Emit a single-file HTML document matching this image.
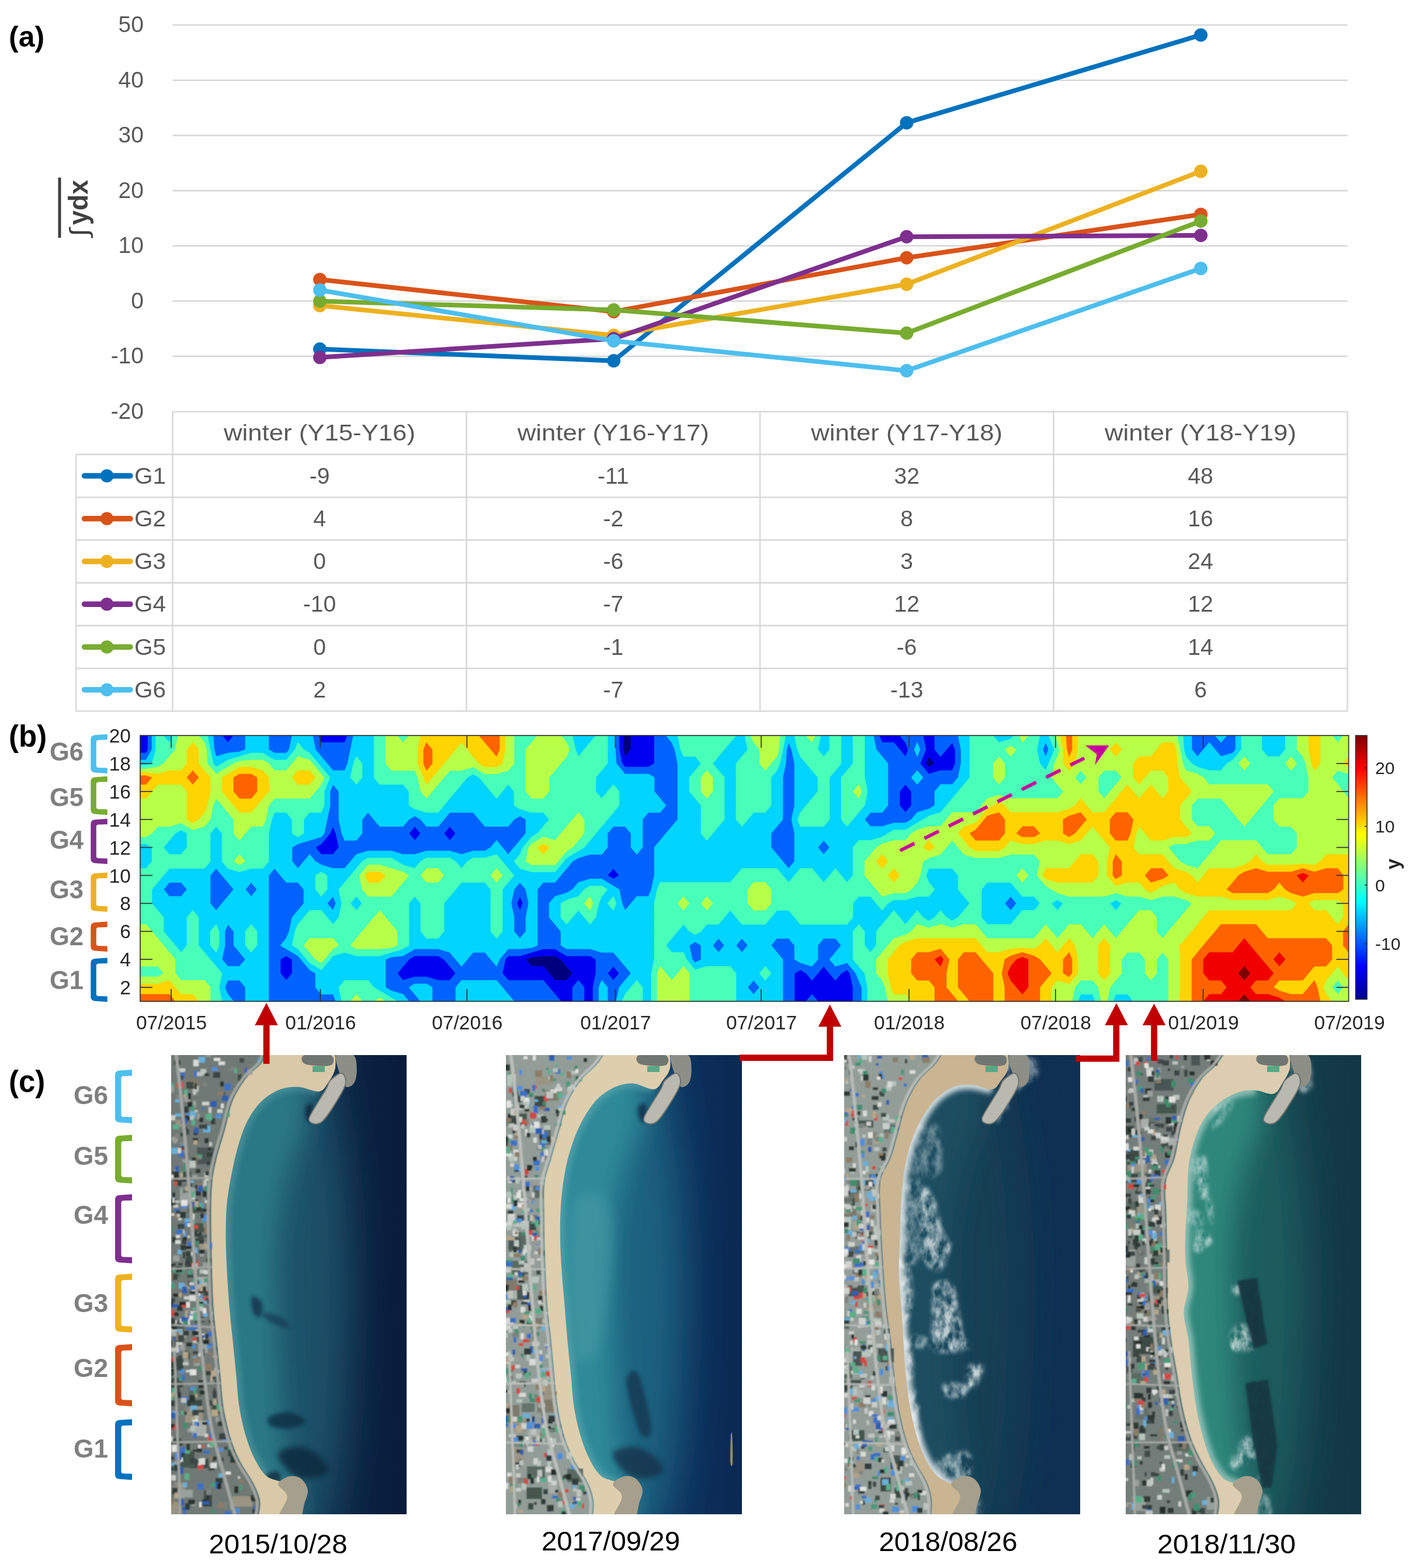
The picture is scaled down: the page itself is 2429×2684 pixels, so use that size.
<!DOCTYPE html>
<html lang="en"><head><meta charset="utf-8"><title>Figure</title>
<style>
html,body{margin:0;padding:0;background:#fff;}
body{width:2429px;height:2684px;overflow:hidden;font-family:"Liberation Sans",sans-serif;}
svg{display:block;}
</style></head><body>
<svg width="2429" height="2684" viewBox="0 0 2429 2684">
<rect width="2429" height="2684" fill="#fff"/>
<line x1="295.5" x2="2306.5" y1="42.9" y2="42.9" stroke="#d9d9d9" stroke-width="2.6"/>
<line x1="295.5" x2="2306.5" y1="137.4" y2="137.4" stroke="#d9d9d9" stroke-width="2.6"/>
<line x1="295.5" x2="2306.5" y1="231.9" y2="231.9" stroke="#d9d9d9" stroke-width="2.6"/>
<line x1="295.5" x2="2306.5" y1="326.4" y2="326.4" stroke="#d9d9d9" stroke-width="2.6"/>
<line x1="295.5" x2="2306.5" y1="420.9" y2="420.9" stroke="#d9d9d9" stroke-width="2.6"/>
<line x1="295.5" x2="2306.5" y1="515.4" y2="515.4" stroke="#d9d9d9" stroke-width="2.6"/>
<line x1="295.5" x2="2306.5" y1="609.9" y2="609.9" stroke="#d9d9d9" stroke-width="2.6"/>
<g font-family="'Liberation Sans', sans-serif" font-size="39" fill="#595959" text-anchor="end">
<text x="246" y="55.4">50</text>
<text x="246" y="149.9">40</text>
<text x="246" y="244.4">30</text>
<text x="246" y="338.9">20</text>
<text x="246" y="433.4">10</text>
<text x="246" y="527.9">0</text>
<text x="246" y="622.4">-10</text>
<text x="246" y="716.9">-20</text>
</g>
<g stroke="#d9d9d9" stroke-width="2.6" fill="none">
<line x1="295.5" x2="2306.5" y1="704.7" y2="704.7"/>
<line x1="130" x2="2306.5" y1="777.9" y2="777.9"/>
<line x1="130" x2="2306.5" y1="851.2" y2="851.2"/>
<line x1="130" x2="2306.5" y1="924.4" y2="924.4"/>
<line x1="130" x2="2306.5" y1="997.6" y2="997.6"/>
<line x1="130" x2="2306.5" y1="1070.9" y2="1070.9"/>
<line x1="130" x2="2306.5" y1="1144.1" y2="1144.1"/>
<line x1="130" x2="2306.5" y1="1217.3" y2="1217.3"/>
<line x1="130" x2="130" y1="777.9" y2="1217.3"/>
<line x1="295.5" x2="295.5" y1="704.7" y2="1217.3"/>
<line x1="798.5" x2="798.5" y1="704.7" y2="1217.3"/>
<line x1="1301" x2="1301" y1="704.7" y2="1217.3"/>
<line x1="1803.5" x2="1803.5" y1="704.7" y2="1217.3"/>
<line x1="2306.5" x2="2306.5" y1="704.7" y2="1217.3"/>
</g>
<g font-family="'Liberation Sans', sans-serif" font-size="39" fill="#595959" text-anchor="middle">
<text x="547.0" y="754.3" textLength="328" lengthAdjust="spacingAndGlyphs">winter (Y15-Y16)</text>
<text x="1049.8" y="754.3" textLength="328" lengthAdjust="spacingAndGlyphs">winter (Y16-Y17)</text>
<text x="1552.2" y="754.3" textLength="328" lengthAdjust="spacingAndGlyphs">winter (Y17-Y18)</text>
<text x="2055.0" y="754.3" textLength="328" lengthAdjust="spacingAndGlyphs">winter (Y18-Y19)</text>
<text x="547.0" y="827.5">-9</text>
<text x="1049.8" y="827.5">-11</text>
<text x="1552.2" y="827.5">32</text>
<text x="2055.0" y="827.5">48</text>
<text x="547.0" y="900.8">4</text>
<text x="1049.8" y="900.8">-2</text>
<text x="1552.2" y="900.8">8</text>
<text x="2055.0" y="900.8">16</text>
<text x="547.0" y="974.0">0</text>
<text x="1049.8" y="974.0">-6</text>
<text x="1552.2" y="974.0">3</text>
<text x="2055.0" y="974.0">24</text>
<text x="547.0" y="1047.2">-10</text>
<text x="1049.8" y="1047.2">-7</text>
<text x="1552.2" y="1047.2">12</text>
<text x="2055.0" y="1047.2">12</text>
<text x="547.0" y="1120.5">0</text>
<text x="1049.8" y="1120.5">-1</text>
<text x="1552.2" y="1120.5">-6</text>
<text x="2055.0" y="1120.5">14</text>
<text x="547.0" y="1193.7">2</text>
<text x="1049.8" y="1193.7">-7</text>
<text x="1552.2" y="1193.7">-13</text>
<text x="2055.0" y="1193.7">6</text>
</g>
<g font-family="'Liberation Sans', sans-serif" font-size="39" fill="#595959">
<line x1="144.5" x2="223" y1="814.5" y2="814.5" stroke="#0072bd" stroke-width="9.5" stroke-linecap="round"/>
<circle cx="183" cy="814.5" r="11.3" fill="#0072bd"/>
<text x="230" y="827.5" textLength="54" lengthAdjust="spacingAndGlyphs">G1</text>
<line x1="144.5" x2="223" y1="887.8" y2="887.8" stroke="#d95319" stroke-width="9.5" stroke-linecap="round"/>
<circle cx="183" cy="887.8" r="11.3" fill="#d95319"/>
<text x="230" y="900.8" textLength="54" lengthAdjust="spacingAndGlyphs">G2</text>
<line x1="144.5" x2="223" y1="961.0" y2="961.0" stroke="#edb120" stroke-width="9.5" stroke-linecap="round"/>
<circle cx="183" cy="961.0" r="11.3" fill="#edb120"/>
<text x="230" y="974.0" textLength="54" lengthAdjust="spacingAndGlyphs">G3</text>
<line x1="144.5" x2="223" y1="1034.2" y2="1034.2" stroke="#7e2f8e" stroke-width="9.5" stroke-linecap="round"/>
<circle cx="183" cy="1034.2" r="11.3" fill="#7e2f8e"/>
<text x="230" y="1047.2" textLength="54" lengthAdjust="spacingAndGlyphs">G4</text>
<line x1="144.5" x2="223" y1="1107.5" y2="1107.5" stroke="#77ac30" stroke-width="9.5" stroke-linecap="round"/>
<circle cx="183" cy="1107.5" r="11.3" fill="#77ac30"/>
<text x="230" y="1120.5" textLength="54" lengthAdjust="spacingAndGlyphs">G5</text>
<line x1="144.5" x2="223" y1="1180.7" y2="1180.7" stroke="#4dbeee" stroke-width="9.5" stroke-linecap="round"/>
<circle cx="183" cy="1180.7" r="11.3" fill="#4dbeee"/>
<text x="230" y="1193.7" textLength="54" lengthAdjust="spacingAndGlyphs">G6</text>
</g>
<polyline points="547.5,597.6 1050.5,617.5 1552,210.2 2055.5,59.9" fill="none" stroke="#0072bd" stroke-width="8" stroke-linejoin="round" stroke-linecap="round"/>
<circle cx="547.5" cy="597.6" r="11.5" fill="#0072bd"/>
<circle cx="1050.5" cy="617.5" r="11.5" fill="#0072bd"/>
<circle cx="1552" cy="210.2" r="11.5" fill="#0072bd"/>
<circle cx="2055.5" cy="59.9" r="11.5" fill="#0072bd"/>
<polyline points="547.5,478.5 1050.5,533.4 1552,441.2 2055.5,367.0" fill="none" stroke="#d95319" stroke-width="8" stroke-linejoin="round" stroke-linecap="round"/>
<circle cx="547.5" cy="478.5" r="11.5" fill="#d95319"/>
<circle cx="1050.5" cy="533.4" r="11.5" fill="#d95319"/>
<circle cx="1552" cy="441.2" r="11.5" fill="#d95319"/>
<circle cx="2055.5" cy="367.0" r="11.5" fill="#d95319"/>
<polyline points="547.5,523.0 1050.5,574.0 1552,486.5 2055.5,293.3" fill="none" stroke="#edb120" stroke-width="8" stroke-linejoin="round" stroke-linecap="round"/>
<circle cx="547.5" cy="523.0" r="11.5" fill="#edb120"/>
<circle cx="1050.5" cy="574.0" r="11.5" fill="#edb120"/>
<circle cx="1552" cy="486.5" r="11.5" fill="#edb120"/>
<circle cx="2055.5" cy="293.3" r="11.5" fill="#edb120"/>
<polyline points="547.5,611.8 1050.5,579.7 1552,405.2 2055.5,402.9" fill="none" stroke="#7e2f8e" stroke-width="8" stroke-linejoin="round" stroke-linecap="round"/>
<circle cx="547.5" cy="611.8" r="11.5" fill="#7e2f8e"/>
<circle cx="1050.5" cy="579.7" r="11.5" fill="#7e2f8e"/>
<circle cx="1552" cy="405.2" r="11.5" fill="#7e2f8e"/>
<circle cx="2055.5" cy="402.9" r="11.5" fill="#7e2f8e"/>
<polyline points="547.5,515.4 1050.5,530.5 1552,570.2 2055.5,378.4" fill="none" stroke="#77ac30" stroke-width="8" stroke-linejoin="round" stroke-linecap="round"/>
<circle cx="547.5" cy="515.4" r="11.5" fill="#77ac30"/>
<circle cx="1050.5" cy="530.5" r="11.5" fill="#77ac30"/>
<circle cx="1552" cy="570.2" r="11.5" fill="#77ac30"/>
<circle cx="2055.5" cy="378.4" r="11.5" fill="#77ac30"/>
<polyline points="547.5,496.5 1050.5,583.4 1552,634.5 2055.5,459.6" fill="none" stroke="#4dbeee" stroke-width="8" stroke-linejoin="round" stroke-linecap="round"/>
<circle cx="547.5" cy="496.5" r="11.5" fill="#4dbeee"/>
<circle cx="1050.5" cy="583.4" r="11.5" fill="#4dbeee"/>
<circle cx="1552" cy="634.5" r="11.5" fill="#4dbeee"/>
<circle cx="2055.5" cy="459.6" r="11.5" fill="#4dbeee"/>
<text x="15" y="80" font-family="'Liberation Sans', sans-serif" font-weight="bold" font-size="50" fill="#000">(a)</text>
<g transform="translate(150,405) rotate(-90)" font-family="'Liberation Sans', 'DejaVu Sans', sans-serif" fill="#404040"><text x="0" y="0" font-size="44" textLength="14" lengthAdjust="spacingAndGlyphs">∫</text><text x="20" y="0" font-weight="bold" font-size="46.5" textLength="77" lengthAdjust="spacingAndGlyphs">ydx</text><rect x="-2" y="-50.5" width="103" height="5" stroke="none"/></g>
<g shape-rendering="geometricPrecision">
<rect x="240.0" y="1259.0" width="2068.6" height="455.0" fill="#47ffb8"/>
<path d="M1070,1259 1080,1259 1080,1282.9 1070,1294.9 1066.7,1282.9 1066.7,1259ZM1590,1294.9 1600,1306.9 1590,1312.9 1585,1306.9ZM910,1638.2 930,1636.2 950,1636.2 960,1642.2 970,1654.1 980,1666.1 970,1678.1 950,1678.1 940,1666.1 930,1654.1 910,1654.1 900,1642.2Z" fill="#00007f" stroke="#00007f" stroke-width="0.6" fill-rule="evenodd"/>
<path d="M250,1259 253.3,1259 253.3,1282.9 250,1288.9 240,1288.9 240,1282.9 240,1259ZM390,1259 400,1259 390,1271 380,1259ZM550,1259 570,1259 590,1259 595,1259 590,1271 570,1271 550,1271 545,1259ZM1066.7,1282.9 1070,1294.9 1080,1282.9 1080,1259 1090,1259 1110,1259 1120,1259 1120,1282.9 1120,1306.9 1110,1312.9 1090,1312.9 1070,1312.9 1065,1306.9 1060,1282.9 1060,1259 1066.7,1259ZM1510,1259 1530,1259 1540,1259 1550,1271 1555,1282.9 1550,1294.9 1540,1282.9 1530,1271 1510,1271 1505,1259ZM1590,1259 1600,1259 1600,1282.9 1610,1294.9 1620,1282.9 1630,1271 1635,1282.9 1635,1306.9 1630,1318.9 1610,1318.9 1590,1324.9 1575,1306.9 1585,1282.9 1580,1259ZM1585,1306.9 1590,1312.9 1600,1306.9 1590,1294.9ZM1550,1342.8 1560,1354.8 1560,1378.7 1550,1390.7 1540,1378.7 1540,1354.8ZM570,1414.7 575,1426.6 580,1450.6 570,1462.6 550,1462.6 540,1450.6 550,1444.6 565,1426.6ZM710,1414.7 720,1426.6 710,1438.6 700,1426.6ZM770,1414.7 780,1426.6 770,1438.6 760,1426.6ZM1050,1486.5 1060,1498.5 1050,1504.5 1040,1498.5ZM890,1534.4 895,1546.4 890,1558.3 885,1546.4ZM490,1636.2 500,1642.2 500,1666.1 490,1678.1 480,1666.1 480,1642.2ZM710,1636.2 730,1636.2 750,1636.2 760,1642.2 770,1654.1 780,1666.1 770,1678.1 750,1678.1 730,1672.1 710,1672.1 690,1678.1 680,1666.1 690,1654.1 700,1642.2ZM870,1636.2 890,1636.2 910,1630.2 930,1624.2 950,1624.2 970,1636.2 990,1636.2 1010,1636.2 1020,1642.2 1020,1666.1 1015,1690.1 1015,1714 1010,1714 1000,1714 1000,1690.1 990,1678.1 980,1690.1 980,1714 970,1714 960,1714 950,1702 940,1690.1 930,1678.1 910,1678.1 890,1678.1 870,1678.1 860,1666.1 865,1642.2ZM900,1642.2 910,1654.1 930,1654.1 940,1666.1 950,1678.1 970,1678.1 980,1666.1 970,1654.1 960,1642.2 950,1636.2 930,1636.2 910,1638.2ZM1050,1654.1 1060,1666.1 1050,1678.1 1040,1666.1ZM1370,1660.1 1380,1666.1 1390,1678.1 1400,1666.1 1410,1654.1 1420,1666.1 1430,1678.1 1440,1666.1 1450,1660.1 1455,1666.1 1460,1690.1 1460,1714 1450,1714 1430,1714 1410,1714 1400,1714 1390,1702 1380,1714 1370,1714 1360,1714 1360,1690.1 1360,1666.1Z" fill="#0000f1" stroke="#0000f1" stroke-width="0.6" fill-rule="evenodd"/>
<path d="M260,1282.9 250,1300.9 240,1300.9 240,1288.9 250,1288.9 253.3,1282.9 253.3,1259 260,1259ZM370,1259 380,1259 390,1271 400,1259 410,1259 420,1259 420,1282.9 410,1286.9 390,1288.9 370,1294.9 366.7,1282.9 365,1259ZM470,1259 490,1259 500,1259 495,1282.9 490,1288.9 470,1288.9 460,1282.9 460,1259ZM550,1271 570,1271 590,1271 595,1259 605,1259 600,1282.9 595,1306.9 590,1318.9 570,1318.9 560,1306.9 550,1294.9 540,1282.9 535,1259 545,1259ZM1060,1282.9 1065,1306.9 1070,1312.9 1090,1312.9 1110,1312.9 1120,1306.9 1120,1282.9 1120,1259 1130,1259 1140,1259 1150,1271 1155,1282.9 1160,1306.9 1160,1330.8 1160,1354.8 1160,1378.7 1160,1402.7 1150,1414.7 1140,1426.6 1130,1438.6 1120,1450.6 1120,1474.5 1120,1498.5 1115,1522.4 1110,1534.4 1090,1534.4 1080,1546.4 1070,1558.3 1065,1546.4 1060,1522.4 1050,1516.4 1030,1504.5 1010,1504.5 990,1510.4 980,1522.4 970,1528.4 950,1534.4 940,1546.4 940,1570.3 950,1582.3 960,1594.3 960,1618.2 970,1624.2 990,1624.2 1010,1624.2 1030,1630.2 1050,1630.2 1060,1642.2 1070,1654.1 1080,1666.1 1070,1678.1 1060,1690.1 1055,1714 1050,1714 1040,1714 1040,1690.1 1030,1678.1 1025,1690.1 1025,1714 1015,1714 1015,1690.1 1020,1666.1 1020,1642.2 1010,1636.2 990,1636.2 970,1636.2 950,1624.2 930,1624.2 910,1630.2 890,1636.2 870,1636.2 865,1642.2 860,1666.1 870,1678.1 890,1678.1 910,1678.1 930,1678.1 940,1690.1 950,1702 960,1714 950,1714 930,1714 910,1714 890,1714 880,1714 870,1702 860,1690.1 850,1678.1 830,1678.1 810,1678.1 790,1678.1 780,1690.1 780,1714 770,1714 750,1714 740,1714 740,1690.1 730,1684.1 710,1684.1 700,1690.1 710,1702 720,1714 710,1714 700,1714 690,1702 670,1696 660,1690.1 660,1666.1 660,1642.2 670,1638.2 690,1636.2 710,1624.2 730,1624.2 750,1624.2 770,1630.2 780,1642.2 790,1654.1 800,1642.2 810,1630.2 830,1630.2 840,1642.2 850,1654.1 855,1642.2 870,1624.2 890,1624.2 910,1622.2 920,1618.2 920,1594.3 920,1570.3 920,1546.4 920,1522.4 930,1510.4 950,1510.4 960,1498.5 970,1486.5 980,1474.5 990,1468.5 1010,1462.6 1030,1462.6 1040,1450.6 1040,1426.6 1050,1414.7 1070,1414.7 1080,1426.6 1080,1450.6 1090,1462.6 1100,1450.6 1100,1426.6 1100,1402.7 1110,1390.7 1130,1390.7 1140,1378.7 1130,1366.8 1120,1354.8 1120,1330.8 1110,1324.9 1090,1324.9 1070,1324.9 1055,1306.9 1053.3,1282.9 1053.3,1259 1060,1259ZM1040,1498.5 1050,1504.5 1060,1498.5 1050,1486.5ZM700,1642.2 690,1654.1 680,1666.1 690,1678.1 710,1672.1 730,1672.1 750,1678.1 770,1678.1 780,1666.1 770,1654.1 760,1642.2 750,1636.2 730,1636.2 710,1636.2ZM1040,1666.1 1050,1678.1 1060,1666.1 1050,1654.1ZM1350,1271 1355,1282.9 1360,1306.9 1360,1330.8 1360,1354.8 1360,1378.7 1355,1402.7 1360,1426.6 1360,1450.6 1360,1474.5 1350,1486.5 1340,1474.5 1330,1462.6 1320,1450.6 1320,1426.6 1330,1414.7 1340,1402.7 1340,1378.7 1340,1354.8 1340,1330.8 1345,1306.9 1346.7,1282.9ZM1510,1271 1530,1271 1540,1282.9 1550,1294.9 1555,1282.9 1550,1271 1540,1259 1550,1259 1570,1259 1580,1259 1585,1282.9 1575,1306.9 1590,1324.9 1610,1318.9 1630,1318.9 1635,1306.9 1635,1282.9 1630,1271 1620,1282.9 1610,1294.9 1600,1282.9 1600,1259 1610,1259 1630,1259 1640,1259 1645,1282.9 1645,1306.9 1640,1330.8 1630,1342.8 1610,1342.8 1600,1354.8 1600,1378.7 1590,1384.7 1570,1390.7 1560,1402.7 1550,1408.7 1530,1408.7 1510,1414.7 1490,1414.7 1480,1402.7 1490,1390.7 1510,1390.7 1520,1378.7 1520,1354.8 1520,1330.8 1520,1306.9 1510,1294.9 1500,1282.9 1495,1259 1505,1259ZM1565,1282.9 1570,1294.9 1575,1282.9 1570,1271ZM1560,1330.8 1570,1342.8 1580,1330.8 1570,1318.9ZM1540,1354.8 1540,1378.7 1550,1390.7 1560,1378.7 1560,1354.8 1550,1342.8ZM1790,1271 1795,1282.9 1790,1294.9 1785,1282.9ZM2050,1259 2070,1259 2080,1259 2090,1271 2100,1259 2110,1259 2115,1259 2115,1282.9 2110,1288.9 2090,1294.9 2080,1282.9 2070,1271 2060,1282.9 2050,1294.9 2040,1282.9 2040,1259ZM570,1342.8 580,1354.8 580,1378.7 580,1402.7 585,1426.6 590,1438.6 610,1438.6 620,1426.6 620,1402.7 630,1390.7 640,1402.7 650,1414.7 670,1414.7 690,1414.7 700,1402.7 710,1396.7 720,1402.7 730,1414.7 750,1414.7 760,1402.7 770,1390.7 790,1390.7 810,1390.7 820,1402.7 830,1414.7 850,1414.7 870,1414.7 880,1402.7 890,1396.7 900,1402.7 900,1426.6 890,1438.6 880,1450.6 870,1462.6 860,1450.6 850,1438.6 840,1450.6 830,1456.6 810,1456.6 790,1462.6 770,1456.6 750,1456.6 730,1456.6 710,1462.6 690,1462.6 670,1456.6 650,1456.6 630,1456.6 610,1462.6 600,1474.5 590,1486.5 570,1486.5 550,1480.5 540,1474.5 530,1462.6 520,1474.5 510,1486.5 500,1474.5 500,1450.6 510,1444.6 530,1438.6 550,1432.6 555,1426.6 560,1402.7 565,1378.7 565,1354.8ZM565,1426.6 550,1444.6 540,1450.6 550,1462.6 570,1462.6 580,1450.6 575,1426.6 570,1414.7ZM700,1426.6 710,1438.6 720,1426.6 710,1414.7ZM760,1426.6 770,1438.6 780,1426.6 770,1414.7ZM1410,1438.6 1420,1450.6 1410,1462.6 1400,1450.6ZM370,1486.5 380,1498.5 390,1510.4 400,1522.4 390,1534.4 380,1546.4 370,1558.3 360,1546.4 360,1522.4 360,1498.5ZM470,1486.5 480,1498.5 490,1510.4 510,1510.4 520,1522.4 520,1546.4 510,1558.3 500,1570.3 495,1594.3 490,1606.2 480,1618.2 490,1624.2 510,1636.2 515,1642.2 530,1660.1 540,1666.1 540,1690.1 550,1702 570,1702 575,1714 570,1714 550,1714 530,1714 510,1714 490,1714 470,1714 460,1714 460,1690.1 460,1666.1 460,1642.2 460,1618.2 460,1594.3 460,1570.3 460,1546.4 460,1522.4 460,1498.5ZM480,1642.2 480,1666.1 490,1678.1 500,1666.1 500,1642.2 490,1636.2ZM290,1510.4 310,1510.4 320,1522.4 310,1534.4 290,1534.4 280,1522.4ZM430,1510.4 440,1522.4 430,1534.4 420,1522.4ZM890,1510.4 900,1522.4 905,1546.4 900,1570.3 900,1594.3 890,1606.2 880,1594.3 880,1570.3 875,1546.4 880,1522.4ZM885,1546.4 890,1558.3 895,1546.4 890,1534.4ZM570,1534.4 575,1546.4 570,1558.3 560,1546.4ZM1730,1534.4 1740,1546.4 1730,1558.3 1720,1546.4ZM390,1582.3 400,1594.3 400,1618.2 410,1630.2 420,1642.2 410,1654.1 390,1654.1 380,1642.2 385,1618.2 385,1594.3ZM1190,1612.2 1200,1618.2 1200,1642.2 1190,1648.1 1185,1642.2 1180,1618.2ZM1230,1606.2 1240,1618.2 1230,1630.2 1220,1618.2ZM1270,1606.2 1280,1618.2 1270,1630.2 1260,1618.2ZM1330,1606.2 1350,1606.2 1360,1618.2 1360,1642.2 1370,1648.1 1390,1654.1 1400,1642.2 1400,1618.2 1410,1606.2 1430,1606.2 1440,1618.2 1430,1630.2 1420,1642.2 1430,1654.1 1450,1648.1 1465,1666.1 1470,1678.1 1475,1690.1 1475,1714 1470,1714 1460,1714 1460,1690.1 1455,1666.1 1450,1660.1 1440,1666.1 1430,1678.1 1420,1666.1 1410,1654.1 1400,1666.1 1390,1678.1 1380,1666.1 1370,1660.1 1360,1666.1 1360,1690.1 1360,1714 1350,1714 1340,1714 1340,1690.1 1340,1666.1 1340,1642.2 1330,1630.2 1320,1618.2ZM390,1678.1 410,1678.1 420,1690.1 420,1714 410,1714 400,1714 390,1702 385,1690.1ZM990,1678.1 1000,1690.1 1000,1714 990,1714 980,1714 980,1690.1ZM1290,1678.1 1300,1690.1 1290,1702 1280,1690.1ZM1390,1702 1400,1714 1390,1714 1380,1714Z" fill="#0063ff" stroke="#0063ff" stroke-width="0.6" fill-rule="evenodd"/>
<path d="M266.7,1282.9 260,1306.9 250,1309.9 240,1309.9 240,1306.9 240,1300.9 250,1300.9 260,1282.9 260,1259 266.7,1259ZM290,1259 295,1259 290,1271 280,1259ZM366.7,1282.9 370,1294.9 390,1288.9 410,1286.9 420,1282.9 420,1259 430,1259 450,1259 460,1259 460,1282.9 470,1288.9 490,1288.9 495,1282.9 500,1259 510,1259 530,1259 535,1259 540,1282.9 550,1294.9 560,1306.9 570,1318.9 590,1318.9 595,1306.9 600,1282.9 605,1259 610,1259 630,1259 640,1259 640,1282.9 640,1306.9 640,1330.8 650,1342.8 670,1342.8 690,1342.8 700,1354.8 700,1378.7 710,1384.7 730,1390.7 750,1390.7 760,1378.7 770,1366.8 780,1354.8 790,1342.8 800,1330.8 810,1324.9 820,1330.8 830,1342.8 840,1354.8 850,1366.8 860,1354.8 870,1342.8 880,1354.8 880,1378.7 890,1384.7 910,1390.7 930,1390.7 940,1402.7 930,1414.7 920,1426.6 910,1432.6 895,1450.6 890,1462.6 880,1474.5 890,1486.5 910,1492.5 930,1492.5 950,1492.5 965,1474.5 970,1468.5 990,1456.6 1000,1450.6 1010,1438.6 1020,1426.6 1030,1414.7 1040,1402.7 1050,1390.7 1060,1378.7 1060,1354.8 1050,1342.8 1040,1354.8 1030,1366.8 1020,1354.8 1020,1330.8 1030,1318.9 1040,1306.9 1040,1282.9 1040,1259 1050,1259 1053.3,1259 1053.3,1282.9 1055,1306.9 1070,1324.9 1090,1324.9 1110,1324.9 1120,1330.8 1120,1354.8 1130,1366.8 1140,1378.7 1130,1390.7 1110,1390.7 1100,1402.7 1100,1426.6 1100,1450.6 1090,1462.6 1080,1450.6 1080,1426.6 1070,1414.7 1050,1414.7 1040,1426.6 1040,1450.6 1030,1462.6 1010,1462.6 990,1468.5 980,1474.5 970,1486.5 960,1498.5 950,1510.4 930,1510.4 920,1522.4 920,1546.4 920,1570.3 920,1594.3 920,1618.2 910,1622.2 890,1624.2 870,1624.2 855,1642.2 850,1654.1 840,1642.2 830,1630.2 810,1630.2 800,1642.2 790,1654.1 780,1642.2 770,1630.2 750,1624.2 730,1624.2 710,1624.2 690,1636.2 670,1638.2 660,1642.2 660,1666.1 660,1690.1 670,1696 690,1702 700,1714 690,1714 680,1714 670,1708 650,1696 640,1690.1 630,1678.1 610,1678.1 590,1678.1 580,1690.1 585,1714 575,1714 570,1702 550,1702 540,1690.1 540,1666.1 530,1660.1 515,1642.2 510,1636.2 490,1624.2 480,1618.2 490,1606.2 495,1594.3 500,1570.3 510,1558.3 520,1546.4 520,1522.4 510,1510.4 490,1510.4 480,1498.5 470,1486.5 460,1498.5 460,1522.4 460,1546.4 460,1570.3 460,1594.3 460,1618.2 460,1642.2 460,1666.1 460,1690.1 460,1714 450,1714 430,1714 420,1714 420,1690.1 410,1678.1 390,1678.1 385,1690.1 390,1702 400,1714 390,1714 380,1714 375,1690.1 380,1666.1 370,1654.1 360,1642.2 350,1630.2 340,1618.2 340,1594.3 340,1570.3 330,1558.3 320,1570.3 320,1594.3 320,1618.2 310,1630.2 300,1618.2 290,1606.2 280,1594.3 280,1570.3 270,1558.3 260,1546.4 260,1522.4 270,1510.4 280,1498.5 290,1486.5 310,1486.5 330,1486.5 350,1486.5 360,1474.5 360,1450.6 360,1426.6 370,1414.7 380,1426.6 380,1450.6 380,1474.5 390,1486.5 410,1492.5 430,1486.5 450,1486.5 460,1474.5 460,1450.6 460,1426.6 465,1402.7 470,1390.7 490,1390.7 500,1402.7 500,1426.6 510,1432.6 520,1426.6 520,1402.7 530,1390.7 550,1390.7 555,1378.7 555,1354.8 565,1330.8 550,1312.9 545,1306.9 530,1288.9 520,1282.9 510,1271 505,1282.9 490,1300.9 470,1300.9 450,1288.9 430,1288.9 410,1294.9 390,1300.9 380,1306.9 370,1312.9 365,1306.9 360,1282.9 355,1259 365,1259ZM605,1306.9 600,1330.8 610,1342.8 620,1330.8 620,1306.9 610,1294.9ZM565,1354.8 565,1378.7 560,1402.7 555,1426.6 550,1432.6 530,1438.6 510,1444.6 500,1450.6 500,1474.5 510,1486.5 520,1474.5 530,1462.6 540,1474.5 550,1480.5 570,1486.5 590,1486.5 600,1474.5 610,1462.6 630,1456.6 650,1456.6 670,1456.6 690,1462.6 710,1462.6 730,1456.6 750,1456.6 770,1456.6 790,1462.6 810,1456.6 830,1456.6 840,1450.6 850,1438.6 860,1450.6 870,1462.6 880,1450.6 890,1438.6 900,1426.6 900,1402.7 890,1396.7 880,1402.7 870,1414.7 850,1414.7 830,1414.7 820,1402.7 810,1390.7 790,1390.7 770,1390.7 760,1402.7 750,1414.7 730,1414.7 720,1402.7 710,1396.7 700,1402.7 690,1414.7 670,1414.7 650,1414.7 640,1402.7 630,1390.7 620,1402.7 620,1426.6 610,1438.6 590,1438.6 585,1426.6 580,1402.7 580,1378.7 580,1354.8 570,1342.8ZM620,1474.5 610,1486.5 600,1498.5 590,1510.4 580,1522.4 585,1546.4 580,1570.3 570,1582.3 560,1570.3 550,1558.3 530,1558.3 520,1570.3 510,1582.3 505,1594.3 500,1618.2 510,1624.2 525,1642.2 530,1648.1 550,1660.1 565,1642.2 570,1636.2 590,1630.2 610,1636.2 630,1636.2 650,1636.2 670,1630.2 690,1624.2 700,1618.2 700,1594.3 700,1570.3 700,1546.4 710,1534.4 720,1546.4 720,1570.3 720,1594.3 730,1606.2 750,1606.2 760,1594.3 760,1570.3 760,1546.4 770,1534.4 780,1522.4 790,1510.4 810,1510.4 830,1510.4 840,1522.4 840,1546.4 840,1570.3 840,1594.3 850,1606.2 860,1594.3 860,1570.3 860,1546.4 860,1522.4 870,1510.4 880,1498.5 870,1486.5 860,1474.5 850,1462.6 830,1468.5 810,1468.5 800,1474.5 790,1486.5 780,1474.5 770,1468.5 750,1468.5 730,1468.5 720,1474.5 710,1486.5 690,1480.5 680,1474.5 670,1468.5 650,1468.5 630,1468.5ZM360,1498.5 360,1522.4 360,1546.4 370,1558.3 380,1546.4 390,1534.4 400,1522.4 390,1510.4 380,1498.5 370,1486.5ZM540,1498.5 540,1522.4 550,1534.4 560,1522.4 560,1498.5 550,1492.5ZM280,1522.4 290,1534.4 310,1534.4 320,1522.4 310,1510.4 290,1510.4ZM420,1522.4 430,1534.4 440,1522.4 430,1510.4ZM880,1522.4 875,1546.4 880,1570.3 880,1594.3 890,1606.2 900,1594.3 900,1570.3 905,1546.4 900,1522.4 890,1510.4ZM560,1546.4 570,1558.3 575,1546.4 570,1534.4ZM360,1594.3 360,1618.2 370,1630.2 375,1618.2 375,1594.3 370,1582.3ZM385,1594.3 385,1618.2 380,1642.2 390,1654.1 410,1654.1 420,1642.2 410,1630.2 400,1618.2 400,1594.3 390,1582.3ZM420,1594.3 420,1618.2 430,1630.2 440,1618.2 440,1594.3 430,1582.3ZM990,1259 1010,1259 1020,1259 1010,1271 1000,1282.9 990,1294.9 985,1282.9 980,1259ZM1150,1259 1160,1259 1165,1282.9 1170,1294.9 1190,1294.9 1200,1306.9 1190,1318.9 1180,1330.8 1180,1354.8 1190,1366.8 1200,1378.7 1200,1402.7 1200,1426.6 1210,1438.6 1220,1426.6 1230,1414.7 1240,1402.7 1240,1378.7 1240,1354.8 1240,1330.8 1230,1318.9 1220,1306.9 1230,1294.9 1240,1282.9 1250,1271 1260,1259 1270,1259 1275,1259 1280,1282.9 1270,1294.9 1260,1306.9 1260,1330.8 1260,1354.8 1260,1378.7 1260,1402.7 1270,1414.7 1280,1402.7 1290,1390.7 1310,1390.7 1320,1378.7 1320,1354.8 1320,1330.8 1330,1318.9 1335,1306.9 1340,1282.9 1345,1259 1350,1259 1360,1259 1365,1282.9 1370,1294.9 1380,1306.9 1390,1318.9 1400,1330.8 1400,1354.8 1390,1366.8 1380,1378.7 1370,1390.7 1365,1402.7 1370,1414.7 1390,1414.7 1410,1414.7 1420,1402.7 1420,1378.7 1420,1354.8 1420,1330.8 1430,1318.9 1440,1306.9 1440,1282.9 1440,1259 1450,1259 1460,1259 1460,1282.9 1460,1306.9 1450,1318.9 1440,1330.8 1440,1354.8 1440,1378.7 1440,1402.7 1450,1414.7 1460,1402.7 1470,1390.7 1480,1378.7 1485,1354.8 1480,1330.8 1480,1306.9 1480,1282.9 1480,1259 1490,1259 1495,1259 1500,1282.9 1510,1294.9 1520,1306.9 1520,1330.8 1520,1354.8 1520,1378.7 1510,1390.7 1490,1390.7 1480,1402.7 1490,1414.7 1510,1414.7 1530,1408.7 1550,1408.7 1560,1402.7 1570,1390.7 1590,1384.7 1600,1378.7 1600,1354.8 1610,1342.8 1630,1342.8 1640,1330.8 1645,1306.9 1645,1282.9 1640,1259 1650,1259 1660,1259 1660,1282.9 1660,1306.9 1660,1330.8 1650,1342.8 1640,1354.8 1630,1366.8 1620,1378.7 1610,1390.7 1590,1396.7 1580,1402.7 1570,1408.7 1550,1420.6 1530,1420.6 1520,1426.6 1510,1432.6 1490,1438.6 1470,1438.6 1460,1450.6 1460,1474.5 1460,1498.5 1450,1510.4 1440,1498.5 1430,1486.5 1420,1498.5 1410,1510.4 1400,1498.5 1390,1486.5 1370,1486.5 1360,1498.5 1350,1510.4 1340,1498.5 1330,1486.5 1310,1486.5 1290,1486.5 1270,1486.5 1260,1498.5 1250,1510.4 1230,1510.4 1210,1510.4 1190,1510.4 1170,1510.4 1150,1510.4 1130,1510.4 1125,1522.4 1120,1546.4 1120,1570.3 1120,1594.3 1120,1618.2 1120,1642.2 1115,1666.1 1115,1690.1 1115,1714 1110,1714 1100,1714 1100,1690.1 1090,1678.1 1080,1690.1 1070,1702 1065,1714 1055,1714 1060,1690.1 1070,1678.1 1080,1666.1 1070,1654.1 1060,1642.2 1050,1630.2 1030,1630.2 1010,1624.2 990,1624.2 970,1624.2 960,1618.2 960,1594.3 950,1582.3 940,1570.3 940,1546.4 950,1534.4 970,1528.4 980,1522.4 990,1510.4 1010,1504.5 1030,1504.5 1050,1516.4 1060,1522.4 1065,1546.4 1070,1558.3 1080,1546.4 1090,1534.4 1110,1534.4 1115,1522.4 1120,1498.5 1120,1474.5 1120,1450.6 1130,1438.6 1140,1426.6 1150,1414.7 1160,1402.7 1160,1378.7 1160,1354.8 1160,1330.8 1160,1306.9 1155,1282.9 1150,1271 1140,1259ZM1346.7,1282.9 1345,1306.9 1340,1330.8 1340,1354.8 1340,1378.7 1340,1402.7 1330,1414.7 1320,1426.6 1320,1450.6 1330,1462.6 1340,1474.5 1350,1486.5 1360,1474.5 1360,1450.6 1360,1426.6 1355,1402.7 1360,1378.7 1360,1354.8 1360,1330.8 1360,1306.9 1355,1282.9 1350,1271ZM1400,1450.6 1410,1462.6 1420,1450.6 1410,1438.6ZM1000,1522.4 990,1534.4 970,1540.4 960,1546.4 960,1570.3 970,1582.3 980,1570.3 990,1558.3 1000,1570.3 1010,1582.3 1020,1570.3 1025,1546.4 1030,1534.4 1040,1522.4 1030,1516.4 1010,1516.4ZM1040,1546.4 1050,1558.3 1055,1546.4 1050,1534.4ZM1410,1259 1420,1259 1420,1282.9 1410,1294.9 1400,1282.9 1405,1259ZM1570,1271 1575,1282.9 1570,1294.9 1565,1282.9ZM1710,1259 1730,1259 1735,1259 1730,1265 1710,1271 1700,1259ZM1790,1259 1795,1259 1805,1282.9 1795,1306.9 1790,1318.9 1780,1306.9 1775,1282.9 1780,1259ZM1785,1282.9 1790,1294.9 1795,1282.9 1790,1271ZM2030,1259 2040,1259 2040,1282.9 2050,1294.9 2060,1282.9 2070,1271 2080,1282.9 2090,1294.9 2110,1288.9 2115,1282.9 2115,1259 2125,1259 2125,1282.9 2110,1300.9 2100,1306.9 2090,1318.9 2070,1318.9 2050,1312.9 2040,1306.9 2030,1294.9 2026.7,1282.9 2025,1259ZM2090,1259 2100,1259 2090,1271 2080,1259ZM2170,1259 2190,1259 2200,1259 2200,1282.9 2190,1294.9 2170,1294.9 2160,1282.9 2160,1259ZM1570,1318.9 1580,1330.8 1570,1342.8 1560,1330.8ZM310,1420.6 320,1426.6 320,1450.6 310,1462.6 290,1462.6 280,1450.6 290,1438.6 300,1426.6ZM250,1444.6 260,1450.6 260,1474.5 250,1486.5 240,1486.5 240,1474.5 240,1450.6 240,1444.6ZM1590,1486.5 1610,1486.5 1630,1486.5 1640,1498.5 1640,1522.4 1650,1534.4 1660,1546.4 1650,1558.3 1640,1570.3 1630,1576.3 1620,1570.3 1610,1558.3 1600,1570.3 1590,1576.3 1580,1570.3 1570,1558.3 1560,1570.3 1550,1582.3 1540,1570.3 1530,1558.3 1520,1570.3 1510,1582.3 1500,1594.3 1500,1618.2 1490,1630.2 1480,1618.2 1480,1594.3 1470,1582.3 1460,1594.3 1460,1618.2 1460,1642.2 1470,1654.1 1480,1666.1 1485,1690.1 1485,1714 1475,1714 1475,1690.1 1470,1678.1 1465,1666.1 1450,1648.1 1430,1654.1 1420,1642.2 1430,1630.2 1440,1618.2 1430,1606.2 1410,1606.2 1400,1618.2 1400,1642.2 1390,1654.1 1370,1648.1 1360,1642.2 1360,1618.2 1350,1606.2 1330,1606.2 1320,1618.2 1330,1630.2 1340,1642.2 1340,1666.1 1340,1690.1 1340,1714 1330,1714 1310,1714 1290,1714 1270,1714 1260,1714 1260,1690.1 1260,1666.1 1250,1654.1 1230,1654.1 1210,1654.1 1190,1660.1 1175,1642.2 1170,1630.2 1150,1630.2 1140,1618.2 1150,1606.2 1160,1594.3 1170,1582.3 1180,1594.3 1190,1600.2 1200,1594.3 1210,1582.3 1230,1582.3 1240,1570.3 1250,1558.3 1260,1570.3 1270,1582.3 1290,1582.3 1310,1582.3 1320,1570.3 1330,1558.3 1350,1558.3 1360,1570.3 1370,1582.3 1390,1582.3 1410,1582.3 1430,1582.3 1450,1582.3 1460,1570.3 1460,1546.4 1470,1534.4 1490,1534.4 1500,1546.4 1510,1558.3 1520,1546.4 1530,1540.4 1550,1540.4 1570,1534.4 1590,1534.4 1600,1522.4 1590,1510.4 1585,1498.5ZM1180,1618.2 1185,1642.2 1190,1648.1 1200,1642.2 1200,1618.2 1190,1612.2ZM1220,1618.2 1230,1630.2 1240,1618.2 1230,1606.2ZM1260,1618.2 1270,1630.2 1280,1618.2 1270,1606.2ZM1300,1666.1 1310,1678.1 1320,1666.1 1310,1654.1ZM1280,1690.1 1290,1702 1300,1690.1 1290,1678.1ZM1690,1510.4 1710,1510.4 1730,1510.4 1740,1522.4 1750,1534.4 1770,1534.4 1780,1546.4 1770,1558.3 1750,1558.3 1740,1570.3 1730,1582.3 1710,1582.3 1690,1582.3 1680,1570.3 1680,1546.4 1680,1522.4ZM1720,1546.4 1730,1558.3 1740,1546.4 1730,1534.4ZM610,1534.4 620,1546.4 610,1558.3 600,1546.4ZM1810,1540.4 1820,1546.4 1810,1558.3 1800,1546.4ZM1910,1540.4 1920,1546.4 1910,1558.3 1900,1546.4ZM710,1684.1 730,1684.1 740,1690.1 740,1714 730,1714 720,1714 710,1702 700,1690.1ZM790,1678.1 810,1678.1 830,1678.1 850,1678.1 860,1690.1 870,1702 880,1714 870,1714 850,1714 830,1714 810,1714 790,1714 780,1714 780,1690.1ZM1030,1678.1 1040,1690.1 1040,1714 1030,1714 1025,1714 1025,1690.1ZM1850,1702 1870,1702 1875,1714 1870,1714 1850,1714 1845,1714ZM1910,1702 1930,1702 1940,1714 1930,1714 1910,1714 1905,1714Z" fill="#00d4ff" stroke="#00d4ff" stroke-width="0.6" fill-rule="evenodd"/>
<path d="M270,1259 280,1259 290,1271 295,1259 305,1259 300,1282.9 290,1294.9 280,1306.9 270,1312.9 250,1315.9 240,1315.9 240,1309.9 250,1309.9 260,1306.9 266.7,1282.9 266.7,1259ZM350,1259 355,1259 360,1282.9 365,1306.9 370,1312.9 380,1306.9 390,1300.9 410,1294.9 430,1288.9 450,1288.9 470,1300.9 490,1300.9 505,1282.9 510,1271 520,1282.9 530,1288.9 545,1306.9 550,1312.9 565,1330.8 555,1354.8 555,1378.7 550,1390.7 530,1390.7 520,1402.7 520,1426.6 510,1432.6 500,1426.6 500,1402.7 490,1390.7 470,1390.7 465,1402.7 460,1426.6 460,1450.6 460,1474.5 450,1486.5 430,1486.5 410,1492.5 390,1486.5 380,1474.5 380,1450.6 380,1426.6 370,1414.7 360,1426.6 360,1450.6 360,1474.5 350,1486.5 330,1486.5 310,1486.5 290,1486.5 280,1498.5 270,1510.4 260,1522.4 260,1546.4 270,1558.3 280,1570.3 280,1594.3 290,1606.2 300,1618.2 310,1630.2 320,1618.2 320,1594.3 320,1570.3 330,1558.3 340,1570.3 340,1594.3 340,1618.2 350,1630.2 360,1642.2 370,1654.1 380,1666.1 375,1690.1 380,1714 370,1714 360,1714 360,1690.1 350,1678.1 330,1678.1 310,1678.1 300,1666.1 300,1642.2 290,1630.2 280,1618.2 270,1606.2 260,1594.3 250,1582.3 240,1582.3 240,1570.3 240,1546.4 240,1522.4 240,1498.5 240,1486.5 250,1486.5 260,1474.5 260,1450.6 250,1444.6 240,1444.6 240,1432.6 250,1432.6 260,1426.6 270,1414.7 290,1414.7 310,1408.7 330,1420.6 350,1414.7 360,1402.7 365,1378.7 370,1366.8 380,1378.7 390,1390.7 400,1402.7 400,1426.6 410,1438.6 420,1426.6 430,1414.7 450,1414.7 455,1402.7 460,1378.7 470,1366.8 490,1366.8 510,1366.8 530,1366.8 540,1354.8 550,1342.8 555,1330.8 550,1324.9 535,1306.9 530,1300.9 510,1294.9 500,1306.9 490,1318.9 470,1318.9 460,1306.9 450,1300.9 430,1300.9 410,1302.9 400,1306.9 390,1312.9 370,1324.9 355,1306.9 353.3,1282.9 350,1271 340,1259ZM300,1426.6 290,1438.6 280,1450.6 290,1462.6 310,1462.6 320,1450.6 320,1426.6 310,1420.6ZM400,1474.5 410,1480.5 420,1474.5 410,1462.6ZM650,1259 660,1259 660,1282.9 660,1306.9 670,1318.9 690,1318.9 710,1318.9 715,1330.8 720,1354.8 730,1366.8 740,1354.8 750,1342.8 760,1330.8 770,1318.9 790,1318.9 810,1312.9 830,1324.9 850,1324.9 870,1318.9 880,1306.9 880,1282.9 880,1259 890,1259 910,1259 920,1259 910,1271 900,1282.9 900,1306.9 900,1330.8 900,1354.8 910,1366.8 930,1366.8 940,1354.8 940,1330.8 950,1318.9 960,1306.9 970,1294.9 975,1282.9 970,1271 960,1259 970,1259 980,1259 985,1282.9 990,1294.9 1000,1282.9 1010,1271 1020,1259 1030,1259 1040,1259 1040,1282.9 1040,1306.9 1030,1318.9 1020,1330.8 1020,1354.8 1030,1366.8 1040,1354.8 1050,1342.8 1060,1354.8 1060,1378.7 1050,1390.7 1040,1402.7 1030,1414.7 1020,1426.6 1010,1438.6 1000,1450.6 990,1456.6 970,1468.5 965,1474.5 950,1492.5 930,1492.5 910,1492.5 890,1486.5 880,1474.5 890,1462.6 895,1450.6 910,1432.6 920,1426.6 930,1414.7 940,1402.7 930,1390.7 910,1390.7 890,1384.7 880,1378.7 880,1354.8 870,1342.8 860,1354.8 850,1366.8 840,1354.8 830,1342.8 820,1330.8 810,1324.9 800,1330.8 790,1342.8 780,1354.8 770,1366.8 760,1378.7 750,1390.7 730,1390.7 710,1384.7 700,1378.7 700,1354.8 690,1342.8 670,1342.8 650,1342.8 640,1330.8 640,1306.9 640,1282.9 640,1259ZM980,1402.7 970,1414.7 960,1426.6 950,1438.6 930,1432.6 910,1444.6 905,1450.6 900,1474.5 910,1480.5 930,1480.5 950,1480.5 955,1474.5 970,1456.6 980,1450.6 990,1438.6 1000,1426.6 1000,1402.7 990,1390.7ZM690,1259 700,1259 690,1271 680,1259ZM1170,1259 1190,1259 1210,1259 1230,1259 1250,1259 1260,1259 1250,1271 1240,1282.9 1230,1294.9 1220,1306.9 1230,1318.9 1240,1330.8 1240,1354.8 1240,1378.7 1240,1402.7 1230,1414.7 1220,1426.6 1210,1438.6 1200,1426.6 1200,1402.7 1200,1378.7 1190,1366.8 1180,1354.8 1180,1330.8 1190,1318.9 1200,1306.9 1190,1294.9 1170,1294.9 1165,1282.9 1160,1259ZM1200,1330.8 1200,1354.8 1210,1366.8 1220,1354.8 1220,1330.8 1210,1318.9ZM1290,1271 1300,1282.9 1300,1306.9 1310,1318.9 1320,1306.9 1330,1294.9 1333.3,1282.9 1335,1259 1345,1259 1340,1282.9 1335,1306.9 1330,1318.9 1320,1330.8 1320,1354.8 1320,1378.7 1310,1390.7 1290,1390.7 1280,1402.7 1270,1414.7 1260,1402.7 1260,1378.7 1260,1354.8 1260,1330.8 1260,1306.9 1270,1294.9 1280,1282.9 1275,1259 1285,1259ZM1370,1259 1380,1259 1390,1271 1395,1259 1405,1259 1400,1282.9 1410,1294.9 1420,1282.9 1420,1259 1430,1259 1440,1259 1440,1282.9 1440,1306.9 1430,1318.9 1420,1330.8 1420,1354.8 1420,1378.7 1420,1402.7 1410,1414.7 1390,1414.7 1370,1414.7 1365,1402.7 1370,1390.7 1380,1378.7 1390,1366.8 1400,1354.8 1400,1330.8 1390,1318.9 1380,1306.9 1370,1294.9 1365,1282.9 1360,1259ZM1470,1259 1480,1259 1480,1282.9 1480,1306.9 1480,1330.8 1485,1354.8 1480,1378.7 1470,1390.7 1460,1402.7 1450,1414.7 1440,1402.7 1440,1378.7 1440,1354.8 1440,1330.8 1450,1318.9 1460,1306.9 1460,1282.9 1460,1259ZM1460,1354.8 1470,1366.8 1475,1354.8 1470,1342.8ZM1670,1259 1690,1259 1700,1259 1710,1271 1730,1265 1735,1259 1745,1259 1750,1271 1760,1259 1770,1259 1780,1259 1775,1282.9 1780,1306.9 1790,1318.9 1795,1306.9 1805,1282.9 1795,1259 1805,1259 1810,1271 1813.3,1282.9 1810,1294.9 1805,1306.9 1800,1330.8 1810,1342.8 1820,1354.8 1810,1366.8 1790,1366.8 1770,1366.8 1750,1366.8 1730,1366.8 1710,1360.8 1690,1366.8 1680,1378.7 1670,1390.7 1650,1390.7 1630,1390.7 1620,1402.7 1610,1414.7 1590,1414.7 1570,1420.6 1560,1426.6 1550,1438.6 1530,1438.6 1510,1444.6 1500,1450.6 1490,1462.6 1480,1474.5 1480,1498.5 1490,1510.4 1500,1522.4 1510,1534.4 1530,1528.4 1550,1528.4 1560,1522.4 1570,1510.4 1575,1498.5 1580,1474.5 1590,1468.5 1610,1462.6 1620,1450.6 1630,1438.6 1640,1450.6 1650,1462.6 1670,1468.5 1690,1468.5 1710,1468.5 1730,1462.6 1750,1462.6 1770,1462.6 1780,1474.5 1775,1498.5 1790,1516.4 1800,1522.4 1810,1528.4 1830,1534.4 1850,1534.4 1870,1534.4 1890,1534.4 1910,1528.4 1930,1534.4 1950,1534.4 1970,1540.4 1990,1534.4 2010,1534.4 2030,1540.4 2040,1546.4 2030,1558.3 2020,1570.3 2010,1582.3 2000,1594.3 1990,1606.2 1980,1594.3 1980,1570.3 1970,1558.3 1950,1558.3 1940,1570.3 1930,1582.3 1920,1594.3 1910,1606.2 1900,1594.3 1890,1582.3 1880,1594.3 1870,1606.2 1860,1594.3 1850,1582.3 1830,1582.3 1820,1594.3 1810,1606.2 1800,1594.3 1790,1582.3 1780,1594.3 1770,1606.2 1750,1606.2 1730,1606.2 1710,1606.2 1690,1606.2 1680,1594.3 1670,1582.3 1650,1582.3 1630,1588.3 1610,1582.3 1590,1588.3 1570,1582.3 1560,1594.3 1550,1600.2 1530,1606.2 1520,1618.2 1510,1630.2 1500,1642.2 1500,1666.1 1510,1678.1 1515,1690.1 1520,1714 1510,1714 1490,1714 1485,1714 1485,1690.1 1480,1666.1 1470,1654.1 1460,1642.2 1460,1618.2 1460,1594.3 1470,1582.3 1480,1594.3 1480,1618.2 1490,1630.2 1500,1618.2 1500,1594.3 1510,1582.3 1520,1570.3 1530,1558.3 1540,1570.3 1550,1582.3 1560,1570.3 1570,1558.3 1580,1570.3 1590,1576.3 1600,1570.3 1610,1558.3 1620,1570.3 1630,1576.3 1640,1570.3 1650,1558.3 1660,1546.4 1650,1534.4 1640,1522.4 1640,1498.5 1630,1486.5 1610,1486.5 1590,1486.5 1585,1498.5 1590,1510.4 1600,1522.4 1590,1534.4 1570,1534.4 1550,1540.4 1530,1540.4 1520,1546.4 1510,1558.3 1500,1546.4 1490,1534.4 1470,1534.4 1460,1546.4 1460,1570.3 1450,1582.3 1430,1582.3 1410,1582.3 1390,1582.3 1370,1582.3 1360,1570.3 1350,1558.3 1330,1558.3 1320,1570.3 1310,1582.3 1290,1582.3 1270,1582.3 1260,1570.3 1250,1558.3 1240,1570.3 1230,1582.3 1210,1582.3 1200,1594.3 1190,1600.2 1180,1594.3 1170,1582.3 1160,1594.3 1150,1606.2 1140,1618.2 1150,1630.2 1170,1630.2 1175,1642.2 1190,1660.1 1210,1654.1 1230,1654.1 1250,1654.1 1260,1666.1 1260,1690.1 1260,1714 1250,1714 1230,1714 1210,1714 1190,1714 1180,1714 1180,1690.1 1180,1666.1 1170,1654.1 1160,1666.1 1150,1678.1 1140,1666.1 1130,1654.1 1125,1666.1 1125,1690.1 1125,1714 1115,1714 1115,1690.1 1115,1666.1 1120,1642.2 1120,1618.2 1120,1594.3 1120,1570.3 1120,1546.4 1125,1522.4 1130,1510.4 1150,1510.4 1170,1510.4 1190,1510.4 1210,1510.4 1230,1510.4 1250,1510.4 1260,1498.5 1270,1486.5 1290,1486.5 1310,1486.5 1330,1486.5 1340,1498.5 1350,1510.4 1360,1498.5 1370,1486.5 1390,1486.5 1400,1498.5 1410,1510.4 1420,1498.5 1430,1486.5 1440,1498.5 1450,1510.4 1460,1498.5 1460,1474.5 1460,1450.6 1470,1438.6 1490,1438.6 1510,1432.6 1520,1426.6 1530,1420.6 1550,1420.6 1570,1408.7 1580,1402.7 1590,1396.7 1610,1390.7 1620,1378.7 1630,1366.8 1640,1354.8 1650,1342.8 1660,1330.8 1660,1306.9 1660,1282.9 1660,1259ZM1720,1282.9 1730,1294.9 1740,1282.9 1730,1277ZM1700,1306.9 1700,1330.8 1710,1342.8 1720,1330.8 1720,1306.9 1710,1294.9ZM1740,1498.5 1750,1510.4 1760,1498.5 1750,1486.5ZM1280,1522.4 1280,1546.4 1290,1558.3 1310,1558.3 1320,1546.4 1320,1522.4 1310,1510.4 1290,1510.4ZM1680,1522.4 1680,1546.4 1680,1570.3 1690,1582.3 1710,1582.3 1730,1582.3 1740,1570.3 1750,1558.3 1770,1558.3 1780,1546.4 1770,1534.4 1750,1534.4 1740,1522.4 1730,1510.4 1710,1510.4 1690,1510.4ZM1160,1546.4 1170,1558.3 1180,1546.4 1170,1534.4ZM1200,1546.4 1210,1558.3 1220,1546.4 1210,1534.4ZM1800,1546.4 1810,1558.3 1820,1546.4 1810,1540.4ZM1900,1546.4 1910,1558.3 1920,1546.4 1910,1540.4ZM2026.7,1282.9 2030,1294.9 2040,1306.9 2050,1312.9 2070,1318.9 2090,1318.9 2100,1306.9 2110,1300.9 2125,1282.9 2125,1259 2130,1259 2150,1259 2160,1259 2160,1282.9 2170,1294.9 2190,1294.9 2200,1282.9 2200,1259 2210,1259 2220,1259 2220,1282.9 2230,1294.9 2235,1306.9 2240,1330.8 2240,1354.8 2230,1366.8 2210,1366.8 2190,1366.8 2180,1378.7 2180,1402.7 2190,1414.7 2210,1414.7 2220,1426.6 2220,1450.6 2210,1462.6 2190,1462.6 2170,1462.6 2160,1450.6 2150,1438.6 2130,1438.6 2110,1438.6 2090,1438.6 2080,1450.6 2070,1462.6 2060,1474.5 2050,1486.5 2030,1480.5 2020,1474.5 2010,1462.6 2000,1450.6 2010,1444.6 2030,1444.6 2050,1438.6 2070,1438.6 2080,1426.6 2070,1414.7 2050,1414.7 2040,1402.7 2040,1378.7 2050,1366.8 2070,1366.8 2090,1366.8 2100,1378.7 2110,1390.7 2120,1402.7 2130,1414.7 2140,1402.7 2150,1390.7 2160,1378.7 2170,1366.8 2180,1354.8 2170,1342.8 2150,1342.8 2130,1342.8 2110,1342.8 2090,1342.8 2070,1342.8 2060,1330.8 2050,1324.9 2030,1318.9 2025,1306.9 2020,1282.9 2015,1259 2025,1259ZM2120,1306.9 2130,1318.9 2140,1306.9 2130,1294.9ZM2200,1306.9 2210,1318.9 2220,1306.9 2210,1294.9ZM2290,1259 2299.3,1259 2290,1271 2280,1259ZM610,1294.9 620,1306.9 620,1330.8 610,1342.8 600,1330.8 605,1306.9ZM1850,1318.9 1860,1330.8 1850,1342.8 1840,1330.8ZM1890,1318.9 1910,1318.9 1920,1330.8 1910,1342.8 1900,1354.8 1890,1366.8 1880,1354.8 1880,1330.8ZM2290,1318.9 2308.6,1324.9 2308.6,1330.8 2308.6,1354.8 2308.6,1366.8 2299.3,1354.8 2290,1342.8 2280,1330.8ZM630,1468.5 650,1468.5 670,1468.5 680,1474.5 690,1480.5 710,1486.5 720,1474.5 730,1468.5 750,1468.5 770,1468.5 780,1474.5 790,1486.5 800,1474.5 810,1468.5 830,1468.5 850,1462.6 860,1474.5 870,1486.5 880,1498.5 870,1510.4 860,1522.4 860,1546.4 860,1570.3 860,1594.3 850,1606.2 840,1594.3 840,1570.3 840,1546.4 840,1522.4 830,1510.4 810,1510.4 790,1510.4 780,1522.4 770,1534.4 760,1546.4 760,1570.3 760,1594.3 750,1606.2 730,1606.2 720,1594.3 720,1570.3 720,1546.4 710,1534.4 700,1546.4 700,1570.3 700,1594.3 700,1618.2 690,1624.2 670,1630.2 650,1636.2 630,1636.2 610,1636.2 590,1630.2 570,1636.2 565,1642.2 550,1660.1 530,1648.1 525,1642.2 510,1624.2 500,1618.2 505,1594.3 510,1582.3 520,1570.3 530,1558.3 550,1558.3 560,1570.3 570,1582.3 580,1570.3 585,1546.4 580,1522.4 590,1510.4 600,1498.5 610,1486.5 620,1474.5ZM615,1498.5 620,1522.4 630,1534.4 650,1534.4 670,1534.4 680,1522.4 690,1510.4 700,1498.5 690,1492.5 670,1486.5 650,1480.5 630,1480.5ZM720,1498.5 730,1510.4 750,1510.4 760,1498.5 750,1486.5 730,1486.5ZM840,1498.5 850,1510.4 860,1498.5 850,1486.5ZM600,1546.4 610,1558.3 620,1546.4 610,1534.4ZM640,1570.3 630,1582.3 620,1594.3 610,1606.2 600,1618.2 610,1624.2 630,1624.2 650,1624.2 670,1622.2 680,1618.2 680,1594.3 670,1582.3 660,1570.3 650,1558.3ZM520,1618.2 530,1630.2 540,1642.2 550,1648.1 555,1642.2 570,1624.2 580,1618.2 570,1606.2 550,1606.2 530,1606.2ZM550,1492.5 560,1498.5 560,1522.4 550,1534.4 540,1522.4 540,1498.5ZM1010,1516.4 1030,1516.4 1040,1522.4 1030,1534.4 1025,1546.4 1020,1570.3 1010,1582.3 1000,1570.3 990,1558.3 980,1570.3 970,1582.3 960,1570.3 960,1546.4 970,1540.4 990,1534.4 1000,1522.4ZM1000,1546.4 1010,1558.3 1015,1546.4 1010,1534.4ZM1050,1534.4 1055,1546.4 1050,1558.3 1040,1546.4ZM370,1582.3 375,1594.3 375,1618.2 370,1630.2 360,1618.2 360,1594.3ZM430,1582.3 440,1594.3 440,1618.2 430,1630.2 420,1618.2 420,1594.3ZM1930,1630.2 1950,1630.2 1960,1642.2 1960,1666.1 1970,1678.1 1980,1666.1 1980,1642.2 1990,1630.2 2000,1642.2 2000,1666.1 2000,1690.1 2000,1714 1990,1714 1970,1714 1950,1714 1940,1714 1930,1702 1910,1702 1905,1714 1895,1714 1900,1690.1 1910,1678.1 1920,1666.1 1920,1642.2ZM250,1654.1 270,1654.1 280,1666.1 270,1672.1 250,1672.1 240,1672.1 240,1666.1 240,1654.1ZM1310,1654.1 1320,1666.1 1310,1678.1 1300,1666.1ZM590,1678.1 610,1678.1 630,1678.1 640,1690.1 650,1696 670,1708 680,1714 670,1714 660,1714 650,1708 640,1714 630,1714 620,1714 610,1702 600,1714 590,1714 585,1714 580,1690.1ZM1090,1678.1 1100,1690.1 1100,1714 1090,1714 1070,1714 1065,1714 1070,1702 1080,1690.1ZM1850,1678.1 1870,1678.1 1880,1690.1 1885,1714 1875,1714 1870,1702 1850,1702 1845,1714 1835,1714 1840,1690.1ZM2290,1678.1 2299.3,1690.1 2290,1702 2280,1690.1Z" fill="#47ffb8" stroke="#47ffb8" stroke-width="0.6" fill-rule="evenodd"/>
<path d="M310,1259 330,1259 340,1259 350,1271 353.3,1282.9 355,1306.9 370,1324.9 390,1312.9 400,1306.9 410,1302.9 430,1300.9 450,1300.9 460,1306.9 470,1318.9 490,1318.9 500,1306.9 510,1294.9 530,1300.9 535,1306.9 550,1324.9 555,1330.8 550,1342.8 540,1354.8 530,1366.8 510,1366.8 490,1366.8 470,1366.8 460,1378.7 455,1402.7 450,1414.7 430,1414.7 420,1426.6 410,1438.6 400,1426.6 400,1402.7 390,1390.7 380,1378.7 370,1366.8 365,1378.7 360,1402.7 350,1414.7 330,1420.6 310,1408.7 290,1414.7 270,1414.7 260,1426.6 250,1432.6 240,1432.6 240,1426.6 240,1402.7 240,1378.7 240,1366.8 250,1366.8 260,1354.8 270,1342.8 290,1342.8 310,1342.8 320,1354.8 320,1378.7 320,1402.7 330,1408.7 340,1402.7 350,1390.7 355,1378.7 360,1354.8 360,1330.8 350,1318.9 340,1306.9 340,1282.9 330,1271 320,1282.9 320,1306.9 310,1318.9 290,1318.9 270,1324.9 250,1321.9 240,1321.9 240,1315.9 250,1315.9 270,1312.9 280,1306.9 290,1294.9 300,1282.9 305,1259ZM380,1330.8 380,1354.8 390,1366.8 400,1378.7 410,1390.7 430,1390.7 440,1378.7 450,1366.8 460,1354.8 460,1330.8 450,1318.9 430,1312.9 410,1312.9 390,1324.9ZM500,1330.8 510,1342.8 530,1342.8 540,1330.8 530,1318.9 510,1318.9ZM670,1259 680,1259 690,1271 700,1259 710,1259 720,1259 715,1282.9 715,1306.9 725,1330.8 730,1342.8 740,1330.8 750,1318.9 760,1306.9 770,1294.9 780,1282.9 790,1271 800,1282.9 810,1294.9 820,1306.9 830,1312.9 850,1312.9 860,1306.9 865,1282.9 865,1259 870,1259 880,1259 880,1282.9 880,1306.9 870,1318.9 850,1324.9 830,1324.9 810,1312.9 790,1318.9 770,1318.9 760,1330.8 750,1342.8 740,1354.8 730,1366.8 720,1354.8 715,1330.8 710,1318.9 690,1318.9 670,1318.9 660,1306.9 660,1282.9 660,1259ZM910,1271 920,1259 930,1259 950,1259 960,1259 970,1271 975,1282.9 970,1294.9 960,1306.9 950,1318.9 940,1330.8 940,1354.8 930,1366.8 910,1366.8 900,1354.8 900,1330.8 900,1306.9 900,1282.9ZM1290,1259 1310,1259 1330,1259 1335,1259 1333.3,1282.9 1330,1294.9 1320,1306.9 1310,1318.9 1300,1306.9 1300,1282.9 1290,1271 1285,1259ZM1390,1259 1395,1259 1390,1271 1380,1259ZM1730,1277 1740,1282.9 1730,1294.9 1720,1282.9ZM1750,1259 1760,1259 1750,1271 1745,1259ZM1810,1259 1815,1259 1820,1282.9 1820,1306.9 1830,1318.9 1840,1306.9 1845,1282.9 1845,1259 1850,1259 1870,1259 1890,1259 1910,1259 1930,1259 1950,1259 1970,1259 1990,1259 2010,1259 2015,1259 2020,1282.9 2025,1306.9 2030,1318.9 2050,1324.9 2060,1330.8 2070,1342.8 2090,1342.8 2110,1342.8 2130,1342.8 2150,1342.8 2170,1342.8 2180,1354.8 2170,1366.8 2160,1378.7 2150,1390.7 2140,1402.7 2130,1414.7 2120,1402.7 2110,1390.7 2100,1378.7 2090,1366.8 2070,1366.8 2050,1366.8 2040,1378.7 2040,1402.7 2050,1414.7 2070,1414.7 2080,1426.6 2070,1438.6 2050,1438.6 2030,1444.6 2010,1444.6 2000,1450.6 2010,1462.6 2020,1474.5 2030,1480.5 2050,1486.5 2060,1474.5 2070,1462.6 2080,1450.6 2090,1438.6 2110,1438.6 2130,1438.6 2150,1438.6 2160,1450.6 2170,1462.6 2190,1462.6 2210,1462.6 2220,1450.6 2220,1426.6 2210,1414.7 2190,1414.7 2180,1402.7 2180,1378.7 2190,1366.8 2210,1366.8 2230,1366.8 2240,1354.8 2240,1330.8 2235,1306.9 2230,1294.9 2220,1282.9 2220,1259 2230,1259 2240,1259 2240,1282.9 2245,1306.9 2250,1318.9 2260,1306.9 2260,1282.9 2260,1259 2270,1259 2280,1259 2290,1271 2299.3,1259 2308.6,1259 2308.6,1282.9 2308.6,1294.9 2299.3,1306.9 2308.6,1312.9 2308.6,1324.9 2290,1318.9 2280,1330.8 2290,1342.8 2299.3,1354.8 2308.6,1366.8 2308.6,1378.7 2308.6,1402.7 2308.6,1426.6 2308.6,1450.6 2308.6,1462.6 2290,1462.6 2270,1462.6 2260,1474.5 2250,1480.5 2230,1478.5 2210,1480.5 2190,1480.5 2170,1480.5 2160,1474.5 2150,1462.6 2140,1474.5 2130,1480.5 2110,1486.5 2090,1486.5 2070,1486.5 2060,1498.5 2050,1510.4 2040,1498.5 2030,1492.5 2010,1486.5 2000,1474.5 1990,1462.6 1970,1462.6 1950,1462.6 1940,1450.6 1945,1426.6 1950,1414.7 1960,1426.6 1970,1438.6 1990,1438.6 2010,1432.6 2030,1432.6 2040,1426.6 2030,1414.7 2020,1402.7 2020,1378.7 2030,1366.8 2040,1354.8 2030,1342.8 2020,1330.8 2015,1306.9 2013.3,1282.9 2010,1271 1990,1271 1980,1282.9 1970,1294.9 1950,1294.9 1940,1306.9 1940,1330.8 1950,1342.8 1960,1330.8 1970,1318.9 1990,1318.9 2000,1330.8 2000,1354.8 1990,1366.8 1980,1354.8 1970,1342.8 1960,1354.8 1950,1366.8 1940,1354.8 1930,1342.8 1920,1354.8 1910,1366.8 1900,1378.7 1890,1390.7 1870,1390.7 1860,1378.7 1850,1366.8 1840,1378.7 1830,1384.7 1810,1390.7 1790,1390.7 1770,1390.7 1750,1390.7 1730,1390.7 1720,1378.7 1710,1372.8 1700,1378.7 1690,1384.7 1675,1402.7 1670,1408.7 1650,1414.7 1640,1426.6 1650,1438.6 1660,1450.6 1670,1456.6 1690,1456.6 1710,1456.6 1720,1450.6 1730,1438.6 1750,1444.6 1770,1444.6 1790,1438.6 1810,1438.6 1830,1444.6 1850,1438.6 1860,1426.6 1870,1414.7 1880,1426.6 1890,1438.6 1900,1450.6 1895,1474.5 1895,1498.5 1910,1516.4 1930,1510.4 1950,1510.4 1960,1522.4 1970,1528.4 1980,1522.4 1990,1516.4 2010,1510.4 2020,1522.4 2030,1528.4 2050,1534.4 2070,1534.4 2090,1534.4 2110,1540.4 2130,1540.4 2150,1540.4 2170,1540.4 2190,1534.4 2210,1540.4 2220,1546.4 2210,1558.3 2190,1558.3 2170,1558.3 2150,1558.3 2130,1558.3 2110,1558.3 2090,1558.3 2070,1558.3 2060,1570.3 2050,1582.3 2040,1594.3 2030,1606.2 2020,1618.2 2020,1642.2 2020,1666.1 2020,1690.1 2020,1714 2010,1714 2000,1714 2000,1690.1 2000,1666.1 2000,1642.2 1990,1630.2 1980,1642.2 1980,1666.1 1970,1678.1 1960,1666.1 1960,1642.2 1950,1630.2 1930,1630.2 1920,1642.2 1920,1666.1 1910,1678.1 1900,1690.1 1895,1714 1890,1714 1885,1714 1880,1690.1 1870,1678.1 1850,1678.1 1840,1690.1 1835,1714 1830,1714 1810,1714 1800,1714 1800,1690.1 1810,1678.1 1830,1684.1 1845,1666.1 1845,1642.2 1840,1618.2 1830,1606.2 1820,1618.2 1810,1630.2 1800,1618.2 1790,1606.2 1780,1618.2 1770,1624.2 1750,1622.2 1730,1624.2 1710,1630.2 1690,1630.2 1680,1618.2 1670,1606.2 1650,1606.2 1630,1606.2 1610,1606.2 1590,1606.2 1570,1606.2 1550,1612.2 1540,1618.2 1530,1630.2 1520,1642.2 1520,1666.1 1525,1690.1 1530,1702 1550,1702 1560,1714 1550,1714 1530,1714 1520,1714 1515,1690.1 1510,1678.1 1500,1666.1 1500,1642.2 1510,1630.2 1520,1618.2 1530,1606.2 1550,1600.2 1560,1594.3 1570,1582.3 1590,1588.3 1610,1582.3 1630,1588.3 1650,1582.3 1670,1582.3 1680,1594.3 1690,1606.2 1710,1606.2 1730,1606.2 1750,1606.2 1770,1606.2 1780,1594.3 1790,1582.3 1800,1594.3 1810,1606.2 1820,1594.3 1830,1582.3 1850,1582.3 1860,1594.3 1870,1606.2 1880,1594.3 1890,1582.3 1900,1594.3 1910,1606.2 1920,1594.3 1930,1582.3 1940,1570.3 1950,1558.3 1970,1558.3 1980,1570.3 1980,1594.3 1990,1606.2 2000,1594.3 2010,1582.3 2020,1570.3 2030,1558.3 2040,1546.4 2030,1540.4 2010,1534.4 1990,1534.4 1970,1540.4 1950,1534.4 1930,1534.4 1910,1528.4 1890,1534.4 1870,1534.4 1850,1534.4 1830,1534.4 1810,1528.4 1800,1522.4 1790,1516.4 1775,1498.5 1780,1474.5 1770,1462.6 1750,1462.6 1730,1462.6 1710,1468.5 1690,1468.5 1670,1468.5 1650,1462.6 1640,1450.6 1630,1438.6 1620,1450.6 1610,1462.6 1590,1468.5 1580,1474.5 1575,1498.5 1570,1510.4 1560,1522.4 1550,1528.4 1530,1528.4 1510,1534.4 1500,1522.4 1490,1510.4 1480,1498.5 1480,1474.5 1490,1462.6 1500,1450.6 1510,1444.6 1530,1438.6 1550,1438.6 1560,1426.6 1570,1420.6 1590,1414.7 1610,1414.7 1620,1402.7 1630,1390.7 1650,1390.7 1670,1390.7 1680,1378.7 1690,1366.8 1710,1360.8 1730,1366.8 1750,1366.8 1770,1366.8 1790,1366.8 1810,1366.8 1820,1354.8 1810,1342.8 1800,1330.8 1805,1306.9 1810,1294.9 1813.3,1282.9 1810,1271 1805,1259ZM1900,1282.9 1910,1294.9 1920,1282.9 1910,1271ZM1840,1330.8 1850,1342.8 1860,1330.8 1850,1318.9ZM1880,1330.8 1880,1354.8 1890,1366.8 1900,1354.8 1910,1342.8 1920,1330.8 1910,1318.9 1890,1318.9ZM1580,1450.6 1590,1456.6 1600,1450.6 1590,1438.6ZM1500,1474.5 1510,1486.5 1520,1474.5 1510,1462.6ZM1840,1474.5 1830,1486.5 1810,1486.5 1790,1486.5 1785,1498.5 1790,1504.5 1810,1510.4 1830,1510.4 1850,1510.4 1870,1510.4 1880,1498.5 1880,1474.5 1870,1462.6 1850,1462.6ZM1520,1498.5 1530,1510.4 1540,1498.5 1530,1486.5ZM1880,1618.2 1880,1642.2 1880,1666.1 1890,1678.1 1900,1666.1 1900,1642.2 1900,1618.2 1890,1606.2ZM1710,1294.9 1720,1306.9 1720,1330.8 1710,1342.8 1700,1330.8 1700,1306.9ZM2130,1294.9 2140,1306.9 2130,1318.9 2120,1306.9ZM2210,1294.9 2220,1306.9 2210,1318.9 2200,1306.9ZM1210,1318.9 1220,1330.8 1220,1354.8 1210,1366.8 1200,1354.8 1200,1330.8ZM1470,1342.8 1475,1354.8 1470,1366.8 1460,1354.8ZM990,1390.7 1000,1402.7 1000,1426.6 990,1438.6 980,1450.6 970,1456.6 955,1474.5 950,1480.5 930,1480.5 910,1480.5 900,1474.5 905,1450.6 910,1444.6 930,1432.6 950,1438.6 960,1426.6 970,1414.7 980,1402.7ZM920,1450.6 930,1462.6 940,1450.6 930,1444.6ZM410,1462.6 420,1474.5 410,1480.5 400,1474.5ZM630,1480.5 650,1480.5 670,1486.5 690,1492.5 700,1498.5 690,1510.4 680,1522.4 670,1534.4 650,1534.4 630,1534.4 620,1522.4 615,1498.5ZM625,1498.5 630,1510.4 650,1510.4 660,1498.5 650,1492.5 630,1492.5ZM730,1486.5 750,1486.5 760,1498.5 750,1510.4 730,1510.4 720,1498.5ZM850,1486.5 860,1498.5 850,1510.4 840,1498.5ZM1750,1486.5 1760,1498.5 1750,1510.4 1740,1498.5ZM1290,1510.4 1310,1510.4 1320,1522.4 1320,1546.4 1310,1558.3 1290,1558.3 1280,1546.4 1280,1522.4ZM1010,1534.4 1015,1546.4 1010,1558.3 1000,1546.4ZM1170,1534.4 1180,1546.4 1170,1558.3 1160,1546.4ZM1210,1534.4 1220,1546.4 1210,1558.3 1200,1546.4ZM2250,1540.4 2270,1540.4 2290,1540.4 2299.3,1546.4 2299.3,1570.3 2290,1582.3 2280,1570.3 2270,1558.3 2250,1558.3 2240,1546.4ZM650,1558.3 660,1570.3 670,1582.3 680,1594.3 680,1618.2 670,1622.2 650,1624.2 630,1624.2 610,1624.2 600,1618.2 610,1606.2 620,1594.3 630,1582.3 640,1570.3ZM250,1582.3 260,1594.3 270,1606.2 280,1618.2 290,1630.2 300,1642.2 300,1666.1 310,1678.1 330,1678.1 350,1678.1 360,1690.1 360,1714 350,1714 340,1714 330,1702 310,1702 300,1690.1 290,1678.1 270,1684.1 250,1684.1 240,1684.1 240,1672.1 250,1672.1 270,1672.1 280,1666.1 270,1654.1 250,1654.1 240,1654.1 240,1642.2 240,1618.2 240,1594.3 240,1582.3ZM530,1606.2 550,1606.2 570,1606.2 580,1618.2 570,1624.2 555,1642.2 550,1648.1 540,1642.2 530,1630.2 520,1618.2ZM1130,1654.1 1140,1666.1 1150,1678.1 1160,1666.1 1170,1654.1 1180,1666.1 1180,1690.1 1180,1714 1170,1714 1150,1714 1130,1714 1125,1714 1125,1690.1 1125,1666.1ZM2290,1654.1 2299.3,1666.1 2308.6,1678.1 2308.6,1690.1 2308.6,1714 2290,1714 2280,1714 2270,1702 2265,1690.1 2270,1678.1 2280,1666.1ZM2280,1690.1 2290,1702 2299.3,1690.1 2290,1678.1ZM610,1702 620,1714 610,1714 600,1714ZM650,1708 660,1714 650,1714 640,1714Z" fill="#b8ff47" stroke="#b8ff47" stroke-width="0.6" fill-rule="evenodd"/>
<path d="M330,1271 340,1282.9 340,1306.9 350,1318.9 360,1330.8 360,1354.8 355,1378.7 350,1390.7 340,1402.7 330,1408.7 320,1402.7 320,1378.7 320,1354.8 310,1342.8 290,1342.8 270,1342.8 260,1354.8 250,1366.8 240,1366.8 240,1354.8 240,1342.8 250,1342.8 260,1330.8 250,1327.8 240,1327.8 240,1321.9 250,1321.9 270,1324.9 290,1318.9 310,1318.9 320,1306.9 320,1282.9ZM320,1330.8 330,1342.8 340,1330.8 330,1318.9ZM730,1259 750,1259 770,1259 790,1259 810,1259 820,1259 830,1271 840,1282.9 850,1294.9 855,1282.9 855,1259 865,1259 865,1282.9 860,1306.9 850,1312.9 830,1312.9 820,1306.9 810,1294.9 800,1282.9 790,1271 780,1282.9 770,1294.9 760,1306.9 750,1318.9 740,1330.8 730,1342.8 725,1330.8 715,1306.9 715,1282.9 720,1259ZM725,1282.9 725,1306.9 730,1318.9 740,1306.9 740,1282.9 730,1271ZM1826.7,1282.9 1830,1294.9 1835,1282.9 1835,1259 1845,1259 1845,1282.9 1840,1306.9 1830,1318.9 1820,1306.9 1820,1282.9 1815,1259 1825,1259ZM1910,1271 1920,1282.9 1910,1294.9 1900,1282.9ZM1990,1271 2010,1271 2013.3,1282.9 2015,1306.9 2020,1330.8 2030,1342.8 2040,1354.8 2030,1366.8 2020,1378.7 2020,1402.7 2030,1414.7 2040,1426.6 2030,1432.6 2010,1432.6 1990,1438.6 1970,1438.6 1960,1426.6 1950,1414.7 1945,1426.6 1940,1450.6 1950,1462.6 1970,1462.6 1990,1462.6 2000,1474.5 2010,1486.5 2030,1492.5 2040,1498.5 2050,1510.4 2060,1498.5 2070,1486.5 2090,1486.5 2110,1486.5 2130,1480.5 2140,1474.5 2150,1462.6 2160,1474.5 2170,1480.5 2190,1480.5 2210,1480.5 2230,1478.5 2250,1480.5 2260,1474.5 2270,1462.6 2290,1462.6 2308.6,1462.6 2308.6,1474.5 2308.6,1498.5 2308.6,1522.4 2308.6,1546.4 2308.6,1570.3 2308.6,1582.3 2299.3,1594.3 2299.3,1618.2 2308.6,1630.2 2308.6,1642.2 2308.6,1666.1 2308.6,1678.1 2299.3,1666.1 2290,1654.1 2280,1666.1 2270,1678.1 2265,1690.1 2270,1702 2280,1714 2270,1714 2260,1714 2255,1690.1 2250,1678.1 2240,1690.1 2230,1702 2210,1702 2190,1696 2180,1690.1 2190,1678.1 2210,1678.1 2230,1678.1 2240,1666.1 2250,1654.1 2270,1654.1 2280,1642.2 2280,1618.2 2270,1606.2 2250,1606.2 2230,1606.2 2210,1606.2 2190,1606.2 2170,1606.2 2160,1594.3 2150,1582.3 2130,1582.3 2110,1582.3 2090,1582.3 2080,1594.3 2070,1606.2 2060,1618.2 2050,1630.2 2040,1642.2 2040,1666.1 2040,1690.1 2040,1714 2030,1714 2020,1714 2020,1690.1 2020,1666.1 2020,1642.2 2020,1618.2 2030,1606.2 2040,1594.3 2050,1582.3 2060,1570.3 2070,1558.3 2090,1558.3 2110,1558.3 2130,1558.3 2150,1558.3 2170,1558.3 2190,1558.3 2210,1558.3 2220,1546.4 2210,1540.4 2190,1534.4 2170,1540.4 2150,1540.4 2130,1540.4 2110,1540.4 2090,1534.4 2070,1534.4 2050,1534.4 2030,1528.4 2020,1522.4 2010,1510.4 1990,1516.4 1980,1522.4 1970,1528.4 1960,1522.4 1950,1510.4 1930,1510.4 1910,1516.4 1895,1498.5 1895,1474.5 1900,1450.6 1890,1438.6 1880,1426.6 1870,1414.7 1860,1426.6 1850,1438.6 1830,1444.6 1810,1438.6 1790,1438.6 1770,1444.6 1750,1444.6 1730,1438.6 1720,1450.6 1710,1456.6 1690,1456.6 1670,1456.6 1660,1450.6 1650,1438.6 1640,1426.6 1650,1414.7 1670,1408.7 1675,1402.7 1690,1384.7 1700,1378.7 1710,1372.8 1720,1378.7 1730,1390.7 1750,1390.7 1770,1390.7 1790,1390.7 1810,1390.7 1830,1384.7 1840,1378.7 1850,1366.8 1860,1378.7 1870,1390.7 1890,1390.7 1900,1378.7 1910,1366.8 1920,1354.8 1930,1342.8 1940,1354.8 1950,1366.8 1960,1354.8 1970,1342.8 1980,1354.8 1990,1366.8 2000,1354.8 2000,1330.8 1990,1318.9 1970,1318.9 1960,1330.8 1950,1342.8 1940,1330.8 1940,1306.9 1950,1294.9 1970,1294.9 1980,1282.9ZM1685,1402.7 1670,1420.6 1660,1426.6 1670,1438.6 1690,1438.6 1710,1438.6 1720,1426.6 1720,1402.7 1710,1390.7 1690,1396.7ZM1820,1402.7 1820,1426.6 1830,1432.6 1840,1426.6 1850,1414.7 1860,1402.7 1850,1390.7 1830,1396.7ZM1900,1402.7 1900,1426.6 1910,1438.6 1930,1438.6 1935,1426.6 1940,1402.7 1930,1390.7 1910,1390.7ZM1740,1426.6 1750,1432.6 1770,1432.6 1780,1426.6 1770,1414.7 1750,1414.7ZM1905,1474.5 1905,1498.5 1910,1504.5 1920,1498.5 1920,1474.5 1910,1462.6ZM1960,1498.5 1970,1510.4 1990,1504.5 2000,1498.5 1990,1486.5 1970,1486.5ZM2120,1498.5 2110,1510.4 2100,1522.4 2110,1528.4 2130,1528.4 2150,1528.4 2170,1528.4 2180,1522.4 2190,1510.4 2200,1522.4 2210,1528.4 2230,1534.4 2250,1528.4 2270,1528.4 2290,1528.4 2299.3,1522.4 2299.3,1498.5 2290,1486.5 2270,1486.5 2250,1492.5 2230,1486.5 2210,1492.5 2190,1492.5 2170,1492.5 2150,1486.5 2130,1492.5ZM2240,1546.4 2250,1558.3 2270,1558.3 2280,1570.3 2290,1582.3 2299.3,1570.3 2299.3,1546.4 2290,1540.4 2270,1540.4 2250,1540.4ZM2250,1259 2260,1259 2260,1282.9 2260,1306.9 2250,1318.9 2245,1306.9 2240,1282.9 2240,1259ZM2308.6,1294.9 2308.6,1306.9 2308.6,1312.9 2299.3,1306.9ZM390,1324.9 410,1312.9 430,1312.9 450,1318.9 460,1330.8 460,1354.8 450,1366.8 440,1378.7 430,1390.7 410,1390.7 400,1378.7 390,1366.8 380,1354.8 380,1330.8ZM400,1330.8 400,1354.8 410,1366.8 430,1366.8 440,1354.8 440,1330.8 430,1324.9 410,1324.9ZM510,1318.9 530,1318.9 540,1330.8 530,1342.8 510,1342.8 500,1330.8ZM930,1444.6 940,1450.6 930,1462.6 920,1450.6ZM1590,1438.6 1600,1450.6 1590,1456.6 1580,1450.6ZM1510,1462.6 1520,1474.5 1510,1486.5 1500,1474.5ZM1850,1462.6 1870,1462.6 1880,1474.5 1880,1498.5 1870,1510.4 1850,1510.4 1830,1510.4 1810,1510.4 1790,1504.5 1785,1498.5 1790,1486.5 1810,1486.5 1830,1486.5 1840,1474.5ZM630,1492.5 650,1492.5 660,1498.5 650,1510.4 630,1510.4 625,1498.5ZM1530,1486.5 1540,1498.5 1530,1510.4 1520,1498.5ZM1550,1612.2 1570,1606.2 1590,1606.2 1610,1606.2 1630,1606.2 1650,1606.2 1670,1606.2 1680,1618.2 1690,1630.2 1710,1630.2 1730,1624.2 1750,1622.2 1770,1624.2 1780,1618.2 1790,1606.2 1800,1618.2 1810,1630.2 1820,1618.2 1830,1606.2 1840,1618.2 1845,1642.2 1845,1666.1 1830,1684.1 1810,1678.1 1800,1690.1 1800,1714 1790,1714 1780,1714 1780,1690.1 1790,1678.1 1800,1666.1 1790,1654.1 1780,1642.2 1770,1636.2 1750,1630.2 1730,1636.2 1720,1642.2 1715,1666.1 1720,1690.1 1720,1714 1710,1714 1700,1714 1700,1690.1 1700,1666.1 1690,1654.1 1680,1642.2 1670,1630.2 1650,1630.2 1640,1642.2 1640,1666.1 1640,1690.1 1650,1702 1660,1714 1650,1714 1640,1714 1630,1702 1620,1690.1 1620,1666.1 1625,1642.2 1610,1624.2 1590,1630.2 1570,1630.2 1560,1642.2 1560,1666.1 1570,1678.1 1590,1678.1 1600,1690.1 1600,1714 1590,1714 1570,1714 1560,1714 1550,1702 1530,1702 1525,1690.1 1520,1666.1 1520,1642.2 1530,1630.2 1540,1618.2ZM1820,1642.2 1820,1666.1 1830,1672.1 1835,1666.1 1835,1642.2 1830,1630.2ZM1890,1606.2 1900,1618.2 1900,1642.2 1900,1666.1 1890,1678.1 1880,1666.1 1880,1642.2 1880,1618.2ZM250,1684.1 270,1684.1 290,1678.1 300,1690.1 310,1702 330,1702 340,1714 330,1714 310,1714 300,1714 290,1702 270,1702 250,1702 240,1702 240,1690.1 240,1684.1Z" fill="#ffd400" stroke="#ffd400" stroke-width="0.6" fill-rule="evenodd"/>
<path d="M730,1271 740,1282.9 740,1306.9 730,1318.9 725,1306.9 725,1282.9ZM830,1259 850,1259 855,1259 855,1282.9 850,1294.9 840,1282.9 830,1271 820,1259ZM1830,1259 1835,1259 1835,1282.9 1830,1294.9 1826.7,1282.9 1825,1259ZM250,1327.8 260,1330.8 250,1342.8 240,1342.8 240,1330.8 240,1327.8ZM330,1318.9 340,1330.8 330,1342.8 320,1330.8ZM410,1324.9 430,1324.9 440,1330.8 440,1354.8 430,1366.8 410,1366.8 400,1354.8 400,1330.8ZM1690,1396.7 1710,1390.7 1720,1402.7 1720,1426.6 1710,1438.6 1690,1438.6 1670,1438.6 1660,1426.6 1670,1420.6 1685,1402.7ZM1830,1396.7 1850,1390.7 1860,1402.7 1850,1414.7 1840,1426.6 1830,1432.6 1820,1426.6 1820,1402.7ZM1910,1390.7 1930,1390.7 1940,1402.7 1935,1426.6 1930,1438.6 1910,1438.6 1900,1426.6 1900,1402.7ZM1750,1414.7 1770,1414.7 1780,1426.6 1770,1432.6 1750,1432.6 1740,1426.6ZM1910,1462.6 1920,1474.5 1920,1498.5 1910,1504.5 1905,1498.5 1905,1474.5ZM1970,1486.5 1990,1486.5 2000,1498.5 1990,1504.5 1970,1510.4 1960,1498.5ZM2130,1492.5 2150,1486.5 2170,1492.5 2190,1492.5 2210,1492.5 2230,1486.5 2250,1492.5 2270,1486.5 2290,1486.5 2299.3,1498.5 2299.3,1522.4 2290,1528.4 2270,1528.4 2250,1528.4 2230,1534.4 2210,1528.4 2200,1522.4 2190,1510.4 2180,1522.4 2170,1528.4 2150,1528.4 2130,1528.4 2110,1528.4 2100,1522.4 2110,1510.4 2120,1498.5ZM2220,1498.5 2230,1510.4 2240,1498.5 2230,1494.5ZM2090,1582.3 2110,1582.3 2130,1582.3 2150,1582.3 2160,1594.3 2170,1606.2 2190,1606.2 2210,1606.2 2230,1606.2 2250,1606.2 2270,1606.2 2280,1618.2 2280,1642.2 2270,1654.1 2250,1654.1 2240,1666.1 2230,1678.1 2210,1678.1 2190,1678.1 2180,1690.1 2190,1696 2210,1702 2230,1702 2240,1690.1 2250,1678.1 2255,1690.1 2260,1714 2250,1714 2230,1714 2210,1714 2200,1714 2190,1708 2170,1702 2150,1702 2140,1690.1 2150,1678.1 2170,1678.1 2180,1666.1 2170,1654.1 2160,1642.2 2150,1630.2 2140,1618.2 2130,1606.2 2120,1618.2 2110,1630.2 2090,1630.2 2070,1630.2 2060,1642.2 2060,1666.1 2070,1678.1 2090,1678.1 2100,1690.1 2090,1702 2070,1702 2060,1714 2050,1714 2040,1714 2040,1690.1 2040,1666.1 2040,1642.2 2050,1630.2 2060,1618.2 2070,1606.2 2080,1594.3ZM2180,1642.2 2190,1654.1 2200,1642.2 2190,1630.2ZM2308.6,1582.3 2308.6,1594.3 2308.6,1618.2 2308.6,1630.2 2299.3,1618.2 2299.3,1594.3ZM1570,1630.2 1590,1630.2 1610,1624.2 1625,1642.2 1620,1666.1 1620,1690.1 1630,1702 1640,1714 1630,1714 1610,1714 1600,1714 1600,1690.1 1590,1678.1 1570,1678.1 1560,1666.1 1560,1642.2ZM1600,1642.2 1610,1654.1 1615,1642.2 1610,1636.2ZM1650,1630.2 1670,1630.2 1680,1642.2 1690,1654.1 1700,1666.1 1700,1690.1 1700,1714 1690,1714 1670,1714 1660,1714 1650,1702 1640,1690.1 1640,1666.1 1640,1642.2ZM1730,1636.2 1750,1630.2 1770,1636.2 1780,1642.2 1790,1654.1 1800,1666.1 1790,1678.1 1780,1690.1 1780,1714 1770,1714 1750,1714 1730,1714 1720,1714 1720,1690.1 1715,1666.1 1720,1642.2ZM1740,1642.2 1730,1654.1 1725,1666.1 1730,1678.1 1740,1690.1 1750,1702 1760,1690.1 1760,1666.1 1760,1642.2 1750,1638.2ZM1830,1630.2 1835,1642.2 1835,1666.1 1830,1672.1 1820,1666.1 1820,1642.2ZM250,1702 270,1702 290,1702 300,1714 290,1714 270,1714 250,1714 240,1714 240,1702Z" fill="#ff6300" stroke="#ff6300" stroke-width="0.6" fill-rule="evenodd"/>
<path d="M2230,1494.5 2240,1498.5 2230,1510.4 2220,1498.5ZM2130,1606.2 2140,1618.2 2150,1630.2 2160,1642.2 2170,1654.1 2180,1666.1 2170,1678.1 2150,1678.1 2140,1690.1 2150,1702 2170,1702 2190,1708 2200,1714 2190,1714 2170,1714 2150,1714 2140,1714 2130,1702 2120,1714 2110,1714 2090,1714 2070,1714 2060,1714 2070,1702 2090,1702 2100,1690.1 2090,1678.1 2070,1678.1 2060,1666.1 2060,1642.2 2070,1630.2 2090,1630.2 2110,1630.2 2120,1618.2ZM2120,1666.1 2130,1678.1 2140,1666.1 2130,1654.1ZM1610,1636.2 1615,1642.2 1610,1654.1 1600,1642.2ZM1750,1638.2 1760,1642.2 1760,1666.1 1760,1690.1 1750,1702 1740,1690.1 1730,1678.1 1725,1666.1 1730,1654.1 1740,1642.2ZM2190,1630.2 2200,1642.2 2190,1654.1 2180,1642.2Z" fill="#f10000" stroke="#f10000" stroke-width="0.6" fill-rule="evenodd"/>
<path d="M2130,1654.1 2140,1666.1 2130,1678.1 2120,1666.1ZM2130,1702 2140,1714 2130,1714 2120,1714Z" fill="#7f0000" stroke="#7f0000" stroke-width="0.6" fill-rule="evenodd"/>
</g>
<g stroke="#c800a0" fill="#c800a0"><line x1="1540.7" y1="1456" x2="1856" y2="1297.8" stroke-width="5.8" stroke-dasharray="27.6,19" /><path d="M1898.5,1276 L1857.8,1276 L1877.5,1291 L1874.3,1309.5 Z" stroke="none"/></g>
<g stroke="#333" stroke-width="1.7" fill="none">
<rect x="240.0" y="1259.0" width="2068.6" height="455.0"/>
<line x1="240.0" x2="261.0" y1="1690.1" y2="1690.1"/><line x1="2308.6" x2="2287.6" y1="1690.1" y2="1690.1"/>
<line x1="240.0" x2="261.0" y1="1642.2" y2="1642.2"/><line x1="2308.6" x2="2287.6" y1="1642.2" y2="1642.2"/>
<line x1="240.0" x2="261.0" y1="1594.3" y2="1594.3"/><line x1="2308.6" x2="2287.6" y1="1594.3" y2="1594.3"/>
<line x1="240.0" x2="261.0" y1="1546.4" y2="1546.4"/><line x1="2308.6" x2="2287.6" y1="1546.4" y2="1546.4"/>
<line x1="240.0" x2="261.0" y1="1498.5" y2="1498.5"/><line x1="2308.6" x2="2287.6" y1="1498.5" y2="1498.5"/>
<line x1="240.0" x2="261.0" y1="1450.6" y2="1450.6"/><line x1="2308.6" x2="2287.6" y1="1450.6" y2="1450.6"/>
<line x1="240.0" x2="261.0" y1="1402.7" y2="1402.7"/><line x1="2308.6" x2="2287.6" y1="1402.7" y2="1402.7"/>
<line x1="240.0" x2="261.0" y1="1354.8" y2="1354.8"/><line x1="2308.6" x2="2287.6" y1="1354.8" y2="1354.8"/>
<line x1="240.0" x2="261.0" y1="1306.9" y2="1306.9"/><line x1="2308.6" x2="2287.6" y1="1306.9" y2="1306.9"/>
<line x1="293" x2="293" y1="1714.0" y2="1693.0"/><line x1="293" x2="293" y1="1259.0" y2="1280.0"/>
<line x1="548.4" x2="548.4" y1="1714.0" y2="1693.0"/><line x1="548.4" x2="548.4" y1="1259.0" y2="1280.0"/>
<line x1="799.3" x2="799.3" y1="1714.0" y2="1693.0"/><line x1="799.3" x2="799.3" y1="1259.0" y2="1280.0"/>
<line x1="1053.3" x2="1053.3" y1="1714.0" y2="1693.0"/><line x1="1053.3" x2="1053.3" y1="1259.0" y2="1280.0"/>
<line x1="1303" x2="1303" y1="1714.0" y2="1693.0"/><line x1="1303" x2="1303" y1="1259.0" y2="1280.0"/>
<line x1="1556" x2="1556" y1="1714.0" y2="1693.0"/><line x1="1556" x2="1556" y1="1259.0" y2="1280.0"/>
<line x1="1806.8" x2="1806.8" y1="1714.0" y2="1693.0"/><line x1="1806.8" x2="1806.8" y1="1259.0" y2="1280.0"/>
<line x1="2059.5" x2="2059.5" y1="1714.0" y2="1693.0"/><line x1="2059.5" x2="2059.5" y1="1259.0" y2="1280.0"/>
</g>
<g font-family="'Liberation Sans', sans-serif" font-size="33.5" fill="#262626">
<g text-anchor="end">
<text x="224" y="1702.1">2</text>
<text x="224" y="1654.2">4</text>
<text x="224" y="1606.3">6</text>
<text x="224" y="1558.4">8</text>
<text x="224" y="1510.5">10</text>
<text x="224" y="1462.6">12</text>
<text x="224" y="1414.7">14</text>
<text x="224" y="1366.8">16</text>
<text x="224" y="1318.9">18</text>
<text x="224" y="1271.0">20</text>
</g><g text-anchor="middle">
<text x="293.5" y="1762">07/2015</text>
<text x="548.9" y="1762">01/2016</text>
<text x="799.8" y="1762">07/2016</text>
<text x="1053.8" y="1762">01/2017</text>
<text x="1303.5" y="1762">07/2017</text>
<text x="1556.5" y="1762">01/2018</text>
<text x="1807.3" y="1762">07/2018</text>
<text x="2060.0" y="1762">01/2019</text>
<text x="2310.0" y="1762">07/2019</text>
</g></g>
<defs><linearGradient id="jet" x1="0" y1="1" x2="0" y2="0"><stop offset="0" stop-color="#00008f"/><stop offset="0.125" stop-color="#0000ff"/><stop offset="0.375" stop-color="#00ffff"/><stop offset="0.625" stop-color="#ffff00"/><stop offset="0.875" stop-color="#ff0000"/><stop offset="1" stop-color="#800000"/></linearGradient></defs>
<rect x="2320.5" y="1259" width="19.5" height="451.5" fill="url(#jet)" stroke="#262626" stroke-width="1.5"/>
<g stroke="#262626" stroke-width="1.5">
<line x1="2336" x2="2340" y1="1314.5" y2="1314.5"/>
<line x1="2336" x2="2340" y1="1414.5" y2="1414.5"/>
<line x1="2336" x2="2340" y1="1515" y2="1515"/>
<line x1="2336" x2="2340" y1="1615.5" y2="1615.5"/>
</g>
<g font-family="'Liberation Sans', sans-serif" font-size="30" fill="#262626">
<text x="2354" y="1325.3">20</text>
<text x="2354" y="1425.3">10</text>
<text x="2354" y="1525.8">0</text>
<text x="2354" y="1626.3">-10</text>
<text transform="translate(2396,1479) rotate(-90)" text-anchor="middle" font-weight="bold" font-size="33">y</text>
</g>
<g font-family="'Liberation Sans', sans-serif" font-weight="bold" font-size="51" fill="#000"><text x="15" y="1278">(b)</text><text x="15" y="1869">(c)</text></g>
<g font-family="'Liberation Sans', sans-serif" font-weight="bold" font-size="44" fill="#7f7f7f">
<text x="85" y="1302.4" textLength="58" lengthAdjust="spacingAndGlyphs">G6</text>
<text x="85" y="1380.0" textLength="58" lengthAdjust="spacingAndGlyphs">G5</text>
<text x="85" y="1453.0" textLength="58" lengthAdjust="spacingAndGlyphs">G4</text>
<text x="85" y="1537.5" textLength="58" lengthAdjust="spacingAndGlyphs">G3</text>
<text x="85" y="1617.5" textLength="58" lengthAdjust="spacingAndGlyphs">G2</text>
<text x="85" y="1692.5" textLength="58" lengthAdjust="spacingAndGlyphs">G1</text>
<text x="126" y="1890.4" textLength="59" lengthAdjust="spacingAndGlyphs">G6</text>
<text x="126" y="1993.5" textLength="59" lengthAdjust="spacingAndGlyphs">G5</text>
<text x="126" y="2095.3" textLength="59" lengthAdjust="spacingAndGlyphs">G4</text>
<text x="126" y="2245.6" textLength="59" lengthAdjust="spacingAndGlyphs">G3</text>
<text x="126" y="2357.0" textLength="59" lengthAdjust="spacingAndGlyphs">G2</text>
<text x="126" y="2495.4" textLength="59" lengthAdjust="spacingAndGlyphs">G1</text>
</g>
<path d="M183.8,1256.8 L162.3,1258.3 Q155.3,1258.8 155.3,1265.8 L155.3,1314.9 Q155.3,1321.9 162.3,1322.4 L183.8,1323.9 L183.8,1314.4 L167.8,1313.9 Q164.8,1313.4 164.8,1310.4 L164.8,1270.3 Q164.8,1267.3 167.8,1266.8 L183.8,1266.3 Z" fill="#4dbeee"/>
<path d="M183.8,1328.7 L162.3,1330.2 Q155.3,1330.7 155.3,1337.7 L155.3,1385.9 Q155.3,1392.9 162.3,1393.4 L183.8,1394.9 L183.8,1385.4 L167.8,1384.9 Q164.8,1384.4 164.8,1381.4 L164.8,1342.2 Q164.8,1339.2 167.8,1338.7 L183.8,1338.2 Z" fill="#77ac30"/>
<path d="M183.8,1401.5 L162.3,1403.0 Q155.3,1403.5 155.3,1410.5 L155.3,1469.9 Q155.3,1476.9 162.3,1477.4 L183.8,1478.9 L183.8,1469.4 L167.8,1468.9 Q164.8,1468.4 164.8,1465.4 L164.8,1415.0 Q164.8,1412.0 167.8,1411.5 L183.8,1411.0 Z" fill="#7e2f8e"/>
<path d="M183.8,1493.6 L162.3,1495.1 Q155.3,1495.6 155.3,1502.6 L155.3,1551.7 Q155.3,1558.7 162.3,1559.2 L183.8,1560.7 L183.8,1551.2 L167.8,1550.7 Q164.8,1550.2 164.8,1547.2 L164.8,1507.1 Q164.8,1504.1 167.8,1503.6 L183.8,1503.1 Z" fill="#edb120"/>
<path d="M183.8,1577.6 L162.3,1579.1 Q155.3,1579.6 155.3,1586.6 L155.3,1620.1 Q155.3,1627.1 162.3,1627.6 L183.8,1629.1 L183.8,1619.6 L167.8,1619.1 Q164.8,1618.6 164.8,1615.6 L164.8,1591.1 Q164.8,1588.1 167.8,1587.6 L183.8,1587.1 Z" fill="#d95319"/>
<path d="M183.8,1639.6 L162.3,1641.1 Q155.3,1641.6 155.3,1648.6 L155.3,1706.1 Q155.3,1713.1 162.3,1713.6 L183.8,1715.1 L183.8,1705.6 L167.8,1705.1 Q164.8,1704.6 164.8,1701.6 L164.8,1653.1 Q164.8,1650.1 167.8,1649.6 L183.8,1649.1 Z" fill="#0072bd"/>
<path d="M226,1831 L204,1832.5 Q197,1833 197,1840 L197,1913.7 Q197,1920.7 204,1921.2 L226,1922.7 L226,1912.2 L210.5,1911.7 Q207.5,1911.2 207.5,1908.2 L207.5,1845.5 Q207.5,1842.5 210.5,1842.0 L226,1841.5 Z" fill="#4dbeee"/>
<path d="M226,1942.4 L204,1943.9 Q197,1944.4 197,1951.4 L197,2016.8 Q197,2023.8 204,2024.3 L226,2025.8 L226,2015.3 L210.5,2014.8 Q207.5,2014.3 207.5,2011.3 L207.5,1956.9 Q207.5,1953.9 210.5,1953.4 L226,1952.9 Z" fill="#77ac30"/>
<path d="M226,2044.2 L204,2045.7 Q197,2046.2 197,2053.2 L197,2153.4 Q197,2160.4 204,2160.9 L226,2162.4 L226,2151.9 L210.5,2151.4 Q207.5,2150.9 207.5,2147.9 L207.5,2058.7 Q207.5,2055.7 210.5,2055.2 L226,2054.7 Z" fill="#7e2f8e"/>
<path d="M226,2180.3 L204,2181.8 Q197,2182.3 197,2189.3 L197,2272.1 Q197,2279.1 204,2279.6 L226,2281.1 L226,2270.6 L210.5,2270.1 Q207.5,2269.6 207.5,2266.6 L207.5,2194.8 Q207.5,2191.8 210.5,2191.3 L226,2190.8 Z" fill="#edb120"/>
<path d="M226,2300.8 L204,2302.3 Q197,2302.8 197,2309.8 L197,2398.2 Q197,2405.2 204,2405.7 L226,2407.2 L226,2396.7 L210.5,2396.2 Q207.5,2395.7 207.5,2392.7 L207.5,2315.3 Q207.5,2312.3 210.5,2311.8 L226,2311.3 Z" fill="#d95319"/>
<path d="M226,2429.2 L204,2430.7 Q197,2431.2 197,2438.2 L197,2524.2 Q197,2531.2 204,2531.7 L226,2533.2 L226,2522.7 L210.5,2522.2 Q207.5,2521.7 207.5,2518.7 L207.5,2443.7 Q207.5,2440.7 210.5,2440.2 L226,2439.7 Z" fill="#0072bd"/>
<defs><linearGradient id="sea0" x1="0" x2="1" y1="0" y2="0"><stop offset="0.45" stop-color="#0f2f52"/><stop offset="1" stop-color="#091a38"/></linearGradient><clipPath id="pc0"><rect x="0" y="0" width="403" height="786"/></clipPath><linearGradient id="sea1" x1="0" x2="1" y1="0" y2="0"><stop offset="0.45" stop-color="#0f3a66"/><stop offset="1" stop-color="#0a2852"/></linearGradient><clipPath id="pc1"><rect x="0" y="0" width="404" height="786"/></clipPath><linearGradient id="sea2" x1="0" x2="1" y1="0" y2="0"><stop offset="0.45" stop-color="#10334f"/><stop offset="1" stop-color="#0f3052"/></linearGradient><clipPath id="pc2"><rect x="0" y="0" width="404" height="786"/></clipPath><linearGradient id="sea3" x1="0" x2="1" y1="0" y2="0"><stop offset="0.45" stop-color="#164450"/><stop offset="1" stop-color="#123644"/></linearGradient><clipPath id="pc3"><rect x="0" y="0" width="403" height="786"/></clipPath><filter id="b1" x="-50%" y="-50%" width="200%" height="200%"><feGaussianBlur stdDeviation="0.6"/></filter><filter id="b2" x="-50%" y="-50%" width="200%" height="200%"><feGaussianBlur stdDeviation="1.5"/></filter><filter id="b4" x="-50%" y="-50%" width="200%" height="200%"><feGaussianBlur stdDeviation="3"/></filter><filter id="b6" x="-50%" y="-50%" width="200%" height="200%"><feGaussianBlur stdDeviation="5"/></filter><filter id="b12" x="-50%" y="-50%" width="200%" height="200%"><feGaussianBlur stdDeviation="10"/></filter><filter id="b28" x="-50%" y="-50%" width="200%" height="200%"><feGaussianBlur stdDeviation="22"/></filter><filter id="b40" x="-50%" y="-50%" width="200%" height="200%"><feGaussianBlur stdDeviation="34"/></filter><filter id="b1u" x="-5%" y="-5%" width="110%" height="110%"><feGaussianBlur stdDeviation="1.1"/></filter><filter id="foam" x="0" y="0" width="100%" height="100%"><feTurbulence type="fractalNoise" baseFrequency="0.07 0.045" numOctaves="3" seed="7" result="n"/><feColorMatrix in="n" type="matrix" values="0 0 0 0 1  0 0 0 0 1  0 0 0 0 1  2.2 0 0 0 -0.6" result="m"/><feGaussianBlur in="SourceGraphic" stdDeviation="3" result="s"/><feComposite in="s" in2="m" operator="in"/></filter></defs>
<g transform="translate(293,1806)" clip-path="url(#pc0)">
<rect x="-10" y="-10" width="424" height="806" fill="url(#sea0)"/>
<path d="M-80,-60 L257.2,-23.4 257.2,-23.4C261.1,-0.0 274.1,74.0 280.6,116.9C287.1,159.8 292.3,188.3 296.2,233.8C300.1,279.3 303.4,337.7 304,389.7C304.6,441.7 302.1,500.1 300.1,545.6C298.2,591.1 295.6,630.0 292.3,662.5C289.1,695.0 284.5,715.8 280.6,740.5C276.7,765.2 270.8,798.9 268.9,810.6 L-80,846 Z" fill="#1a5169" filter="url(#b40)"/>
<path d="M-60,-40 L233.8,-15.6 233.8,-15.6C233.2,6.5 235.1,81.8 229.9,116.9C224.7,152.0 210.5,162.4 202.7,194.9C194.9,227.4 186.4,272.8 183.2,311.8C179.9,350.8 182.5,389.7 183.2,428.7C183.8,467.7 185.1,506.6 187.1,545.6C189.1,584.6 191.0,630.0 194.9,662.5C198.8,695.0 205.2,715.8 210.4,740.5C215.6,765.2 223.4,798.9 226,810.6 L-60,846 Z" fill="#2a7886" filter="url(#b28)"/>
<path d="M191,732.7C186.4,730.8 171.5,727.5 163.7,721C155.9,714.5 150.0,704.8 144.2,693.7C138.3,682.7 133.1,669.6 128.6,654.7C124.0,639.8 119.8,622.3 116.9,604.1C114.0,585.9 113.0,565.1 111.1,545.6C109.1,526.1 107.2,506.6 105.2,487.1C103.2,467.6 101.0,448.2 99.4,428.7C97.8,409.2 96.5,389.7 95.5,370.2C94.5,350.7 93.5,331.3 93.5,311.8C93.5,292.3 93.5,272.8 95.5,253.3C97.5,233.8 101.6,212.4 105.2,194.9C108.8,177.4 112.4,162.4 116.9,148.1C121.5,133.8 126.0,120.8 132.5,109.1C139.0,97.4 146.8,86.3 155.9,77.9C165.0,69.5 176.7,62.4 187.1,58.5C197.5,54.6 207.2,54.0 218.2,54.6C229.2,55.2 247.5,61.1 253.3,62.4" fill="none" stroke="#7fbcbc" stroke-width="16" opacity="0.3" filter="url(#b6)"/>
<path d="M138.3,413.1C140.9,410.5 153.6,419.0 155.9,424.8C158.2,430.6 154.6,445.6 152,448.2C149.4,450.8 142.6,446.2 140.3,440.4C138.0,434.5 135.7,415.7 138.3,413.1Z" fill="#123348" filter="url(#b4)" opacity="0.8"/>
<path d="M155.9,440.4C159.2,439.1 179.3,443.6 187.1,448.2C194.9,452.8 205.9,466.4 202.7,467.7C199.4,469.0 175.4,460.6 167.6,456C159.8,451.4 152.7,441.7 155.9,440.4Z" fill="#123348" filter="url(#b4)" opacity="0.6"/>
<path d="M167.6,619.6C172.8,615.7 192.3,610.5 202.7,611.8C213.1,613.1 229.9,622.8 229.9,627.4C229.9,632.0 212.4,637.8 202.7,639.1C193.0,640.4 177.3,638.5 171.5,635.2C165.7,632.0 162.4,623.5 167.6,619.6Z" fill="#0f2d42" filter="url(#b4)" opacity="0.8"/>
<path d="M183.2,682C185.8,674.9 206.5,669.6 218.2,670.3C229.9,670.9 244.9,678.8 253.3,685.9C261.8,693.0 272.1,706.7 268.9,713.2C265.6,719.7 244.8,724.9 233.8,724.9C222.8,724.9 211.1,720.4 202.7,713.2C194.3,706.1 180.6,689.1 183.2,682Z" fill="#0f2a3c" filter="url(#b6)" opacity="0.85"/>
<path d="M163.7,717.1C166.3,713.9 179.3,711.2 183.2,713.2C187.1,715.2 189.7,725.5 187.1,728.8C184.5,732.0 171.5,734.7 167.6,732.7C163.7,730.8 161.1,720.4 163.7,717.1Z" fill="#0f2a3c" filter="url(#b4)" opacity="0.8"/>
<path d="M229.9,89.6C231.5,85.0 240.0,79.9 241.6,83.8C243.2,87.7 241.3,108.5 239.7,113C238.1,117.5 233.5,115.0 231.9,111.1C230.3,107.2 228.3,94.1 229.9,89.6Z" fill="#0d2438" filter="url(#b4)" opacity="0.8"/>
<g filter="url(#b1)">
<path d="M159.8,-7.8C159.2,-4.5 161.1,3.9 155.9,11.7C150.7,19.5 137.0,28.0 128.6,39C120.1,50.0 111.4,63.0 105.2,77.9C99.0,92.8 96.1,112.3 91.6,128.6C87.0,144.8 81.5,160.5 77.9,175.4C74.3,190.3 71.7,202.0 70.1,218.2C68.5,234.4 68.3,250.7 68.2,272.8C68.1,294.9 68.8,324.7 69.4,350.7C70.1,376.7 70.7,406.0 72.1,428.7C73.5,451.4 76.0,467.6 77.9,487.1C79.9,506.6 81.8,526.1 83.8,545.6C85.8,565.1 86.7,585.9 89.6,604.1C92.5,622.3 96.8,639.8 101.3,654.7C105.8,669.6 110.4,680.7 116.9,693.7C123.4,706.7 134.5,721.0 140.3,732.7C146.2,744.4 150.7,753.4 152,763.8C153.3,774.2 148.8,789.8 148.1,795 L194.9,795C196.2,787.9 203.3,762.5 202.7,752.1C202.0,741.7 197.5,737.9 191,732.7C184.5,727.5 171.5,727.5 163.7,721C155.9,714.5 150.0,704.8 144.2,693.7C138.3,682.7 133.1,669.6 128.6,654.7C124.0,639.8 119.8,622.3 116.9,604.1C114.0,585.9 113.0,565.1 111.1,545.6C109.1,526.1 107.2,506.6 105.2,487.1C103.2,467.6 101.0,448.2 99.4,428.7C97.8,409.2 96.5,389.7 95.5,370.2C94.5,350.7 93.5,331.3 93.5,311.8C93.5,292.3 93.5,272.8 95.5,253.3C97.5,233.8 101.6,212.4 105.2,194.9C108.8,177.4 112.4,162.4 116.9,148.1C121.5,133.8 126.0,120.8 132.5,109.1C139.0,97.4 146.8,86.3 155.9,77.9C165.0,69.5 176.7,62.4 187.1,58.5C197.5,54.6 207.2,54.0 218.2,54.6C229.2,55.2 244.9,63.7 253.3,62.4C261.8,61.1 264.3,53.3 268.9,46.8C273.4,40.3 278.7,32.5 280.6,23.4C282.6,14.3 280.6,-2.6 280.6,-7.8Z" fill="#d9c9a8"/>
<path d="M282.5,0C286.1,-6.2 305.9,-3.9 311.8,0C317.7,3.9 317.3,15.6 317.6,23.4C317.9,31.2 316.6,41.6 313.7,46.8C310.8,52.0 304.0,56.2 300.1,54.6C296.2,53.0 293.2,46.1 290.3,37C287.4,27.9 278.9,6.2 282.5,0Z" fill="#8d8f86"/>
<path d="M228,0C235.2,-2.6 265.3,-2.9 272.8,0C280.3,2.9 279.9,14.9 272.8,17.5C265.7,20.1 237.4,18.5 229.9,15.6C222.4,12.7 220.8,2.6 228,0Z" fill="#6f7672"/>
<rect x="242" y="19" width="21" height="10" fill="#58a886"/>
<path d="M272.8,42.9C277.4,38.4 288.1,29.9 292.3,31.2C296.5,32.5 300.7,41.0 298.1,50.7C295.5,60.4 283.2,79.2 276.7,89.6C270.2,100.0 264.4,108.3 259.2,113C254.0,117.7 249.4,118.4 245.5,117.7C241.6,117.0 235.2,114.8 235.8,109.1C236.5,103.4 244.5,92.2 249.4,83.8C254.3,75.4 261.1,65.3 265,58.5C268.9,51.7 268.2,47.4 272.8,42.9Z" fill="#b9b9b0" stroke="#6e736e" stroke-width="2"/>
<path d="M183.2,734.6C183.8,728.8 196.2,722.6 202.7,721C209.2,719.4 216.9,721.0 222.1,724.9C227.3,728.8 232.8,737.2 233.8,744.3C234.8,751.4 230.6,759.2 228,767.7C225.4,776.2 225.7,790.5 218.2,795C210.7,799.5 186.4,801.5 183.2,795C180.0,788.5 198.8,766.1 198.8,756C198.8,745.9 182.5,740.4 183.2,734.6Z" fill="#a69f8c"/>
</g>
<g filter="url(#b1u)">
<path d="M159.8,-7.8C159.2,-4.5 161.1,3.9 155.9,11.7C150.7,19.5 137.0,28.0 128.6,39C120.1,50.0 111.4,63.0 105.2,77.9C99.0,92.8 96.1,112.3 91.6,128.6C87.0,144.8 81.5,160.5 77.9,175.4C74.3,190.3 71.7,202.0 70.1,218.2C68.5,234.4 68.3,250.7 68.2,272.8C68.1,294.9 68.8,324.7 69.4,350.7C70.1,376.7 70.7,406.0 72.1,428.7C73.5,451.4 76.0,467.6 77.9,487.1C79.9,506.6 81.8,526.1 83.8,545.6C85.8,565.1 86.7,585.9 89.6,604.1C92.5,622.3 96.8,639.8 101.3,654.7C105.8,669.6 110.4,680.7 116.9,693.7C123.4,706.7 134.5,721.0 140.3,732.7C146.2,744.4 150.7,753.4 152,763.8C153.3,774.2 148.8,789.8 148.1,795 L-5,796 L-5,-10 Z" fill="#6f7975"/>
<path d="M56,745h14v28h-14zM-8,520h29v16h-29zM25,346h14v21h-14zM70,597h17v17h-17zM27,590h26v20h-26zM-3,552h18v28h-18zM31,691h33v16h-33zM-4,656h21v12h-21z" fill="#3c4a44"/>
<path d="M-11,765h27v21h-27zM8,111h16v12h-16zM24,601h30v28h-30zM31,320h33v14h-33zM105,755h34v18h-34zM5,732h18v28h-18z" fill="#9a9484"/>
<path d="M13,678h27v28h-27zM29,255h27v15h-27zM40,288h19v15h-19z" fill="#45564d"/>
<path d="M-7,464h26v17h-26zM41,380h21v27h-21zM36,626h24v26h-24z" fill="#a9b0ab"/>
<path d="M19,41h31v17h-31z" fill="#7d7a6c"/>
<path d="M-2,454h25v15h-25zM44,158h30v29h-30z" fill="#4a5754"/>
<path d="M33,319h15v17h-15zM53,538h17v28h-17z" fill="#66736d"/>
<path d="M6,744h31v13h-31zM15,227h26v27h-26zM46,494h17v16h-17z" fill="#97a29c"/>
<path d="M30,568h23v17h-23zM1,364h15v15h-15z" fill="#5a6a60"/>
<path d="M14,303h12v9h-12zM18,587h9v9h-9zM53,274h11v11h-11zM48,252h8v10h-8zM76,101h10v7h-10zM23,281h7v12h-7zM17,255h10v7h-10zM36,496h5v7h-5zM16,148h5v11h-5zM69,21h10v6h-10zM14,537h8v8h-8zM5,501h10v8h-10zM80,673h9v5h-9zM61,496h7v6h-7zM88,652h8v10h-8zM26,99h5v8h-5zM147,6h4v5h-4zM7,681h10v10h-10zM60,625h9v8h-9zM32,568h12v6h-12zM108,776h9v8h-9zM40,627h5v7h-5zM44,411h10v7h-10z" fill="#4f8fd8"/>
<path d="M59,418h7v9h-7zM-3,388h5v9h-5zM20,732h7v8h-7zM23,280h12v5h-12zM0,159h10v10h-10zM37,330h8v11h-8zM55,121h12v11h-12zM32,96h10v11h-10zM8,612h5v4h-5zM81,716h7v7h-7zM13,390h10v10h-10zM47,3h11v10h-11zM11,333h7v8h-7zM0,243h8v10h-8zM7,470h11v6h-11zM33,215h6v4h-6zM2,609h9v7h-9zM46,385h6v9h-6zM48,419h12v6h-12zM33,600h11v10h-11zM14,266h5v5h-5zM37,516h6v8h-6zM0,698h11v4h-11zM7,76h7v5h-7zM7,100h10v5h-10zM55,442h7v6h-7z" fill="#6ab0d8"/>
<path d="M48,415h6v7h-6zM127,25h12v9h-12zM17,478h9v6h-9zM-5,53h10v11h-10zM101,768h4v10h-4zM1,140h11v7h-11zM19,178h6v6h-6zM37,78h6v11h-6zM22,71h10v9h-10zM20,394h12v6h-12zM22,518h7v8h-7zM36,764h6v8h-6zM42,606h9v7h-9zM56,487h5v5h-5zM6,694h10v5h-10zM60,284h5v8h-5zM76,620h6v8h-6zM54,355h10v9h-10zM44,100h5v10h-5zM36,58h10v8h-10zM49,337h7v8h-7zM60,420h8v6h-8zM24,422h8v11h-8zM36,205h9v6h-9zM5,196h8v6h-8zM59,-1h9v4h-9zM39,521h10v11h-10zM28,639h12v7h-12zM3,343h11v10h-11zM3,141h7v10h-7zM56,359h4v5h-4zM1,675h4v6h-4zM17,500h7v6h-7zM15,494h8v11h-8z" fill="#9a9d99"/>
<path d="M33,85h6v10h-6zM91,97h9v9h-9zM38,569h5v11h-5zM43,352h5v4h-5zM54,284h4v4h-4zM12,362h10v12h-10zM117,735h4v10h-4zM36,383h11v7h-11zM67,732h9v7h-9zM16,198h9v6h-9zM77,596h8v11h-8zM51,693h5v7h-5zM31,179h7v9h-7zM29,368h7v10h-7zM95,671h8v6h-8zM43,170h10v7h-10zM2,366h7v6h-7zM-4,392h11v8h-11zM29,762h4v10h-4zM21,444h4v11h-4zM56,382h6v7h-6zM13,550h10v7h-10z" fill="#4a9a7a"/>
<path d="M50,271h6v8h-6zM12,682h10v6h-10zM-6,657h11v11h-11zM26,492h10v7h-10zM19,311h8v6h-8zM31,582h10v12h-10zM29,761h12v8h-12zM38,130h8v7h-8zM53,760h8v11h-8zM48,303h4v12h-4zM7,517h4v7h-4zM42,195h8v7h-8zM3,441h10v6h-10zM40,301h4v4h-4zM61,751h4v11h-4zM108,738h7v12h-7zM29,387h4v9h-4zM42,232h9v9h-9zM2,311h6v10h-6zM136,753h5v8h-5zM57,142h7v9h-7zM2,235h5v9h-5zM6,440h5v6h-5zM8,362h11v10h-11zM29,65h5v11h-5zM137,758h12v6h-12zM41,222h9v7h-9zM48,107h7v8h-7zM17,673h5v12h-5zM10,428h10v10h-10zM-5,358h9v4h-9zM11,577h6v10h-6zM64,454h9v4h-9zM47,448h11v9h-11z" fill="#2a3533"/>
<path d="M40,53h7v9h-7zM33,635h8v9h-8zM37,488h10v5h-10zM41,616h6v6h-6zM33,272h6v10h-6zM40,94h6v4h-6zM74,535h6v10h-6zM49,367h10v7h-10zM50,24h10v10h-10zM16,299h7v10h-7zM29,104h10v7h-10z" fill="#b5c5bc"/>
<path d="M6,489h9v9h-9zM57,541h11v7h-11zM-2,423h6v9h-6zM40,305h8v6h-8zM45,482h8v7h-8zM17,269h7v10h-7zM20,337h4v11h-4zM14,682h8v10h-8zM139,777h8v8h-8zM61,182h5v7h-5zM26,46h9v11h-9zM16,156h11v6h-11zM27,590h6v12h-6zM57,31h8v5h-8zM-4,631h8v10h-8zM17,211h9v6h-9zM88,63h4v9h-4zM58,304h6v8h-6zM33,360h10v5h-10zM22,88h8v11h-8zM60,199h5v8h-5zM64,705h10v6h-10zM25,336h10v8h-10zM15,529h6v8h-6zM58,211h10v7h-10zM61,167h10v7h-10zM76,724h12v9h-12zM5,701h7v11h-7zM46,556h11v7h-11zM51,533h5v8h-5zM3,356h5v5h-5zM2,537h5v9h-5zM23,103h5v8h-5zM39,352h5v11h-5zM48,313h8v10h-8zM70,687h8v8h-8z" fill="#323e3a"/>
<path d="M59,403h8v9h-8zM9,47h11v9h-11zM70,545h6v8h-6zM36,484h8v5h-8zM5,212h5v12h-5zM38,291h8v6h-8zM-6,436h11v11h-11zM52,668h5v4h-5zM2,632h11v9h-11zM56,414h9v7h-9zM63,652h9v10h-9zM-1,518h6v6h-6zM45,701h10v8h-10zM12,159h7v4h-7zM59,488h7v7h-7zM35,352h12v12h-12zM18,424h10v8h-10z" fill="#cf4a45"/>
<path d="M36,623h10v4h-10zM17,248h11v10h-11zM1,667h9v12h-9zM48,477h9v10h-9zM26,423h6v9h-6zM76,539h6v5h-6zM15,451h5v9h-5zM-1,205h6v6h-6zM93,713h9v5h-9zM32,538h11v10h-11zM73,5h11v5h-11zM14,23h10v5h-10zM16,689h4v7h-4zM54,433h6v9h-6zM31,446h12v7h-12zM58,245h8v8h-8zM48,765h4v9h-4z" fill="#e2e3df"/>
<path d="M29,440h10v5h-10zM37,647h7v8h-7zM21,774h4v12h-4zM28,320h7v11h-7zM62,474h10v10h-10zM26,466h5v5h-5zM15,671h9v10h-9zM9,299h11v10h-11zM12,30h11v11h-11zM45,474h7v5h-7zM55,677h11v5h-11zM13,164h8v11h-8zM18,548h6v9h-6zM39,27h6v10h-6zM66,644h8v12h-8zM45,733h10v11h-10zM17,585h12v6h-12zM7,193h6v9h-6zM91,49h11v11h-11zM32,461h12v10h-12zM5,263h9v6h-9zM52,89h4v5h-4zM60,321h10v11h-10zM91,781h12v6h-12zM62,487h12v10h-12zM33,395h9v11h-9z" fill="#3b70c4"/>
<path d="M17,264h7v6h-7zM55,287h10v9h-10zM15,148h11v5h-11zM14,305h8v7h-8zM52,244h6v11h-6zM7,135h6v8h-6zM99,21h11v6h-11zM61,463h10v9h-10zM48,450h12v5h-12zM75,694h10v8h-10zM19,228h5v9h-5zM7,318h10v5h-10zM-1,734h11v12h-11zM27,433h6v10h-6zM8,68h11v7h-11zM51,547h6v9h-6zM-3,252h9v5h-9zM54,48h7v5h-7zM93,73h8v4h-8zM78,572h8v5h-8zM25,601h6v8h-6zM91,766h5v10h-5zM60,743h9v10h-9zM63,482h8v12h-8zM30,235h4v5h-4zM46,173h5v6h-5z" fill="#7f837f"/>
<path d="M4,454h6v7h-6zM34,238h7v9h-7zM-0,719h8v9h-8zM46,509h10v7h-10zM-1,466h11v6h-11zM9,497h4v12h-4zM31,389h8v5h-8zM4,256h8v5h-8zM-4,103h11v9h-11zM42,470h8v11h-8zM36,357h9v10h-9zM28,309h4v4h-4zM14,24h9v5h-9zM12,275h6v8h-6zM114,721h4v4h-4zM64,89h5v10h-5zM38,58h4v10h-4zM33,438h10v6h-10z" fill="#c9ccc8"/>
<path d="M81,11h11v6h-11zM38,8h9v11h-9zM8,308h7v5h-7zM34,272h6v10h-6zM50,690h8v11h-8zM85,83h5v8h-5zM7,317h9v6h-9zM23,452h9v10h-9zM66,439h5v9h-5zM46,667h5v9h-5zM67,698h11v9h-11zM58,207h6v8h-6zM28,288h5v6h-5zM45,403h5v9h-5zM34,337h9v6h-9zM0,271h10v4h-10zM31,411h11v10h-11zM33,238h6v5h-6z" fill="#d8dad5"/>
<path d="M66,686h5v8h-5zM-5,759h9v11h-9zM56,562h5v6h-5zM17,203h6v5h-6zM-1,373h4v11h-4zM79,63h11v6h-11zM63,509h8v4h-8zM57,295h9v12h-9zM58,528h11v12h-11zM81,766h9v8h-9zM9,473h5v8h-5zM79,771h11v4h-11zM115,727h9v5h-9zM5,271h10v8h-10zM8,484h5v5h-5zM45,219h11v9h-11zM40,172h5v11h-5zM37,518h11v9h-11zM5,424h6v4h-6z" fill="#8d7c66"/>
<path d="M39,124h8v10h-8zM2,426h10v6h-10zM65,421h5v6h-5zM15,705h6v12h-6zM44,629h4v6h-4zM87,69h11v10h-11zM76,731h6v12h-6zM19,396h8v12h-8zM46,223h8v11h-8zM12,683h6v10h-6zM-0,612h11v10h-11zM48,479h10v5h-10zM17,448h12v9h-12zM7,190h6v7h-6zM67,79h11v10h-11zM4,482h4v7h-4zM34,251h9v9h-9zM141,772h6v6h-6zM-2,612h8v10h-8zM19,773h11v6h-11zM61,350h6v4h-6zM126,22h4v8h-4zM12,759h10v12h-10zM53,764h12v5h-12zM17,108h11v10h-11zM24,228h8v6h-8z" fill="#2f5fae"/>
<path d="M25,539h8v4h-8zM22,413h9v5h-9zM56,368h11v7h-11zM8,492h11v4h-11zM57,200h5v11h-5zM8,672h5v5h-5zM11,159h6v9h-6zM46,691h4v11h-4zM57,648h6v6h-6zM-3,653h6v8h-6zM35,402h8v7h-8zM62,666h9v5h-9zM53,80h12v6h-12zM79,93h9v6h-9z" fill="#cfd2cd"/>
<path d="M79,733h7v10h-7zM24,353h8v7h-8zM-5,632h11v5h-11zM4,204h9v12h-9zM48,398h10v4h-10zM55,487h10v8h-10zM-3,538h9v10h-9zM84,45h6v9h-6zM54,263h12v5h-12zM49,574h11v7h-11zM3,408h9v6h-9zM47,565h12v5h-12zM22,455h5v8h-5zM54,232h7v11h-7zM45,422h10v7h-10zM28,80h8v9h-8zM48,333h9v7h-9zM13,480h6v9h-6zM68,108h6v10h-6zM73,500h5v8h-5zM53,628h9v5h-9zM27,104h5v8h-5zM63,158h5v5h-5zM-3,245h11v12h-11zM24,327h11v5h-11zM37,142h9v8h-9zM28,219h8v6h-8zM36,472h12v8h-12zM1,461h9v9h-9zM14,422h11v6h-11zM42,314h9v4h-9zM32,404h10v5h-10z" fill="#252e2b"/>
<path d="M17,609h4v7h-4zM23,716h8v11h-8zM22,59h6v11h-6zM65,660h10v10h-10zM108,23h5v8h-5zM49,254h5v8h-5zM35,110h6v10h-6zM24,674h8v8h-8zM1,570h6v11h-6zM-4,48h8v6h-8zM13,459h5v4h-5zM36,432h8v4h-8zM32,234h8v10h-8zM37,447h9v7h-9zM3,119h10v8h-10zM38,440h5v9h-5zM81,602h8v8h-8zM-4,542h5v12h-5zM-4,580h7v12h-7zM63,100h7v12h-7zM35,284h6v5h-6zM48,426h7v11h-7zM59,101h8v9h-8z" fill="#5aae8a"/>
<path d="M43,401h10v7h-10zM16,133h11v6h-11zM24,767h8v11h-8zM30,46h8v5h-8zM5,9h11v8h-11zM12,356h7v4h-7zM75,556h5v9h-5zM41,247h6v8h-6zM101,686h11v12h-11zM60,348h8v7h-8zM37,675h7v4h-7zM2,741h9v11h-9zM80,627h9v8h-9zM51,503h6v12h-6zM26,665h6v12h-6zM62,416h6v10h-6zM16,325h9v9h-9zM11,214h7v10h-7zM59,477h5v9h-5zM15,268h10v11h-10zM21,472h9v8h-9zM1,453h6v11h-6zM58,199h5v7h-5zM44,673h9v7h-9zM50,396h10v11h-10zM35,175h8v9h-8zM2,199h11v6h-11zM40,48h4v11h-4zM37,338h6v8h-6zM99,675h9v12h-9zM41,260h11v7h-11z" fill="#2f3b34"/>
<path d="M2,244h4v9h-4zM8,491h5v11h-5zM7,249h7v4h-7zM44,29h10v7h-10zM20,526h10v5h-10zM-0,501h11v7h-11zM65,149h5v7h-5zM55,214h6v12h-6zM46,431h9v7h-9zM10,270h5v7h-5zM116,41h4v8h-4zM31,181h11v12h-11zM17,587h9v8h-9z" fill="#c0c4bf"/>
<path d="M37,693h10v6h-10zM60,591h10v9h-10zM59,240h4v9h-4zM23,510h9v10h-9zM12,479h10v12h-10zM91,670h6v6h-6zM9,536h9v4h-9zM-2,705h9v6h-9zM81,689h9v7h-9zM18,200h10v9h-10zM11,662h9v7h-9zM26,343h8v8h-8zM34,349h10v6h-10zM31,53h8v4h-8zM71,546h9v9h-9zM58,118h4v10h-4zM47,607h10v5h-10zM22,610h5v6h-5zM9,458h9v4h-9zM22,168h8v10h-8zM-2,544h4v6h-4zM23,506h7v5h-7zM117,5h8v8h-8zM40,455h11v4h-11zM22,612h4v4h-4zM28,47h10v11h-10zM11,35h10v7h-10zM46,308h10v9h-10zM59,416h8v5h-8zM72,108h4v11h-4zM11,289h4v9h-4zM22,231h7v4h-7zM-3,488h5v10h-5zM97,676h10v11h-10zM72,570h4v11h-4zM114,33h7v12h-7z" fill="#3e4b47"/>
<path d="M41,580h4v6h-4zM38,146h7v7h-7zM57,323h8v8h-8zM15,201h5v8h-5zM48,392h6v12h-6zM24,225h6v8h-6zM24,437h4v12h-4zM20,508h9v11h-9zM71,514h8v4h-8zM6,749h6v9h-6zM35,620h6v5h-6zM13,407h5v7h-5zM69,607h11v11h-11zM-0,578h5v7h-5zM40,250h7v10h-7zM67,550h4v10h-4zM68,540h12v10h-12zM72,589h5v10h-5zM21,68h5v4h-5z" fill="#b5a58a"/>
<path d="M8,266h8v6h-8zM-5,687h10v6h-10zM37,507h10v5h-10zM44,482h11v10h-11zM27,354h5v9h-5zM0,416h7v7h-7zM24,356h7v7h-7zM15,559h5v10h-5zM13,289h10v8h-10zM12,514h7v9h-7zM-4,459h6v8h-6zM97,678h12v8h-12zM56,405h11v7h-11zM72,29h12v10h-12zM82,648h7v10h-7zM-2,591h9v10h-9zM24,127h7v9h-7zM41,386h7v6h-7zM18,317h8v7h-8zM-3,450h9v5h-9zM48,119h11v7h-11zM24,199h10v11h-10zM21,123h7v8h-7zM71,575h7v12h-7zM27,376h11v5h-11zM32,689h8v10h-8zM84,647h10v11h-10zM36,607h11v10h-11zM3,375h8v10h-8z" fill="#3a4545"/>
<path d="M40,318h7v7h-7zM67,779h10v5h-10zM39,259h4v5h-4zM93,90h6v6h-6zM-0,296h4v5h-4zM46,533h11v7h-11zM57,224h8v9h-8zM21,186h5v11h-5zM20,455h9v10h-9zM21,629h6v10h-6z" fill="#3f8d6e"/>
<g fill="none" stroke="#a3a6a1"><path d="M7.8,-7.8C9.4,6.5 14.4,47.4 17.5,77.9C20.6,108.4 23.7,142.9 26.5,175.4C29.3,207.9 31.9,240.3 34.3,272.8C36.7,305.3 38.5,337.7 40.9,370.2C43.3,402.7 45.8,435.2 48.7,467.7C51.6,500.2 54.9,535.9 58.5,565.1C62.1,594.3 65.0,618.3 70.1,643C75.2,667.7 82.1,687.9 88.9,713.2C95.7,738.5 107.4,781.4 111.1,795" stroke-width="5.5"/>
<path d="M154.8,-7.8C154.2,-4.5 156.1,3.9 150.9,11.7C145.7,19.5 132.0,28.0 123.6,39C115.1,50.0 106.4,63.0 100.2,77.9C94.0,92.8 91.1,112.3 86.6,128.6C82.0,144.8 76.5,160.5 72.9,175.4C69.3,190.3 66.7,202.0 65.1,218.2C63.5,234.4 63.3,250.7 63.2,272.8C63.1,294.9 63.8,324.7 64.4,350.7C65.1,376.7 65.7,406.0 67.1,428.7C68.5,451.4 71.0,467.6 72.9,487.1C74.9,506.6 76.8,526.1 78.8,545.6C80.8,565.1 81.7,585.9 84.6,604.1C87.5,622.3 91.8,639.8 96.3,654.7C100.8,669.6 105.4,680.7 111.9,693.7C118.4,706.7 129.5,721.0 135.3,732.7C141.2,744.4 145.7,753.4 147,763.8C148.3,774.2 143.8,789.8 143.1,795" stroke-width="4.5"/>
<path d="M5.8,506.6C6.4,526.1 8.4,587.8 9.7,623.5C11.0,659.2 12.6,692.4 13.6,721C14.6,749.6 15.3,782.7 15.6,795" stroke-width="4"/>
<path d="M0,212L71,210M0,366L70,363M0,462L75,466M0,563L86,562M0,663L104,661" stroke-width="3.2"/></g>
</g>
</g>
<g transform="translate(866,1806)" clip-path="url(#pc1)">
<rect x="-10" y="-10" width="424" height="806" fill="url(#sea1)"/>
<path d="M-80,-60 L257.2,-23.4 257.2,-23.4C261.1,-0.0 274.1,74.0 280.6,116.9C287.1,159.8 292.3,188.3 296.2,233.8C300.1,279.3 303.4,337.7 304,389.7C304.6,441.7 302.1,500.1 300.1,545.6C298.2,591.1 295.6,630.0 292.3,662.5C289.1,695.0 284.5,715.8 280.6,740.5C276.7,765.2 270.8,798.9 268.9,810.6 L-80,846 Z" fill="#1b6280" filter="url(#b40)"/>
<path d="M-60,-40 L233.8,-15.6 233.8,-15.6C233.2,6.5 235.1,81.8 229.9,116.9C224.7,152.0 210.5,162.4 202.7,194.9C194.9,227.4 186.4,272.8 183.2,311.8C179.9,350.8 182.5,389.7 183.2,428.7C183.8,467.7 185.1,506.6 187.1,545.6C189.1,584.6 191.0,630.0 194.9,662.5C198.8,695.0 205.2,715.8 210.4,740.5C215.6,765.2 223.4,798.9 226,810.6 L-60,846 Z" fill="#2f8a98" filter="url(#b28)"/>
<path d="M191,732.7C186.4,730.8 171.5,727.5 163.7,721C155.9,714.5 150.0,704.8 144.2,693.7C138.3,682.7 133.1,669.6 128.6,654.7C124.0,639.8 119.8,622.3 116.9,604.1C114.0,585.9 113.0,565.1 111.1,545.6C109.1,526.1 107.0,506.6 105.2,487.1C103.4,467.6 102.1,448.2 100.5,428.7C98.9,409.2 96.8,389.7 95.5,370.2C94.2,350.7 93.0,331.3 92.8,311.8C92.6,292.3 92.8,272.8 94.3,253.3C95.8,233.8 98.6,212.4 102.1,194.9C105.5,177.4 109.9,162.4 115,148.1C120.1,133.8 125.7,121.1 132.5,109.1C139.3,97.1 146.8,85.1 155.9,76C165.0,66.9 176.7,59.1 187.1,54.6C197.5,50.1 207.2,48.1 218.2,48.7C229.2,49.4 247.5,56.9 253.3,58.5" fill="none" stroke="#8fcaca" stroke-width="16" opacity="0.3" filter="url(#b6)"/>
<path d="M116.9,253.3C126.0,228.6 152.6,231.8 163.7,241.6C174.8,251.3 181.9,280.6 183.2,311.8C184.5,343.0 176.1,396.2 171.5,428.7C166.9,461.2 165.0,491.7 155.9,506.6C146.8,521.5 124.7,537.8 116.9,518.3C109.1,498.8 109.1,433.9 109.1,389.7C109.1,345.5 107.8,278.0 116.9,253.3Z" fill="#4a9ca6" filter="url(#b12)" opacity="0.55"/>
<path d="M206.5,561.2C205.8,544.3 218.8,532.6 226,545.6C233.2,558.6 248.8,622.2 249.4,639.1C250.1,656.0 237.1,659.9 229.9,646.9C222.8,633.9 207.2,578.1 206.5,561.2Z" fill="#123a52" filter="url(#b4)" opacity="0.85"/>
<path d="M183.2,682C185.8,674.9 206.5,669.6 218.2,670.3C229.9,670.9 244.9,678.8 253.3,685.9C261.8,693.0 272.1,706.7 268.9,713.2C265.6,719.7 244.8,724.9 233.8,724.9C222.8,724.9 211.1,720.4 202.7,713.2C194.3,706.1 180.6,689.1 183.2,682Z" fill="#123348" filter="url(#b6)" opacity="0.8"/>
<path d="M226,89.6C227.6,85.0 237.4,79.9 239.7,83.8C242.0,87.7 241.3,108.5 239.7,113C238.1,117.5 232.2,115.0 229.9,111.1C227.6,107.2 224.4,94.1 226,89.6Z" fill="#0d2c48" filter="url(#b4)" opacity="0.8"/>
<path d="M385,651.6C385.5,643.9 386.9,643.9 387.4,651.6C387.9,659.3 388.7,689.9 388.2,697.6C387.7,705.3 384.8,705.3 384.3,697.6C383.8,689.9 384.5,659.3 385,651.6Z" fill="#b8a860" filter="url(#b1)" opacity="0.8"/>
<g filter="url(#b1)">
<path d="M171.5,-7.8C168.9,-3.9 163.1,7.2 155.9,15.6C148.8,24.0 137.0,31.9 128.6,42.9C120.1,53.9 111.4,67.5 105.2,81.8C99.0,96.1 96.1,113.0 91.6,128.6C87.0,144.2 82.1,160.5 77.9,175.4C73.7,190.3 68.4,202.0 66.3,218.2C64.2,234.4 65.4,250.7 65.5,272.8C65.6,294.9 66.1,324.7 67,350.7C67.9,376.7 69.2,406.0 70.9,428.7C72.6,451.4 75.2,467.6 77.2,487.1C79.2,506.6 80.6,526.1 82.6,545.6C84.5,565.1 85.9,585.9 88.9,604.1C91.9,622.3 95.8,639.8 100.5,654.7C105.2,669.6 110.3,680.7 116.9,693.7C123.5,706.7 134.8,721.0 140.3,732.7C145.8,744.4 148.7,753.4 150,763.8C151.3,774.2 148.4,789.8 148.1,795 L194.9,795C196.2,787.9 203.3,762.5 202.7,752.1C202.0,741.7 197.5,737.9 191,732.7C184.5,727.5 171.5,727.5 163.7,721C155.9,714.5 150.0,704.8 144.2,693.7C138.3,682.7 133.1,669.6 128.6,654.7C124.0,639.8 119.8,622.3 116.9,604.1C114.0,585.9 113.0,565.1 111.1,545.6C109.1,526.1 107.0,506.6 105.2,487.1C103.4,467.6 102.1,448.2 100.5,428.7C98.9,409.2 96.8,389.7 95.5,370.2C94.2,350.7 93.0,331.3 92.8,311.8C92.6,292.3 92.8,272.8 94.3,253.3C95.8,233.8 98.6,212.4 102.1,194.9C105.5,177.4 109.9,162.4 115,148.1C120.1,133.8 125.7,121.1 132.5,109.1C139.3,97.1 146.8,85.1 155.9,76C165.0,66.9 176.7,59.1 187.1,54.6C197.5,50.1 207.2,48.1 218.2,48.7C229.2,49.4 244.9,59.5 253.3,58.5C261.8,57.5 264.3,48.8 268.9,42.9C273.4,37.0 278.7,31.8 280.6,23.4C282.6,14.9 280.6,-2.6 280.6,-7.8Z" fill="#ddcfae"/>
<path d="M282.5,0C286.1,-6.2 305.9,-3.9 311.8,0C317.7,3.9 317.3,15.6 317.6,23.4C317.9,31.2 316.6,41.6 313.7,46.8C310.8,52.0 304.0,56.2 300.1,54.6C296.2,53.0 293.2,46.1 290.3,37C287.4,27.9 278.9,6.2 282.5,0Z" fill="#8d8f86"/>
<path d="M228,0C235.2,-2.6 265.3,-2.9 272.8,0C280.3,2.9 279.9,14.9 272.8,17.5C265.7,20.1 237.4,18.5 229.9,15.6C222.4,12.7 220.8,2.6 228,0Z" fill="#6f7672"/>
<rect x="242" y="19" width="21" height="10" fill="#58a886"/>
<path d="M272.8,42.9C277.4,38.4 288.1,29.9 292.3,31.2C296.5,32.5 300.7,41.0 298.1,50.7C295.5,60.4 283.2,79.2 276.7,89.6C270.2,100.0 264.4,108.3 259.2,113C254.0,117.7 249.4,118.4 245.5,117.7C241.6,117.0 235.2,114.8 235.8,109.1C236.5,103.4 244.5,92.2 249.4,83.8C254.3,75.4 261.1,65.3 265,58.5C268.9,51.7 268.2,47.4 272.8,42.9Z" fill="#b9b9b0" stroke="#6e736e" stroke-width="2"/>
<path d="M183.2,734.6C183.8,728.8 196.2,722.6 202.7,721C209.2,719.4 216.9,721.0 222.1,724.9C227.3,728.8 232.8,737.2 233.8,744.3C234.8,751.4 230.6,759.2 228,767.7C225.4,776.2 225.7,790.5 218.2,795C210.7,799.5 186.4,801.5 183.2,795C180.0,788.5 198.8,766.1 198.8,756C198.8,745.9 182.5,740.4 183.2,734.6Z" fill="#a69f8c"/>
</g>
<g filter="url(#b1u)">
<path d="M171.5,-7.8C168.9,-3.9 163.1,7.2 155.9,15.6C148.8,24.0 137.0,31.9 128.6,42.9C120.1,53.9 111.4,67.5 105.2,81.8C99.0,96.1 96.1,113.0 91.6,128.6C87.0,144.2 82.1,160.5 77.9,175.4C73.7,190.3 68.4,202.0 66.3,218.2C64.2,234.4 65.4,250.7 65.5,272.8C65.6,294.9 66.1,324.7 67,350.7C67.9,376.7 69.2,406.0 70.9,428.7C72.6,451.4 75.2,467.6 77.2,487.1C79.2,506.6 80.6,526.1 82.6,545.6C84.5,565.1 85.9,585.9 88.9,604.1C91.9,622.3 95.8,639.8 100.5,654.7C105.2,669.6 110.3,680.7 116.9,693.7C123.5,706.7 134.8,721.0 140.3,732.7C145.8,744.4 148.7,753.4 150,763.8C151.3,774.2 148.4,789.8 148.1,795 L-5,796 L-5,-10 Z" fill="#929d98"/>
<path d="M36,704h31v20h-31zM58,128h19v26h-19zM10,352h32v24h-32zM47,217h17v28h-17zM5,317h30v20h-30zM34,274h19v17h-19zM13,651h16v14h-16zM105,708h27v23h-27zM11,303h24v14h-24z" fill="#5a6a60"/>
<path d="M35,740h27v20h-27zM3,100h33v21h-33z" fill="#45564d"/>
<path d="M4,313h21v20h-21zM5,394h32v25h-32z" fill="#4a5754"/>
<path d="M54,586h30v26h-30zM1,599h22v24h-22zM65,60h31v18h-31zM-14,383h33v29h-33zM42,450h20v18h-20z" fill="#7d7a6c"/>
<path d="M59,535h15v22h-15zM-14,403h33v15h-33zM3,272h14v23h-14zM73,726h14v24h-14zM38,641h20v24h-20z" fill="#a9b0ab"/>
<path d="M41,295h24v17h-24zM58,560h20v30h-20zM9,673h21v29h-21zM51,37h29v14h-29zM11,620h25v24h-25z" fill="#9a9484"/>
<path d="M49,70h19v19h-19z" fill="#3c4a44"/>
<path d="M27,596h22v15h-22z" fill="#66736d"/>
<path d="M49,76h6v4h-6zM60,465h7v7h-7zM93,70h9v11h-9zM66,537h5v7h-5zM47,126h5v7h-5zM71,504h7v9h-7zM46,505h10v6h-10zM61,146h11v5h-11zM109,768h9v8h-9zM115,735h5v9h-5zM53,549h7v7h-7zM79,615h11v6h-11zM21,192h10v7h-10zM46,281h8v8h-8zM29,614h12v7h-12zM7,257h10v8h-10zM5,170h11v7h-11zM32,75h9v11h-9zM55,538h10v11h-10zM90,86h6v6h-6zM35,621h4v4h-4z" fill="#6ab0d8"/>
<path d="M76,59h11v6h-11zM29,332h4v10h-4zM15,372h5v5h-5zM72,720h6v11h-6zM-6,732h10v11h-10zM33,333h9v6h-9zM3,136h8v7h-8zM84,55h12v7h-12zM0,255h10v8h-10zM22,106h6v9h-6zM-3,465h7v6h-7zM70,773h5v7h-5zM33,135h6v4h-6zM-3,460h11v8h-11zM2,715h8v7h-8zM4,271h11v12h-11zM22,578h12v7h-12zM111,51h8v8h-8zM67,558h4v8h-4zM76,661h7v9h-7zM28,284h11v9h-11zM-5,523h10v5h-10zM-2,450h10v10h-10zM65,440h6v4h-6zM25,476h6v11h-6zM68,705h11v9h-11zM-1,286h11v9h-11zM2,84h9v4h-9zM13,162h9v9h-9zM47,141h6v9h-6zM4,207h6v12h-6zM40,520h11v11h-11zM42,119h5v8h-5zM25,431h8v10h-8z" fill="#d8dad5"/>
<path d="M51,584h8v10h-8zM56,219h6v5h-6zM129,767h5v9h-5zM96,762h6v7h-6zM46,52h7v6h-7zM6,531h9v9h-9zM17,396h6v5h-6zM29,486h11v6h-11zM65,681h8v7h-8zM27,724h11v11h-11zM41,98h11v11h-11zM8,28h8v4h-8zM27,111h12v8h-12zM32,195h7v10h-7zM-1,437h7v5h-7zM65,70h8v9h-8zM22,493h8v5h-8zM97,743h10v6h-10zM5,56h9v9h-9zM50,663h6v6h-6zM13,427h5v5h-5zM47,305h12v12h-12zM37,299h8v10h-8zM18,570h6v10h-6zM67,541h11v9h-11z" fill="#cf4a45"/>
<path d="M8,227h4v11h-4zM95,724h6v4h-6zM60,158h10v7h-10zM19,67h8v11h-8zM118,37h12v8h-12zM80,40h6v5h-6zM97,777h4v10h-4zM51,300h4v8h-4zM103,45h7v10h-7zM-5,629h8v6h-8zM52,263h12v6h-12zM43,286h7v6h-7zM-1,142h8v8h-8zM34,720h12v6h-12zM31,439h10v6h-10zM29,461h4v6h-4zM2,30h8v11h-8zM-2,350h12v11h-12zM-2,536h11v10h-11zM20,618h8v11h-8z" fill="#4a9a7a"/>
<path d="M31,411h8v12h-8zM97,720h8v5h-8zM45,470h5v7h-5zM51,279h11v11h-11zM75,638h11v7h-11zM69,635h8v7h-8zM3,266h10v6h-10zM24,231h11v5h-11zM35,622h6v6h-6zM23,374h9v10h-9zM60,760h8v9h-8zM65,109h7v4h-7zM32,91h8v6h-8zM31,58h10v5h-10z" fill="#2f3b34"/>
<path d="M61,606h5v12h-5zM22,692h4v7h-4zM40,289h12v11h-12zM11,62h10v9h-10zM19,236h6v9h-6zM5,539h6v4h-6zM55,334h11v10h-11zM4,553h7v6h-7zM17,111h4v7h-4zM23,278h6v6h-6zM38,767h9v11h-9zM40,189h6v5h-6zM24,240h5v6h-5zM-7,148h11v8h-11zM23,558h11v10h-11zM52,368h9v8h-9zM86,95h5v10h-5z" fill="#3e4b47"/>
<path d="M16,530h8v6h-8zM42,308h6v10h-6zM47,690h8v11h-8zM52,118h6v12h-6zM44,395h6v5h-6zM-3,552h7v10h-7zM26,630h11v10h-11zM60,370h5v4h-5zM16,134h7v7h-7zM27,733h4v8h-4zM120,758h8v12h-8zM3,276h10v12h-10zM55,416h11v10h-11zM29,664h8v5h-8zM106,54h10v5h-10zM31,419h9v6h-9zM42,440h7v12h-7zM-4,363h12v9h-12zM90,91h6v4h-6zM78,729h9v7h-9zM104,680h9v11h-9zM7,458h6v6h-6zM7,185h7v6h-7zM10,172h9v9h-9zM57,505h5v7h-5zM37,670h10v9h-10zM14,317h8v11h-8zM42,621h5v7h-5zM31,325h12v8h-12zM53,343h11v9h-11zM11,619h8v8h-8zM5,173h5v4h-5zM5,407h5v9h-5zM49,336h6v11h-6z" fill="#cfd2cd"/>
<path d="M30,217h11v10h-11zM0,354h11v8h-11zM47,180h11v9h-11zM22,376h6v7h-6zM13,482h5v10h-5zM70,679h11v11h-11zM-3,556h11v8h-11zM85,24h8v8h-8zM79,754h11v5h-11zM36,423h11v6h-11zM-7,630h11v7h-11zM7,450h10v8h-10zM46,659h6v9h-6zM37,264h9v5h-9zM45,51h5v11h-5zM24,61h12v11h-12zM57,151h10v7h-10zM59,166h11v11h-11zM68,493h8v9h-8zM51,324h11v10h-11zM47,87h8v12h-8zM60,131h11v11h-11zM8,146h11v9h-11zM36,477h7v8h-7z" fill="#3b70c4"/>
<path d="M11,107h9v9h-9zM41,446h6v7h-6zM26,422h11v5h-11zM19,274h12v9h-12zM64,743h8v9h-8zM99,718h5v6h-5zM20,70h6v11h-6zM120,36h4v8h-4zM114,765h8v4h-8zM18,675h11v6h-11zM16,697h9v8h-9zM31,206h6v6h-6zM61,413h4v11h-4zM36,58h5v9h-5zM48,765h5v5h-5zM26,361h5v11h-5z" fill="#3a4545"/>
<path d="M-6,573h9v5h-9zM14,193h8v7h-8zM-0,604h10v9h-10zM103,717h9v10h-9zM36,188h8v10h-8zM11,123h5v11h-5zM55,412h8v8h-8zM46,174h7v7h-7zM38,427h7v11h-7zM54,157h6v5h-6zM58,429h9v9h-9zM59,575h6v8h-6zM23,453h9v7h-9zM42,723h6v11h-6zM133,5h6v7h-6zM10,211h12v7h-12zM20,652h10v7h-10zM-4,393h9v8h-9zM77,709h12v10h-12zM21,761h5v8h-5zM3,427h7v10h-7zM3,102h6v5h-6zM30,538h6v10h-6z" fill="#252e2b"/>
<path d="M25,511h5v8h-5zM42,466h10v4h-10zM10,56h11v7h-11zM23,375h6v7h-6zM15,467h6v11h-6zM50,642h4v6h-4zM57,315h6v7h-6zM53,31h9v6h-9zM38,543h5v5h-5zM7,734h11v10h-11zM25,344h8v8h-8zM27,303h10v6h-10zM55,528h8v8h-8zM21,661h9v10h-9zM41,588h10v6h-10zM-2,618h10v11h-10zM62,57h4v6h-4zM63,80h6v6h-6zM52,217h5v6h-5zM39,65h8v7h-8zM49,581h5v6h-5zM49,205h7v5h-7zM84,117h11v4h-11zM91,95h11v7h-11zM86,758h11v7h-11zM46,474h11v7h-11zM125,736h10v12h-10zM10,243h4v10h-4zM39,579h6v9h-6zM16,767h9v5h-9zM117,18h6v10h-6zM45,236h4v7h-4zM69,21h4v4h-4z" fill="#3f8d6e"/>
<path d="M35,629h11v11h-11zM138,749h6v4h-6zM51,225h6v6h-6zM43,620h7v11h-7zM88,681h9v11h-9zM13,654h8v11h-8zM14,187h8v10h-8zM50,191h7v7h-7zM104,2h9v6h-9zM36,247h11v8h-11zM19,53h9v7h-9zM23,25h5v9h-5zM16,213h6v4h-6zM12,54h6v7h-6zM58,514h5v10h-5zM16,280h12v6h-12zM8,631h11v8h-11zM111,700h8v9h-8zM-5,409h8v12h-8z" fill="#4f8fd8"/>
<path d="M60,128h5v7h-5zM23,694h7v8h-7zM32,365h11v6h-11zM72,695h4v10h-4zM31,356h10v11h-10zM18,86h10v8h-10zM47,379h10v5h-10zM9,517h5v7h-5zM69,62h12v12h-12zM54,710h8v12h-8zM3,404h9v11h-9zM43,640h10v9h-10zM14,288h11v6h-11zM6,558h11v6h-11zM121,744h8v12h-8zM11,297h7v8h-7zM56,596h11v7h-11zM115,742h6v5h-6zM4,117h10v7h-10zM47,467h5v8h-5zM20,382h9v6h-9zM63,556h6v10h-6zM17,545h10v8h-10zM55,154h6v7h-6zM26,119h6v7h-6zM76,140h7v5h-7zM6,512h5v12h-5zM14,768h5v8h-5zM4,171h11v8h-11zM25,363h6v8h-6zM41,274h5v10h-5zM3,574h5v5h-5zM49,652h11v8h-11zM38,348h11v11h-11zM61,173h5v10h-5z" fill="#c0c4bf"/>
<path d="M50,217h7v9h-7zM61,621h4v9h-4zM59,574h6v8h-6zM26,536h11v5h-11zM35,247h4v7h-4zM117,763h6v6h-6zM6,207h8v9h-8zM45,117h9v4h-9zM74,-1h9v11h-9zM45,304h8v6h-8zM51,125h11v10h-11zM64,90h11v6h-11zM11,504h5v9h-5zM-6,617h9v11h-9zM1,379h11v6h-11zM51,276h11v6h-11zM21,371h7v7h-7zM41,498h5v12h-5zM17,334h9v6h-9zM-2,431h6v6h-6zM30,407h8v9h-8zM24,676h6v8h-6zM48,631h11v8h-11zM115,756h5v6h-5zM33,652h5v8h-5zM73,772h4v10h-4z" fill="#2f5fae"/>
<path d="M38,309h6v8h-6zM33,653h6v6h-6zM30,73h10v10h-10zM119,24h5v7h-5zM65,161h7v11h-7zM48,114h9v11h-9zM21,231h12v9h-12zM1,78h8v12h-8zM29,403h6v8h-6zM53,722h4v9h-4zM40,443h6v12h-6zM73,655h6v6h-6zM-1,168h11v5h-11zM18,253h9v7h-9zM30,252h6v10h-6zM46,-0h5v9h-5zM3,244h5v9h-5zM24,245h12v5h-12zM-4,551h12v10h-12zM18,235h8v10h-8zM62,634h6v8h-6zM-6,509h11v6h-11zM22,253h8v8h-8zM76,666h5v8h-5zM30,2h7v5h-7zM37,225h5v7h-5zM12,301h9v9h-9zM33,127h4v10h-4z" fill="#e2e3df"/>
<path d="M5,649h12v5h-12zM53,312h8v5h-8zM43,425h4v5h-4zM44,554h11v6h-11zM25,70h7v8h-7zM45,491h12v7h-12zM44,235h5v9h-5zM87,49h6v10h-6zM5,468h6v7h-6zM73,37h5v5h-5zM65,161h4v11h-4zM6,33h11v11h-11zM17,716h8v7h-8zM12,119h10v10h-10zM32,404h12v5h-12zM17,701h5v8h-5zM17,741h9v6h-9zM8,92h10v11h-10z" fill="#c9ccc8"/>
<path d="M14,95h6v6h-6zM17,634h10v12h-10zM-1,596h6v8h-6zM27,255h7v10h-7zM76,144h11v6h-11zM44,433h11v5h-11zM46,459h9v8h-9zM57,567h11v9h-11zM28,444h10v8h-10zM16,133h4v7h-4zM-2,310h11v6h-11zM22,459h5v6h-5zM4,311h11v6h-11zM45,276h4v10h-4zM7,738h5v10h-5zM-4,518h10v8h-10zM20,778h9v5h-9z" fill="#b5a58a"/>
<path d="M83,632h12v7h-12zM26,232h8v11h-8zM66,172h8v8h-8zM20,723h11v10h-11zM11,662h12v9h-12zM58,593h6v9h-6zM92,759h5v6h-5zM97,76h6v9h-6zM55,303h10v9h-10zM45,653h7v6h-7zM31,662h4v10h-4zM-1,112h6v9h-6zM40,244h9v5h-9zM11,476h11v7h-11zM52,220h6v5h-6zM72,640h11v4h-11z" fill="#7f837f"/>
<path d="M17,515h10v10h-10zM56,395h12v5h-12zM51,325h11v8h-11zM44,423h8v12h-8zM36,406h10v6h-10zM48,341h12v7h-12zM36,310h8v11h-8zM150,-2h11v8h-11zM60,63h7v6h-7zM91,72h9v7h-9zM46,211h12v12h-12zM22,152h11v11h-11zM50,486h6v4h-6zM42,442h6v5h-6zM37,246h7v9h-7zM19,560h12v8h-12z" fill="#9a9d99"/>
<path d="M20,545h4v9h-4zM35,513h6v10h-6zM1,291h8v9h-8zM61,656h5v6h-5zM54,694h6v10h-6zM40,124h10v9h-10zM14,318h7v6h-7zM65,120h11v8h-11zM-1,419h9v6h-9zM30,80h9v12h-9zM71,675h10v12h-10zM2,34h9v12h-9zM80,656h6v10h-6zM26,289h11v9h-11zM6,177h9v6h-9zM0,234h9v9h-9zM54,524h7v6h-7zM6,338h5v7h-5zM81,23h8v6h-8zM71,699h5v6h-5zM30,262h11v6h-11zM68,512h6v7h-6zM2,44h8v9h-8zM89,764h8v10h-8zM70,688h8v11h-8zM105,57h7v6h-7zM17,209h7v6h-7zM58,216h7v6h-7zM16,211h7v9h-7zM27,734h8v10h-8zM12,461h9v8h-9zM30,659h10v6h-10zM64,632h6v9h-6zM28,392h10v11h-10zM54,102h11v5h-11zM-1,476h4v8h-4zM22,352h10v6h-10zM45,379h11v11h-11zM10,335h11v11h-11zM13,240h5v9h-5zM66,494h6v4h-6zM25,286h7v7h-7zM108,27h11v6h-11zM18,589h10v6h-10zM63,453h6v5h-6z" fill="#b5c5bc"/>
<path d="M72,623h8v8h-8zM13,248h7v11h-7zM9,420h9v8h-9zM-6,398h10v7h-10zM84,744h6v5h-6zM-3,16h10v11h-10zM23,85h9v6h-9zM70,139h7v10h-7zM21,385h11v5h-11zM32,225h9v8h-9zM37,717h7v9h-7zM65,108h5v7h-5zM5,549h6v10h-6zM58,654h4v8h-4zM85,93h5v6h-5zM57,136h5v8h-5zM36,405h4v12h-4zM36,456h7v6h-7z" fill="#2a3533"/>
<path d="M5,721h12v12h-12zM104,28h8v12h-8zM45,459h7v10h-7zM50,26h12v11h-12zM0,108h9v6h-9zM57,88h10v6h-10zM38,486h6v4h-6zM15,166h10v8h-10zM56,330h8v10h-8zM89,748h11v9h-11zM14,138h10v6h-10zM15,302h5v5h-5zM33,110h6v7h-6zM58,647h8v9h-8zM45,480h7v8h-7zM12,423h8v9h-8zM28,379h10v7h-10zM51,563h9v10h-9zM75,35h6v9h-6zM57,403h12v9h-12zM77,576h10v6h-10zM13,339h12v7h-12zM3,154h8v10h-8z" fill="#8d7c66"/>
<path d="M94,778h6v7h-6zM42,394h10v9h-10zM88,64h8v10h-8zM12,283h6v6h-6zM38,450h5v9h-5zM57,542h11v10h-11zM74,553h6v7h-6zM122,763h8v11h-8zM93,30h6v5h-6zM49,434h11v9h-11zM1,157h6v12h-6zM84,635h7v11h-7zM84,14h4v6h-4zM1,551h4v6h-4zM61,638h6v5h-6zM59,652h5v5h-5zM26,266h10v5h-10zM50,282h6v12h-6zM62,640h7v11h-7zM59,724h11v7h-11zM3,375h9v6h-9zM71,26h6v6h-6zM32,544h8v10h-8zM34,338h7v7h-7zM2,554h8v9h-8z" fill="#5aae8a"/>
<path d="M70,770h12v11h-12zM94,649h4v8h-4zM73,617h11v11h-11zM45,618h4v10h-4zM95,781h8v10h-8zM69,685h9v10h-9zM132,747h6v5h-6zM31,502h12v11h-12zM35,133h7v8h-7zM-7,139h11v9h-11zM113,725h11v11h-11zM60,104h9v12h-9zM12,327h7v11h-7z" fill="#323e3a"/>
<g fill="none" stroke="#bcbfba"><path d="M7.8,-7.8C9.4,6.5 14.4,47.4 17.5,77.9C20.6,108.4 23.7,142.9 26.5,175.4C29.3,207.9 31.9,240.3 34.3,272.8C36.7,305.3 38.5,337.7 40.9,370.2C43.3,402.7 45.8,435.2 48.7,467.7C51.6,500.2 54.9,535.9 58.5,565.1C62.1,594.3 65.0,618.3 70.1,643C75.2,667.7 82.1,687.9 88.9,713.2C95.7,738.5 107.4,781.4 111.1,795" stroke-width="5.5"/>
<path d="M166.5,-7.8C163.9,-3.9 158.1,7.2 150.9,15.6C143.8,24.0 132.0,31.9 123.6,42.9C115.1,53.9 106.4,67.5 100.2,81.8C94.0,96.1 91.1,113.0 86.6,128.6C82.0,144.2 77.1,160.5 72.9,175.4C68.7,190.3 63.4,202.0 61.3,218.2C59.2,234.4 60.4,250.7 60.5,272.8C60.6,294.9 61.1,324.7 62,350.7C62.9,376.7 64.2,406.0 65.9,428.7C67.6,451.4 70.2,467.6 72.2,487.1C74.2,506.6 75.6,526.1 77.6,545.6C79.5,565.1 80.9,585.9 83.9,604.1C86.9,622.3 90.8,639.8 95.5,654.7C100.2,669.6 105.3,680.7 111.9,693.7C118.5,706.7 129.8,721.0 135.3,732.7C140.8,744.4 143.7,753.4 145,763.8C146.3,774.2 143.4,789.8 143.1,795" stroke-width="4.5"/>
<path d="M5.8,506.6C6.4,526.1 8.4,587.8 9.7,623.5C11.0,659.2 12.6,692.4 13.6,721C14.6,749.6 15.3,782.7 15.6,795" stroke-width="4"/>
<path d="M0,212L68,211M0,366L68,367M0,462L74,463M0,563L84,561M0,663L104,666" stroke-width="3.2"/></g>
</g>
</g>
<g transform="translate(1445,1806)" clip-path="url(#pc2)">
<rect x="-10" y="-10" width="424" height="806" fill="url(#sea2)"/>
<path d="M-80,-60 L257.2,-23.4 257.2,-23.4C261.1,-0.0 274.1,74.0 280.6,116.9C287.1,159.8 292.3,188.3 296.2,233.8C300.1,279.3 303.4,337.7 304,389.7C304.6,441.7 302.1,500.1 300.1,545.6C298.2,591.1 295.6,630.0 292.3,662.5C289.1,695.0 284.5,715.8 280.6,740.5C276.7,765.2 270.8,798.9 268.9,810.6 L-80,846 Z" fill="#143f55" filter="url(#b40)"/>
<path d="M-60,-40 L233.8,-15.6 233.8,-15.6C233.2,6.5 235.1,81.8 229.9,116.9C224.7,152.0 210.5,162.4 202.7,194.9C194.9,227.4 186.4,272.8 183.2,311.8C179.9,350.8 182.5,389.7 183.2,428.7C183.8,467.7 185.1,506.6 187.1,545.6C189.1,584.6 191.0,630.0 194.9,662.5C198.8,695.0 205.2,715.8 210.4,740.5C215.6,765.2 223.4,798.9 226,810.6 L-60,846 Z" fill="#1a4d60" filter="url(#b28)"/>
<path d="M187.1,736.6C182.6,734.0 167.6,728.1 159.8,721C152.0,713.9 146.2,704.8 140.3,693.7C134.5,682.7 129.2,669.6 124.7,654.7C120.2,639.8 116.2,622.3 113,604.1C109.8,585.9 107.2,565.1 105.2,545.6C103.2,526.1 102.6,506.6 101.3,487.1C100.0,467.6 98.7,448.2 97.4,428.7C96.1,409.2 93.8,389.7 93.5,370.2C93.2,350.7 94.8,331.3 95.5,311.8C96.2,292.3 96.1,272.8 97.4,253.3C98.7,233.8 100.4,212.4 103.3,194.9C106.2,177.4 110.1,162.4 115,148.1C119.9,133.8 125.7,121.1 132.5,109.1C139.3,97.1 146.8,85.1 155.9,76C165.0,66.9 176.7,58.8 187.1,54.6C197.5,50.4 207.2,50.1 218.2,50.7C229.2,51.4 247.5,57.2 253.3,58.5" fill="none" stroke="#ffffff" stroke-width="16" opacity="0.8" filter="url(#b6)"/>
<g filter="url(#foam)"><rect x="0" y="0" width="404" height="786" fill="none"/><path d="M109.1,128.6C117.9,116.9 146.2,111.1 155.9,116.9C165.7,122.8 166.3,149.4 167.6,163.7C168.9,178.0 170.2,194.9 163.7,202.7C157.2,210.5 138.7,213.0 128.6,210.4C118.5,207.8 106.5,200.7 103.3,187.1C100.0,173.5 100.3,140.3 109.1,128.6Z" fill="#eef4f3" opacity="0.36"/>
<path d="M101.3,226C107.1,205.2 126.0,210.4 132.5,218.2C139.0,226.0 141.0,250.7 140.3,272.8C139.7,294.9 135.8,339.0 128.6,350.7C121.4,362.4 102.0,363.7 97.4,342.9C92.9,322.1 95.5,246.8 101.3,226Z" fill="#eef4f3" opacity="0.47"/>
<path d="M136.4,226C140.3,218.2 150.7,237.7 155.9,249.4C161.1,261.1 163.1,283.2 167.6,296.2C172.1,309.2 183.8,315.1 183.2,327.4C182.5,339.7 171.5,366.3 163.7,370.2C155.9,374.1 141.6,363.0 136.4,350.7C131.2,338.4 132.5,317.0 132.5,296.2C132.5,275.4 132.5,233.8 136.4,226Z" fill="#eef4f3" opacity="0.74"/>
<path d="M90.4,350.7C93.5,342.9 106.7,350.7 111.1,362.4C115.5,374.1 118.2,403.3 116.9,420.9C115.6,438.4 107.3,469.6 103.3,467.7C99.3,465.8 94.9,428.7 92.8,409.2C90.7,389.7 87.4,358.5 90.4,350.7Z" fill="#eef4f3" opacity="0.81"/>
<path d="M153.9,393.6C159.4,383.9 176.4,383.9 183.2,389.7C190.0,395.5 191.3,413.8 194.9,428.7C198.5,443.6 201.7,467.0 204.6,479.3C207.5,491.6 220.5,498.1 212.4,502.7C204.3,507.2 166.3,515.7 155.9,506.6C145.5,497.5 150.3,467.0 150,448.2C149.7,429.4 148.4,403.4 153.9,393.6Z" fill="#eef4f3" opacity="0.76"/>
<path d="M116.9,479.3C122.8,477.4 146.8,483.2 152,487.1C157.2,491.0 153.9,500.8 148.1,502.7C142.2,504.6 122.1,502.7 116.9,498.8C111.7,494.9 111.1,481.2 116.9,479.3Z" fill="#eef4f3" opacity="0.47"/>
<path d="M99.4,479.3C101.4,471.5 114.0,493.0 116.9,506.6C119.8,520.2 118.9,553.4 116.9,561.2C115.0,569.0 108.1,567.0 105.2,553.4C102.3,539.8 97.5,487.1 99.4,479.3Z" fill="#eef4f3" opacity="0.71"/>
<path d="M212.4,532C216.9,525.5 234.8,525.1 237.7,530C240.6,534.9 234.4,554.7 229.9,561.2C225.4,567.7 213.3,573.9 210.4,569C207.5,564.1 207.9,538.5 212.4,532Z" fill="#eef4f3" opacity="0.81"/>
<path d="M171.5,561.2C178.0,558.0 204.6,561.2 210.4,565.1C216.2,569.0 213.0,581.4 206.5,584.6C200.0,587.9 177.3,588.5 171.5,584.6C165.7,580.7 165.0,564.5 171.5,561.2Z" fill="#eef4f3" opacity="0.62"/>
<path d="M105.2,565.1C108.3,558.6 120.5,568.4 124.7,584.6C128.9,600.8 131.9,647.6 130.6,662.5C129.3,677.4 121.0,680.7 116.9,674.2C112.8,667.7 108.0,641.7 106,623.5C104.0,605.3 102.1,571.6 105.2,565.1Z" fill="#eef4f3" opacity="0.71"/>
<path d="M116.9,674.2C117.6,669.7 131.2,678.1 136.4,685.9C141.6,693.7 148.8,716.5 148.1,721C147.4,725.5 137.7,721.0 132.5,713.2C127.3,705.4 116.2,678.8 116.9,674.2Z" fill="#eef4f3" opacity="0.57"/>
<path d="M163.7,689.8C172.8,682.0 201.3,674.2 210.4,678.1C219.5,682.0 222.1,704.1 218.2,713.2C214.3,722.3 197.5,730.8 187.1,732.7C176.7,734.7 159.8,732.0 155.9,724.9C152.0,717.8 154.6,697.6 163.7,689.8Z" fill="#eef4f3" opacity="0.57"/>
<path d="M194.9,763.8C200.1,758.2 219.5,748.5 226,752.1C232.5,755.8 239.0,780.1 233.8,785.7C228.6,791.3 201.4,789.4 194.9,785.7C188.4,782.1 189.7,769.4 194.9,763.8Z" fill="#eef4f3" opacity="0.57"/>
<path d="M272.8,11.7C281.9,1.9 313.8,-0.0 323.5,3.9C333.2,7.8 335.2,26.0 331.3,35.1C327.4,44.2 309.9,47.5 300.1,58.5C290.4,69.5 279.3,91.6 272.8,101.3C266.3,111.0 261.8,123.4 261.1,116.9C260.5,110.4 266.9,79.9 268.9,62.4C270.8,44.9 263.7,21.4 272.8,11.7Z" fill="#eef4f3" opacity="0.47"/></g>

<g filter="url(#b1)">
<path d="M171.5,-7.8C168.9,-3.9 163.1,7.2 155.9,15.6C148.8,24.0 136.7,31.9 128.6,42.9C120.5,53.9 113.0,67.5 107.2,81.8C101.4,96.1 98.0,113.0 93.5,128.6C89.0,144.2 85.1,161.1 79.9,175.4C74.7,189.7 65.3,198.1 62.4,214.3C59.5,230.5 61.8,250.1 62.4,272.8C63.0,295.5 64.7,324.7 66.3,350.7C67.9,376.7 69.8,406.0 72.1,428.7C74.4,451.4 77.6,467.6 79.9,487.1C82.2,506.6 83.4,526.1 85.7,545.6C88.0,565.1 90.2,585.9 93.5,604.1C96.8,622.3 100.7,639.8 105.2,654.7C109.8,669.6 114.6,680.7 120.8,693.7C127.0,706.7 137.3,721.0 142.2,732.7C147.1,744.4 149.0,753.4 150,763.8C151.0,774.2 148.4,789.8 148.1,795 L194.9,795C196.2,787.9 204.0,761.8 202.7,752.1C201.4,742.4 194.2,741.8 187.1,736.6C179.9,731.4 167.6,728.1 159.8,721C152.0,713.9 146.2,704.8 140.3,693.7C134.5,682.7 129.2,669.6 124.7,654.7C120.2,639.8 116.2,622.3 113,604.1C109.8,585.9 107.2,565.1 105.2,545.6C103.2,526.1 102.6,506.6 101.3,487.1C100.0,467.6 98.7,448.2 97.4,428.7C96.1,409.2 93.8,389.7 93.5,370.2C93.2,350.7 94.8,331.3 95.5,311.8C96.2,292.3 96.1,272.8 97.4,253.3C98.7,233.8 100.4,212.4 103.3,194.9C106.2,177.4 110.1,162.4 115,148.1C119.9,133.8 125.7,121.1 132.5,109.1C139.3,97.1 146.8,85.1 155.9,76C165.0,66.9 176.7,58.8 187.1,54.6C197.5,50.4 207.2,50.1 218.2,50.7C229.2,51.4 244.9,59.8 253.3,58.5C261.8,57.2 264.3,48.8 268.9,42.9C273.4,37.0 278.7,31.8 280.6,23.4C282.6,14.9 280.6,-2.6 280.6,-7.8Z" fill="#c9b592"/>
<path d="M282.5,0C286.1,-6.2 305.9,-3.9 311.8,0C317.7,3.9 317.3,15.6 317.6,23.4C317.9,31.2 316.6,41.6 313.7,46.8C310.8,52.0 304.0,56.2 300.1,54.6C296.2,53.0 293.2,46.1 290.3,37C287.4,27.9 278.9,6.2 282.5,0Z" fill="#8d8f86"/>
<path d="M228,0C235.2,-2.6 265.3,-2.9 272.8,0C280.3,2.9 279.9,14.9 272.8,17.5C265.7,20.1 237.4,18.5 229.9,15.6C222.4,12.7 220.8,2.6 228,0Z" fill="#6f7672"/>
<rect x="242" y="19" width="21" height="10" fill="#58a886"/>
<path d="M272.8,42.9C277.4,38.4 288.1,29.9 292.3,31.2C296.5,32.5 300.7,41.0 298.1,50.7C295.5,60.4 283.2,79.2 276.7,89.6C270.2,100.0 264.4,108.3 259.2,113C254.0,117.7 249.4,118.4 245.5,117.7C241.6,117.0 235.2,114.8 235.8,109.1C236.5,103.4 244.5,92.2 249.4,83.8C254.3,75.4 261.1,65.3 265,58.5C268.9,51.7 268.2,47.4 272.8,42.9Z" fill="#b9b9b0" stroke="#6e736e" stroke-width="2"/>
<path d="M183.2,734.6C183.8,728.8 196.2,722.6 202.7,721C209.2,719.4 216.9,721.0 222.1,724.9C227.3,728.8 232.8,737.2 233.8,744.3C234.8,751.4 230.6,759.2 228,767.7C225.4,776.2 225.7,790.5 218.2,795C210.7,799.5 186.4,801.5 183.2,795C180.0,788.5 198.8,766.1 198.8,756C198.8,745.9 182.5,740.4 183.2,734.6Z" fill="#a69f8c"/>
</g>
<g filter="url(#b1u)">
<path d="M171.5,-7.8C168.9,-3.9 163.1,7.2 155.9,15.6C148.8,24.0 136.7,31.9 128.6,42.9C120.5,53.9 113.0,67.5 107.2,81.8C101.4,96.1 98.0,113.0 93.5,128.6C89.0,144.2 85.1,161.1 79.9,175.4C74.7,189.7 65.3,198.1 62.4,214.3C59.5,230.5 61.8,250.1 62.4,272.8C63.0,295.5 64.7,324.7 66.3,350.7C67.9,376.7 69.8,406.0 72.1,428.7C74.4,451.4 77.6,467.6 79.9,487.1C82.2,506.6 83.4,526.1 85.7,545.6C88.0,565.1 90.2,585.9 93.5,604.1C96.8,622.3 100.7,639.8 105.2,654.7C109.8,669.6 114.6,680.7 120.8,693.7C127.0,706.7 137.3,721.0 142.2,732.7C147.1,744.4 149.0,753.4 150,763.8C151.0,774.2 148.4,789.8 148.1,795 L-5,796 L-5,-10 Z" fill="#929d98"/>
<path d="M32,405h30v29h-30zM15,694h19v25h-19z" fill="#9a9484"/>
<path d="M11,195h16v22h-16zM35,386h20v24h-20zM-12,674h33v28h-33zM25,272h25v14h-25zM35,562h19v24h-19zM26,328h21v16h-21z" fill="#97a29c"/>
<path d="M-6,449h15v20h-15zM-10,527h24v27h-24zM20,213h27v19h-27zM1,253h18v18h-18z" fill="#5a6a60"/>
<path d="M24,112h26v12h-26zM-0,556h32v24h-32zM7,394h28v19h-28zM79,685h17v24h-17zM12,642h23v19h-23zM19,302h30v13h-30z" fill="#45564d"/>
<path d="M-8,-2h20v16h-20zM86,741h24v17h-24zM62,723h18v24h-18z" fill="#3c4a44"/>
<path d="M-6,501h33v26h-33zM15,566h18v20h-18zM44,391h19v16h-19z" fill="#a9b0ab"/>
<path d="M58,502h27v24h-27zM15,507h16v25h-16z" fill="#4a5754"/>
<path d="M2,327h32v14h-32zM-6,232h31v20h-31zM68,118h19v16h-19z" fill="#66736d"/>
<path d="M-8,261h29v16h-29z" fill="#7d7a6c"/>
<path d="M35,699h12v10h-12zM39,219h4v9h-4zM58,689h8v8h-8zM49,55h9v5h-9zM-1,451h10v9h-10zM44,286h5v6h-5zM41,729h6v8h-6zM5,231h6v8h-6zM45,215h7v10h-7zM43,204h10v11h-10z" fill="#323e3a"/>
<path d="M92,705h7v11h-7zM31,136h6v5h-6zM27,545h12v7h-12zM28,461h11v5h-11zM54,211h4v7h-4zM76,110h11v5h-11zM45,398h8v10h-8zM13,670h11v8h-11zM14,303h7v8h-7zM37,314h6v7h-6zM13,440h9v7h-9zM29,254h9v4h-9zM63,634h10v5h-10zM54,635h6v9h-6zM67,116h11v9h-11zM99,682h5v5h-5zM73,626h5v11h-5zM55,494h11v6h-11zM2,329h7v7h-7zM0,393h4v12h-4zM33,350h7v10h-7zM52,299h11v10h-11zM136,767h8v11h-8zM10,258h10v5h-10zM-1,277h10v12h-10zM51,158h9v6h-9zM-5,632h10v11h-10zM26,24h10v9h-10zM46,230h10v12h-10zM5,2h5v10h-5zM10,18h8v6h-8zM97,738h6v7h-6zM17,380h8v7h-8zM23,661h12v10h-12zM41,648h11v7h-11zM77,551h10v11h-10zM3,264h11v4h-11zM46,256h8v12h-8zM39,487h9v11h-9zM3,499h10v7h-10z" fill="#c0c4bf"/>
<path d="M93,38h6v5h-6zM-0,397h12v8h-12zM-5,610h7v10h-7zM12,95h7v11h-7zM25,407h8v9h-8zM34,254h6v5h-6zM1,112h6v9h-6zM18,422h5v9h-5zM40,558h7v10h-7zM51,102h6v10h-6zM34,522h5v11h-5zM64,606h5v10h-5zM40,326h10v4h-10zM64,634h7v11h-7zM16,413h11v5h-11zM48,190h6v6h-6zM10,755h7v6h-7zM-3,721h6v5h-6zM28,517h8v10h-8zM13,585h10v6h-10zM28,306h11v12h-11zM60,769h10v11h-10zM15,483h7v9h-7z" fill="#cf4a45"/>
<path d="M37,302h6v10h-6zM24,742h11v9h-11zM15,367h11v7h-11zM33,216h10v7h-10zM28,553h7v8h-7zM63,709h8v7h-8zM49,730h6v9h-6zM60,62h6v7h-6zM31,762h5v8h-5zM87,766h5v4h-5zM22,96h6v7h-6zM48,256h9v8h-9z" fill="#3a4545"/>
<path d="M142,780h5v8h-5zM2,287h9v12h-9zM71,52h10v9h-10zM2,222h6v10h-6zM50,451h12v5h-12zM48,330h11v7h-11zM45,549h6v7h-6zM-5,539h10v7h-10zM95,737h5v12h-5zM7,698h8v9h-8zM37,190h5v10h-5zM32,376h10v10h-10zM37,388h4v9h-4zM80,45h9v8h-9zM61,191h8v8h-8zM50,470h12v9h-12zM30,-1h10v9h-10zM50,292h9v10h-9zM25,341h4v5h-4zM17,365h10v7h-10zM105,729h11v8h-11zM9,192h9v10h-9zM66,102h11v10h-11zM64,771h6v6h-6zM60,651h6v4h-6zM30,507h10v10h-10zM61,134h6v6h-6zM13,570h9v12h-9zM2,43h5v6h-5zM112,695h7v8h-7zM35,504h11v12h-11zM3,277h9v11h-9zM11,746h5v8h-5zM67,460h6v11h-6zM16,641h9v9h-9zM33,370h10v7h-10zM49,400h11v4h-11zM38,625h5v8h-5z" fill="#b5c5bc"/>
<path d="M31,122h9v9h-9zM20,775h6v12h-6zM40,433h8v6h-8zM33,223h11v7h-11zM17,468h12v5h-12zM5,773h5v9h-5zM-1,234h9v10h-9zM-1,265h11v6h-11zM16,390h8v6h-8zM4,497h8v11h-8zM50,630h11v8h-11zM51,437h5v4h-5zM83,716h4v7h-4zM3,555h8v12h-8zM13,258h4v5h-4zM14,345h11v10h-11zM36,782h6v8h-6zM55,24h5v11h-5zM124,11h9v10h-9zM30,449h7v9h-7zM4,173h11v8h-11zM43,23h4v8h-4zM127,777h6v9h-6zM25,295h10v8h-10zM22,305h6v10h-6zM52,552h5v5h-5zM29,555h10v8h-10zM96,691h7v10h-7zM17,453h11v11h-11zM26,562h9v11h-9zM44,160h6v5h-6zM98,671h8v9h-8zM14,389h8v9h-8z" fill="#9a9d99"/>
<path d="M37,112h9v4h-9zM48,404h10v7h-10zM12,477h5v9h-5zM63,575h11v10h-11zM19,149h5v9h-5zM99,755h9v8h-9zM29,329h4v4h-4zM29,668h6v6h-6zM56,342h7v9h-7zM24,275h10v8h-10zM68,468h9v10h-9zM71,532h11v8h-11zM63,173h8v8h-8zM46,204h10v8h-10zM33,352h8v8h-8z" fill="#2a3533"/>
<path d="M74,532h7v9h-7zM26,324h11v11h-11zM45,388h6v11h-6zM30,383h5v10h-5zM13,603h12v7h-12zM1,381h6v5h-6zM59,28h7v11h-7zM61,537h6v11h-6zM28,166h7v10h-7zM-3,603h8v12h-8zM8,379h10v6h-10zM20,769h7v9h-7zM52,368h6v8h-6zM57,712h4v9h-4zM34,455h10v9h-10zM80,710h7v10h-7zM78,587h5v12h-5zM17,123h5v5h-5zM63,35h6v6h-6zM42,587h12v9h-12zM37,414h9v6h-9zM-3,329h11v10h-11zM27,143h8v12h-8zM97,686h7v8h-7zM116,772h12v10h-12zM-3,208h7v7h-7zM42,458h8v5h-8zM42,453h7v10h-7zM82,773h12v9h-12zM-2,450h12v4h-12zM45,205h10v9h-10zM44,473h10v8h-10zM28,238h6v9h-6z" fill="#4f8fd8"/>
<path d="M16,286h9v12h-9zM-4,422h5v4h-5zM51,146h8v5h-8zM94,780h10v10h-10zM34,374h6v10h-6zM21,142h6v6h-6zM111,-3h10v11h-10zM55,663h10v7h-10zM32,405h12v10h-12zM3,665h6v5h-6zM23,591h6v7h-6zM45,475h10v7h-10zM41,432h10v8h-10zM48,96h7v12h-7zM30,68h6v5h-6zM3,203h5v7h-5zM17,716h8v8h-8zM1,40h6v5h-6zM2,91h11v9h-11zM36,662h7v5h-7zM58,411h6v10h-6z" fill="#b5a58a"/>
<path d="M111,716h9v6h-9zM-6,412h9v8h-9zM42,609h8v9h-8zM16,130h7v4h-7zM112,26h10v6h-10zM25,237h7v9h-7zM-0,334h11v11h-11zM7,737h11v10h-11zM74,45h8v10h-8zM79,751h9v9h-9zM15,624h5v7h-5zM27,763h5v5h-5zM128,746h12v7h-12zM2,767h6v6h-6zM47,565h6v9h-6zM74,592h8v7h-8zM20,651h6v5h-6zM15,185h5v11h-5zM60,586h12v12h-12zM28,679h9v8h-9zM41,361h8v5h-8zM-3,194h4v10h-4zM-5,199h6v5h-6zM60,81h4v7h-4zM-5,376h8v8h-8zM-3,416h10v5h-10zM0,230h6v11h-6zM32,95h7v10h-7zM-5,519h8v8h-8zM69,477h9v10h-9zM29,36h5v8h-5zM21,434h9v9h-9zM78,761h8v5h-8zM-6,8h10v5h-10zM28,198h9v6h-9zM79,668h7v10h-7z" fill="#d8dad5"/>
<path d="M23,-1h5v6h-5zM74,620h10v7h-10zM0,450h10v4h-10zM-7,108h10v9h-10zM65,726h11v10h-11zM14,275h11v6h-11zM23,541h9v6h-9zM32,182h9v8h-9zM75,592h11v11h-11zM35,758h12v8h-12zM71,495h5v11h-5zM5,571h10v10h-10zM50,214h10v7h-10zM33,315h10v6h-10zM43,243h12v6h-12zM31,211h5v12h-5zM-1,691h5v8h-5zM102,726h10v4h-10zM39,234h9v10h-9zM10,230h11v5h-11zM1,62h5v7h-5zM17,664h8v10h-8zM98,752h6v10h-6zM3,301h11v9h-11zM55,583h10v9h-10zM17,516h4v4h-4zM11,421h8v6h-8zM49,372h7v11h-7z" fill="#6ab0d8"/>
<path d="M106,749h6v6h-6zM113,751h9v6h-9zM54,203h7v6h-7zM36,582h9v6h-9zM-5,662h12v5h-12zM49,541h7v8h-7zM77,634h12v6h-12zM-3,632h5v5h-5zM61,709h10v7h-10zM60,167h11v10h-11zM125,744h9v6h-9z" fill="#252e2b"/>
<path d="M41,157h6v9h-6zM81,694h6v12h-6zM31,319h9v6h-9zM56,1h9v5h-9zM37,660h12v4h-12zM67,120h9v4h-9zM31,659h8v12h-8zM133,-3h11v8h-11zM84,121h9v9h-9zM10,58h5v4h-5zM54,629h12v12h-12zM59,385h6v6h-6zM72,77h5v8h-5zM26,290h10v10h-10zM13,404h11v7h-11zM38,291h7v9h-7zM2,638h9v4h-9zM31,495h5v12h-5zM17,738h8v6h-8zM54,14h5v4h-5z" fill="#2f5fae"/>
<path d="M87,644h10v10h-10zM15,354h8v10h-8zM37,394h6v8h-6zM26,308h10v6h-10zM79,563h8v11h-8zM51,325h7v7h-7zM133,5h8v6h-8zM25,712h7v5h-7zM5,6h4v6h-4zM-3,20h8v5h-8zM-0,413h7v11h-7zM45,132h11v5h-11zM9,655h6v6h-6zM26,117h10v6h-10zM5,214h11v7h-11zM114,752h12v8h-12zM-4,630h6v10h-6zM53,140h9v8h-9zM-0,706h6v6h-6zM44,133h8v6h-8zM21,674h4v9h-4zM52,400h8v10h-8zM39,142h9v12h-9z" fill="#7f837f"/>
<path d="M50,620h11v10h-11zM21,687h6v6h-6zM36,268h7v11h-7zM19,65h6v6h-6zM13,87h9v5h-9zM45,683h7v10h-7zM102,49h5v5h-5zM-4,98h11v8h-11zM28,355h5v7h-5zM51,681h11v6h-11zM31,290h8v12h-8zM30,754h8v5h-8zM18,333h9v6h-9zM4,331h7v11h-7zM47,615h12v4h-12zM8,435h6v9h-6zM19,735h10v7h-10zM18,355h11v8h-11z" fill="#3b70c4"/>
<path d="M75,582h8v8h-8zM97,25h6v9h-6zM17,588h11v7h-11zM39,375h10v8h-10zM31,447h11v6h-11zM59,193h4v7h-4zM21,282h8v10h-8zM53,654h4v12h-4zM89,728h11v7h-11zM79,691h5v6h-5zM51,760h5v6h-5zM41,670h7v8h-7zM33,438h9v5h-9zM46,769h11v8h-11zM60,392h7v5h-7zM20,260h11v6h-11zM-3,498h5v6h-5z" fill="#4a9a7a"/>
<path d="M38,561h7v4h-7zM135,4h12v9h-12zM4,307h6v10h-6zM25,594h12v9h-12zM44,587h5v4h-5zM3,175h11v9h-11zM51,249h6v5h-6zM36,45h9v11h-9zM53,439h7v9h-7zM83,4h9v8h-9zM85,700h6v6h-6zM74,524h8v8h-8zM5,694h5v11h-5zM48,460h11v11h-11zM43,598h7v4h-7zM44,293h6v9h-6zM44,274h8v6h-8zM17,238h9v12h-9zM-7,732h10v8h-10zM57,440h7v10h-7zM58,167h9v5h-9zM20,372h12v8h-12zM70,132h6v11h-6zM61,194h4v6h-4zM22,273h6v8h-6zM44,133h9v9h-9zM52,339h6v5h-6z" fill="#8d7c66"/>
<path d="M62,65h7v6h-7zM14,245h4v12h-4zM53,754h8v8h-8zM65,158h8v7h-8zM33,400h6v7h-6zM87,653h9v8h-9zM126,751h4v11h-4zM41,735h6v8h-6zM67,159h4v4h-4zM12,700h8v6h-8zM41,496h9v8h-9zM59,770h10v9h-10zM63,99h9v7h-9zM67,673h9v7h-9zM5,336h11v10h-11zM58,643h8v5h-8zM49,85h10v9h-10z" fill="#3e4b47"/>
<path d="M0,578h7v8h-7zM25,289h10v8h-10zM10,489h5v7h-5zM-1,225h9v8h-9zM2,353h11v11h-11zM35,278h8v9h-8zM70,671h7v7h-7zM23,24h7v4h-7zM42,1h5v11h-5zM39,412h12v11h-12zM57,81h4v8h-4zM21,343h8v10h-8zM7,320h11v8h-11zM75,626h12v6h-12zM26,564h9v5h-9zM41,377h8v7h-8zM52,456h12v7h-12zM-2,398h11v11h-11zM12,540h12v6h-12zM38,114h8v7h-8zM45,283h6v10h-6zM-1,339h8v4h-8zM33,586h12v11h-12zM46,308h11v8h-11zM45,500h4v10h-4zM29,266h7v8h-7zM25,450h12v11h-12zM53,523h6v4h-6zM37,300h5v11h-5zM39,479h10v6h-10zM76,644h10v6h-10zM11,450h5v5h-5zM-1,255h11v6h-11zM60,776h9v7h-9zM57,617h8v8h-8zM2,663h5v8h-5z" fill="#cfd2cd"/>
<path d="M8,473h9v5h-9zM2,256h9v9h-9zM105,699h4v6h-4zM96,779h7v5h-7zM31,323h7v11h-7zM64,692h5v5h-5zM35,604h5v10h-5zM33,424h5v8h-5zM66,117h11v10h-11zM75,649h4v9h-4zM18,118h7v5h-7zM63,626h7v12h-7zM23,462h7v5h-7zM9,596h7v11h-7zM5,438h5v9h-5zM59,368h5v4h-5zM98,756h6v12h-6zM-4,530h10v8h-10zM-2,140h7v8h-7zM47,594h10v9h-10zM23,311h11v5h-11z" fill="#c9ccc8"/>
<path d="M31,366h7v12h-7zM52,355h11v10h-11zM9,439h12v10h-12zM40,413h6v11h-6zM31,276h4v7h-4zM59,141h7v8h-7zM89,735h10v11h-10zM15,534h10v11h-10zM80,123h7v10h-7zM87,105h10v7h-10zM52,688h6v7h-6zM24,7h7v8h-7zM66,515h8v7h-8zM72,734h7v11h-7zM69,705h6v10h-6zM41,458h6v9h-6zM63,389h5v9h-5zM39,413h11v12h-11zM1,503h9v7h-9zM10,526h9v7h-9z" fill="#5aae8a"/>
<path d="M33,398h6v10h-6zM6,692h4v8h-4zM26,490h11v4h-11zM10,124h9v11h-9zM119,749h7v9h-7zM19,85h12v9h-12zM48,721h10v5h-10zM3,264h8v5h-8zM19,13h9v5h-9zM25,164h10v4h-10zM52,514h10v11h-10zM32,27h8v10h-8zM56,418h6v10h-6zM10,213h12v11h-12zM74,611h11v7h-11zM15,348h12v9h-12zM25,202h7v5h-7zM0,297h7v8h-7zM39,455h10v5h-10zM64,57h8v8h-8zM-1,101h7v4h-7z" fill="#3f8d6e"/>
<path d="M28,497h10v7h-10zM32,33h10v11h-10zM1,564h8v10h-8zM14,107h11v5h-11zM38,405h8v8h-8zM-2,62h12v8h-12zM93,694h9v10h-9zM80,632h10v7h-10zM8,156h9v7h-9zM66,781h10v8h-10zM59,32h6v9h-6zM-2,286h10v9h-10zM104,7h4v7h-4zM47,70h12v7h-12zM52,316h9v10h-9zM92,705h4v7h-4zM125,775h9v9h-9zM8,25h6v9h-6zM8,688h8v5h-8zM24,367h7v10h-7zM92,103h6v5h-6zM8,651h7v7h-7zM8,193h12v7h-12zM24,225h8v6h-8z" fill="#2f3b34"/>
<path d="M62,567h4v12h-4zM-6,358h10v8h-10zM106,685h10v4h-10zM-2,332h9v8h-9zM27,739h11v7h-11zM55,237h5v8h-5zM-1,691h7v7h-7zM98,672h9v11h-9zM41,132h8v10h-8zM56,37h6v5h-6zM18,487h5v10h-5zM76,624h10v4h-10zM36,330h11v11h-11zM68,643h10v11h-10zM42,217h6v8h-6zM41,350h11v9h-11z" fill="#e2e3df"/>
<g fill="none" stroke="#b8bbb6"><path d="M7.8,-7.8C9.4,6.5 14.4,47.4 17.5,77.9C20.6,108.4 23.7,142.9 26.5,175.4C29.3,207.9 31.9,240.3 34.3,272.8C36.7,305.3 38.5,337.7 40.9,370.2C43.3,402.7 45.8,435.2 48.7,467.7C51.6,500.2 54.9,535.9 58.5,565.1C62.1,594.3 65.0,618.3 70.1,643C75.2,667.7 82.1,687.9 88.9,713.2C95.7,738.5 107.4,781.4 111.1,795" stroke-width="5.5"/>
<path d="M166.5,-7.8C163.9,-3.9 158.1,7.2 150.9,15.6C143.8,24.0 131.7,31.9 123.6,42.9C115.5,53.9 108.0,67.5 102.2,81.8C96.4,96.1 93.0,113.0 88.5,128.6C84.0,144.2 80.1,161.1 74.9,175.4C69.7,189.7 60.3,198.1 57.4,214.3C54.5,230.5 56.8,250.1 57.4,272.8C58.0,295.5 59.7,324.7 61.3,350.7C62.9,376.7 64.8,406.0 67.1,428.7C69.4,451.4 72.6,467.6 74.9,487.1C77.2,506.6 78.4,526.1 80.7,545.6C83.0,565.1 85.2,585.9 88.5,604.1C91.8,622.3 95.7,639.8 100.2,654.7C104.8,669.6 109.6,680.7 115.8,693.7C122.0,706.7 132.3,721.0 137.2,732.7C142.1,744.4 144.0,753.4 145,763.8C146.0,774.2 143.4,789.8 143.1,795" stroke-width="4.5"/>
<path d="M5.8,506.6C6.4,526.1 8.4,587.8 9.7,623.5C11.0,659.2 12.6,692.4 13.6,721C14.6,749.6 15.3,782.7 15.6,795" stroke-width="4"/>
<path d="M0,212L63,212M0,366L67,363M0,462L77,465M0,563L88,565M0,663L108,666" stroke-width="3.2"/></g>
</g>
</g>
<g transform="translate(1927,1806)" clip-path="url(#pc3)">
<rect x="-10" y="-10" width="424" height="806" fill="url(#sea3)"/>
<path d="M-80,-60 L257.2,-23.4 257.2,-23.4C261.1,-0.0 274.1,74.0 280.6,116.9C287.1,159.8 292.3,188.3 296.2,233.8C300.1,279.3 303.4,337.7 304,389.7C304.6,441.7 302.1,500.1 300.1,545.6C298.2,591.1 295.6,630.0 292.3,662.5C289.1,695.0 284.5,715.8 280.6,740.5C276.7,765.2 270.8,798.9 268.9,810.6 L-80,846 Z" fill="#1c5d5e" filter="url(#b40)"/>
<path d="M-60,-40 L233.8,-15.6 233.8,-15.6C233.2,6.5 235.1,81.8 229.9,116.9C224.7,152.0 210.5,162.4 202.7,194.9C194.9,227.4 186.4,272.8 183.2,311.8C179.9,350.8 182.5,389.7 183.2,428.7C183.8,467.7 185.1,506.6 187.1,545.6C189.1,584.6 191.0,630.0 194.9,662.5C198.8,695.0 205.2,715.8 210.4,740.5C215.6,765.2 223.4,798.9 226,810.6 L-60,846 Z" fill="#2e877a" filter="url(#b28)"/>
<path d="M194.9,736.6C190.3,734.6 175.4,731.4 167.6,724.9C159.8,718.4 153.9,709.3 148.1,697.6C142.2,685.9 137.1,670.3 132.5,654.7C128.0,639.1 124.0,622.3 120.8,604.1C117.5,585.9 115.3,565.1 113,545.6C110.7,526.1 109.5,504.6 107.2,487.1C104.9,469.6 99.4,455.3 99.4,440.4C99.4,425.5 106.8,412.4 107.2,397.5C107.7,382.6 102.9,366.3 102.1,350.7C101.2,335.1 101.6,320.2 102.1,304C102.6,287.8 104.3,271.5 105.2,253.3C106.1,235.1 105.2,212.4 107.2,194.9C109.2,177.4 112.4,162.4 116.9,148.1C121.5,133.8 127.3,120.1 134.5,109.1C141.7,98.0 150.4,89.3 159.8,81.8C169.2,74.3 180.6,67.9 191,64.3C201.4,60.7 216.9,61.0 222.1,60.4" fill="none" stroke="#d8ece4" stroke-width="16" opacity="0.55" filter="url(#b6)"/>
<g filter="url(#foam)"><rect x="0" y="0" width="404" height="786" fill="none"/><path d="M155.9,83.8C162.1,77.3 179.9,75.0 183.2,77.9C186.4,80.8 180.6,93.5 175.4,101.3C170.2,109.1 156.9,122.1 152,124.7C147.1,127.3 145.4,123.7 146.1,116.9C146.8,110.1 149.7,90.3 155.9,83.8Z" fill="#eef4f3" opacity="0.57"/>
<path d="M113,183.2C116.2,176.1 131.8,167.0 136.4,175.4C141.0,183.8 141.6,222.1 140.3,233.8C139.0,245.5 132.5,248.1 128.6,245.5C124.7,242.9 119.5,228.6 116.9,218.2C114.3,207.8 109.8,190.3 113,183.2Z" fill="#eef4f3" opacity="0.66"/>
<path d="M138.3,245.5C138.6,239.0 144.2,239.0 146.1,245.5C148.0,252.0 150.3,278.0 150,284.5C149.7,291.0 146.1,291.0 144.2,284.5C142.2,278.0 138.0,252.0 138.3,245.5Z" fill="#eef4f3" opacity="0.76"/>
<path d="M120.8,296.2C126.0,292.9 146.8,309.2 148.1,315.7C149.4,322.2 133.8,331.9 128.6,335.2C123.4,338.4 118.2,341.7 116.9,335.2C115.6,328.7 115.6,299.4 120.8,296.2Z" fill="#eef4f3" opacity="0.71"/>
<path d="M105.2,265C108.5,261.8 124.0,264.3 128.6,268.9C133.2,273.4 135.8,289.1 132.5,292.3C129.2,295.6 113.6,292.9 109.1,288.4C104.5,283.8 102.0,268.2 105.2,265Z" fill="#eef4f3" opacity="0.47"/>
<path d="M183.2,393.6C185.1,392.0 193.3,394.9 194.9,397.5C196.5,400.1 194.9,407.6 192.9,409.2C190.9,410.8 184.8,409.8 183.2,407.2C181.6,404.6 181.2,395.2 183.2,393.6Z" fill="#eef4f3" opacity="0.76"/>
<path d="M187.1,463.8C192.3,458.0 205.2,461.2 210.4,467.7C215.6,474.2 223.4,496.9 218.2,502.7C213.0,508.5 184.5,509.2 179.3,502.7C174.1,496.2 181.9,469.6 187.1,463.8Z" fill="#eef4f3" opacity="0.76"/>
<path d="M202.7,654.7C209.8,648.9 219.5,655.4 222.1,662.5C224.7,669.6 222.7,691.1 218.2,697.6C213.7,704.1 200.7,698.9 194.9,701.5C189.1,704.1 185.8,713.9 183.2,713.2C180.6,712.6 176.1,707.4 179.3,697.6C182.6,687.9 195.6,660.6 202.7,654.7Z" fill="#eef4f3" opacity="0.66"/>
<path d="M218.2,740.5C220.8,729.7 228.6,713.5 233.8,721C239.0,728.5 252.0,774.9 249.4,785.7C246.8,796.5 223.4,793.2 218.2,785.7C213.0,778.2 215.6,751.3 218.2,740.5Z" fill="#eef4f3" opacity="0.47"/>
<path d="M280.6,23.4C283.2,14.3 305.3,2.6 311.8,7.8C318.3,13.0 322.2,45.5 319.6,54.6C317.0,63.7 302.7,67.6 296.2,62.4C289.7,57.2 278.0,32.5 280.6,23.4Z" fill="#eef4f3" opacity="0.52"/>
<path d="M191,386.6 224.1,381.9 242.4,494.2 219,502.7Z" fill="#153540" filter="url(#b2)" opacity=".85"/>
<path d="M205.8,562 243.6,555.3 259.2,670.3 249.4,740.5 233.8,740.5 218.2,662.5Z" fill="#153540" filter="url(#b2)" opacity=".8"/></g>
<path d="M191,386.6 224.1,381.9 242.4,494.2 219,502.7Z" fill="#153540" filter="url(#b2)" opacity=".85"/>
<path d="M205.8,562 243.6,555.3 259.2,670.3 249.4,740.5 233.8,740.5 218.2,662.5Z" fill="#153540" filter="url(#b2)" opacity=".8"/>
<g filter="url(#b1)">
<path d="M171.5,-7.8C168.9,-3.9 163.1,7.2 155.9,15.6C148.8,24.0 136.7,31.9 128.6,42.9C120.5,53.9 113.0,67.5 107.2,81.8C101.4,96.1 97.4,113.0 93.5,128.6C89.6,144.2 88.0,160.5 83.8,175.4C79.6,190.3 70.6,202.0 68.2,218.2C65.8,234.4 69.0,250.7 69.4,272.8C69.9,294.9 70.5,324.7 70.9,350.7C71.4,376.7 70.9,406.0 72.1,428.7C73.3,451.4 75.3,467.6 77.9,487.1C80.5,506.6 84.5,526.1 87.7,545.6C91.0,565.1 93.5,585.9 97.4,604.1C101.3,622.3 105.9,639.8 111.1,654.7C116.3,669.6 122.1,680.7 128.6,693.7C135.1,706.7 144.8,721.0 150,732.7C155.2,744.4 158.8,753.4 159.8,763.8C160.8,774.2 156.6,789.8 155.9,795 L210.4,795C210.4,787.9 213.0,761.8 210.4,752.1C207.8,742.4 202.0,741.1 194.9,736.6C187.8,732.1 175.4,731.4 167.6,724.9C159.8,718.4 153.9,709.3 148.1,697.6C142.2,685.9 137.1,670.3 132.5,654.7C128.0,639.1 124.0,622.3 120.8,604.1C117.5,585.9 115.3,565.1 113,545.6C110.7,526.1 109.5,504.6 107.2,487.1C104.9,469.6 99.4,455.3 99.4,440.4C99.4,425.5 106.8,412.4 107.2,397.5C107.7,382.6 102.9,366.3 102.1,350.7C101.2,335.1 101.6,320.2 102.1,304C102.6,287.8 104.3,271.5 105.2,253.3C106.1,235.1 105.2,212.4 107.2,194.9C109.2,177.4 112.4,162.4 116.9,148.1C121.5,133.8 127.3,120.1 134.5,109.1C141.7,98.0 150.4,89.3 159.8,81.8C169.2,74.3 180.6,67.9 191,64.3C201.4,60.7 211.7,60.1 222.1,60.4C232.5,60.7 245.5,68.6 253.3,66.3C261.1,64.0 264.3,53.9 268.9,46.8C273.4,39.6 278.7,32.5 280.6,23.4C282.6,14.3 280.6,-2.6 280.6,-7.8Z" fill="#dccdb0"/>
<path d="M282.5,0C286.1,-6.2 305.9,-3.9 311.8,0C317.7,3.9 317.3,15.6 317.6,23.4C317.9,31.2 316.6,41.6 313.7,46.8C310.8,52.0 304.0,56.2 300.1,54.6C296.2,53.0 293.2,46.1 290.3,37C287.4,27.9 278.9,6.2 282.5,0Z" fill="#8d8f86"/>
<path d="M228,0C235.2,-2.6 265.3,-2.9 272.8,0C280.3,2.9 279.9,14.9 272.8,17.5C265.7,20.1 237.4,18.5 229.9,15.6C222.4,12.7 220.8,2.6 228,0Z" fill="#6f7672"/>
<rect x="242" y="19" width="21" height="10" fill="#58a886"/>
<path d="M272.8,42.9C277.4,38.4 288.1,29.9 292.3,31.2C296.5,32.5 300.7,41.0 298.1,50.7C295.5,60.4 283.2,79.2 276.7,89.6C270.2,100.0 264.4,108.3 259.2,113C254.0,117.7 249.4,118.4 245.5,117.7C241.6,117.0 235.2,114.8 235.8,109.1C236.5,103.4 244.5,92.2 249.4,83.8C254.3,75.4 261.1,65.3 265,58.5C268.9,51.7 268.2,47.4 272.8,42.9Z" fill="#b9b9b0" stroke="#6e736e" stroke-width="2"/>
<path d="M183.2,734.6C183.8,728.8 196.2,722.6 202.7,721C209.2,719.4 216.9,721.0 222.1,724.9C227.3,728.8 232.8,737.2 233.8,744.3C234.8,751.4 230.6,759.2 228,767.7C225.4,776.2 225.7,790.5 218.2,795C210.7,799.5 186.4,801.5 183.2,795C180.0,788.5 198.8,766.1 198.8,756C198.8,745.9 182.5,740.4 183.2,734.6Z" fill="#a69f8c"/>
</g>
<g filter="url(#b1u)">
<path d="M171.5,-7.8C168.9,-3.9 163.1,7.2 155.9,15.6C148.8,24.0 136.7,31.9 128.6,42.9C120.5,53.9 113.0,67.5 107.2,81.8C101.4,96.1 97.4,113.0 93.5,128.6C89.6,144.2 88.0,160.5 83.8,175.4C79.6,190.3 70.6,202.0 68.2,218.2C65.8,234.4 69.0,250.7 69.4,272.8C69.9,294.9 70.5,324.7 70.9,350.7C71.4,376.7 70.9,406.0 72.1,428.7C73.3,451.4 75.3,467.6 77.9,487.1C80.5,506.6 84.5,526.1 87.7,545.6C91.0,565.1 93.5,585.9 97.4,604.1C101.3,622.3 105.9,639.8 111.1,654.7C116.3,669.6 122.1,680.7 128.6,693.7C135.1,706.7 144.8,721.0 150,732.7C155.2,744.4 158.8,753.4 159.8,763.8C160.8,774.2 156.6,789.8 155.9,795 L-5,796 L-5,-10 Z" fill="#737d79"/>
<path d="M26,109h19v16h-19zM32,375h26v15h-26zM68,142h19v12h-19z" fill="#a9b0ab"/>
<path d="M38,476h22v30h-22zM5,544h30v22h-30zM76,661h33v18h-33zM2,251h17v20h-17z" fill="#5a6a60"/>
<path d="M35,408h25v18h-25zM39,107h17v22h-17zM17,602h23v22h-23zM42,333h33v22h-33zM37,481h24v29h-24z" fill="#66736d"/>
<path d="M-3,203h24v15h-24zM8,162h28v23h-28zM-6,121h20v20h-20zM12,482h29v30h-29z" fill="#3c4a44"/>
<path d="M-8,333h25v29h-25zM14,758h20v22h-20zM139,756h17v22h-17zM21,410h15v19h-15z" fill="#97a29c"/>
<path d="M56,638h21v20h-21zM42,389h14v16h-14zM17,428h25v22h-25z" fill="#7d7a6c"/>
<path d="M4,187h32v13h-32zM19,255h14v24h-14zM47,412h24v22h-24z" fill="#9a9484"/>
<path d="M49,41h33v20h-33zM112,-0h15v18h-15z" fill="#4a5754"/>
<path d="M42,394h22v14h-22zM53,84h34v16h-34z" fill="#45564d"/>
<path d="M58,773h10v12h-10zM31,479h11v4h-11zM67,165h9v11h-9zM72,23h4v4h-4zM103,745h11v11h-11zM25,428h11v7h-11zM50,354h6v12h-6zM40,242h9v10h-9zM32,437h4v6h-4zM37,317h8v10h-8zM101,717h5v10h-5zM38,594h7v10h-7zM28,421h8v5h-8zM56,276h9v10h-9zM18,430h7v4h-7zM52,229h4v10h-4zM16,128h5v9h-5zM-1,406h12v5h-12zM20,101h9v9h-9zM26,297h6v11h-6zM145,9h12v9h-12zM16,490h12v5h-12zM22,336h7v6h-7zM88,660h10v6h-10zM23,579h7v8h-7zM4,394h4v7h-4zM80,685h4v9h-4zM83,112h9v11h-9zM32,204h12v5h-12zM38,580h5v10h-5zM33,57h11v9h-11zM109,28h9v7h-9zM-3,259h11v7h-11zM3,124h11v9h-11zM-1,336h9v11h-9zM10,668h5v11h-5zM19,291h12v7h-12zM30,172h9v5h-9zM51,283h11v7h-11zM51,418h10v8h-10zM22,421h10v6h-10z" fill="#252e2b"/>
<path d="M7,633h12v7h-12zM58,476h6v8h-6zM61,572h7v10h-7zM19,372h7v9h-7zM31,528h12v11h-12zM47,536h10v11h-10zM100,701h9v9h-9zM26,515h8v10h-8zM5,264h6v11h-6zM47,436h9v8h-9zM45,127h5v10h-5zM54,333h9v8h-9zM35,208h4v8h-4zM42,171h10v10h-10zM50,373h6v5h-6zM32,206h6v12h-6zM48,274h7v7h-7zM7,297h7v7h-7zM25,558h10v7h-10z" fill="#b5a58a"/>
<path d="M40,340h4v11h-4zM70,580h10v7h-10zM17,289h7v8h-7zM6,683h5v10h-5zM23,648h10v11h-10zM81,68h11v8h-11zM65,614h12v4h-12zM54,70h11v10h-11zM66,685h10v6h-10zM3,417h5v7h-5zM10,588h6v6h-6zM48,518h8v9h-8zM63,393h6v11h-6zM-2,205h9v10h-9zM19,442h11v9h-11zM48,315h5v9h-5zM63,743h12v6h-12zM59,503h7v7h-7z" fill="#b5c5bc"/>
<path d="M50,499h11v6h-11zM27,541h4v10h-4zM-3,335h4v6h-4zM19,210h11v11h-11zM70,470h6v10h-6zM0,239h5v4h-5zM19,599h11v12h-11zM45,428h8v4h-8zM32,619h6v5h-6zM29,412h7v6h-7zM9,181h8v9h-8zM36,777h9v10h-9zM36,257h6v8h-6zM49,519h4v7h-4zM38,300h11v8h-11zM43,525h8v4h-8zM37,246h5v8h-5z" fill="#4f8fd8"/>
<path d="M1,449h10v10h-10zM6,57h8v7h-8zM45,278h11v7h-11zM39,196h5v6h-5zM47,576h4v6h-4zM5,179h5v5h-5zM44,183h11v4h-11zM30,448h11v8h-11zM50,133h10v9h-10zM5,266h11v10h-11zM20,414h11v8h-11zM62,484h5v11h-5zM139,-1h6v11h-6zM55,198h4v9h-4zM56,506h6v8h-6zM38,465h10v9h-10zM-2,644h11v9h-11zM40,455h5v7h-5zM62,327h7v5h-7zM17,514h5v5h-5zM28,314h8v8h-8zM65,506h5v11h-5zM73,500h7v10h-7zM42,724h5v11h-5zM66,137h8v11h-8z" fill="#cfd2cd"/>
<path d="M27,246h6v5h-6zM90,764h5v9h-5zM-6,455h9v5h-9zM-3,724h7v5h-7zM73,113h9v7h-9zM10,191h4v11h-4zM-5,377h8v8h-8zM32,351h6v7h-6zM62,581h10v7h-10zM50,189h9v4h-9zM32,346h10v5h-10zM10,126h6v11h-6zM64,546h5v9h-5zM54,753h8v8h-8zM46,301h5v8h-5zM38,162h9v9h-9zM13,299h12v9h-12zM62,669h11v7h-11zM32,123h8v6h-8zM35,500h9v7h-9zM35,21h12v9h-12z" fill="#c9ccc8"/>
<path d="M29,291h6v9h-6zM40,458h11v11h-11zM78,111h9v5h-9zM42,241h9v6h-9zM107,694h5v8h-5zM66,180h6v6h-6zM65,446h4v8h-4zM-4,289h8v11h-8zM-5,546h7v11h-7zM20,53h9v8h-9zM-6,180h9v5h-9zM68,592h6v6h-6zM35,165h11v10h-11zM21,527h12v11h-12zM110,749h10v8h-10zM28,274h4v5h-4zM31,158h9v9h-9zM29,254h9v12h-9zM24,373h8v5h-8zM83,9h4v6h-4zM65,519h11v11h-11z" fill="#4a9a7a"/>
<path d="M37,616h11v8h-11zM31,669h10v5h-10zM55,43h8v8h-8zM39,620h10v11h-10zM2,164h6v4h-6zM16,250h7v10h-7zM61,466h8v7h-8zM15,308h8v11h-8zM15,105h7v9h-7zM68,533h5v6h-5zM12,315h9v9h-9zM24,695h5v6h-5zM22,291h4v7h-4zM9,392h5v4h-5zM8,647h7v6h-7zM45,610h5v12h-5zM39,502h7v7h-7zM47,334h9v10h-9zM48,716h9v5h-9zM49,197h10v11h-10zM31,755h11v10h-11zM40,493h9v8h-9zM13,629h9v11h-9zM43,318h12v8h-12zM93,730h4v9h-4zM7,528h8v9h-8zM10,90h7v6h-7zM0,108h9v8h-9zM145,757h6v9h-6zM72,775h10v9h-10zM30,223h8v7h-8zM12,42h7v10h-7z" fill="#2f3b34"/>
<path d="M3,318h4v6h-4zM34,625h11v6h-11zM29,545h5v4h-5zM20,131h8v4h-8zM55,117h11v7h-11zM61,150h12v10h-12zM37,530h12v9h-12zM55,41h9v10h-9zM78,130h4v8h-4zM65,77h7v6h-7zM28,318h5v8h-5zM67,465h9v5h-9zM32,677h10v11h-10zM23,364h6v8h-6zM17,109h7v4h-7zM51,326h4v5h-4zM60,119h6v6h-6zM57,666h9v11h-9zM16,232h10v6h-10zM19,222h5v12h-5zM48,424h9v8h-9zM4,307h8v6h-8zM19,3h10v9h-10zM12,322h7v4h-7zM2,182h6v6h-6zM39,482h11v11h-11zM35,216h9v9h-9zM14,664h9v6h-9zM31,177h11v5h-11zM39,454h10v9h-10zM18,515h9v11h-9zM27,474h7v7h-7zM35,204h9v12h-9zM43,138h9v8h-9zM58,696h4v4h-4zM0,648h9v12h-9zM14,326h8v7h-8zM54,7h10v8h-10zM58,408h8v12h-8zM57,587h8v6h-8zM6,179h10v6h-10zM79,88h5v5h-5zM53,669h6v6h-6zM94,640h11v5h-11zM128,775h8v11h-8z" fill="#3e4b47"/>
<path d="M24,238h6v7h-6zM30,625h5v11h-5zM79,722h4v11h-4zM6,767h8v11h-8zM131,762h8v8h-8zM45,304h8v11h-8zM21,271h6v10h-6zM3,160h5v5h-5zM63,471h11v9h-11zM73,645h9v11h-9zM4,214h5v4h-5zM58,251h5v6h-5zM114,710h6v10h-6zM84,136h5v11h-5zM11,137h10v4h-10z" fill="#6ab0d8"/>
<path d="M76,552h8v7h-8zM37,447h12v8h-12zM43,390h8v7h-8zM-3,766h12v8h-12zM88,678h8v6h-8zM55,22h5v8h-5zM88,594h4v8h-4zM58,595h5v6h-5zM95,18h5v5h-5zM37,61h9v10h-9zM24,406h8v10h-8zM15,727h8v11h-8zM48,449h5v4h-5zM49,36h11v7h-11zM24,610h6v5h-6zM25,209h11v7h-11zM32,424h9v12h-9z" fill="#9a9d99"/>
<path d="M29,469h7v11h-7zM79,596h5v5h-5zM79,104h8v7h-8zM49,107h10v4h-10zM44,437h4v12h-4zM18,279h6v8h-6zM50,594h5v5h-5zM52,25h6v10h-6zM89,652h12v10h-12zM21,140h11v8h-11zM-3,507h8v9h-8zM63,587h9v12h-9zM25,57h6v8h-6zM32,172h9v12h-9zM40,386h11v11h-11z" fill="#2f5fae"/>
<path d="M10,554h8v8h-8zM15,275h11v5h-11zM25,271h10v10h-10zM22,307h7v10h-7zM16,755h12v11h-12zM76,601h5v7h-5zM37,288h7v10h-7zM38,219h6v8h-6zM49,323h12v11h-12zM54,373h6v11h-6zM-0,272h10v7h-10zM6,543h4v4h-4z" fill="#5aae8a"/>
<path d="M31,226h11v6h-11zM14,482h8v6h-8zM86,692h11v5h-11zM-0,448h6v5h-6zM13,157h12v6h-12zM24,597h6v11h-6zM42,506h4v11h-4zM47,178h6v12h-6zM22,244h9v9h-9zM36,26h10v11h-10zM-5,151h10v12h-10zM56,279h9v10h-9zM41,379h4v11h-4zM60,139h7v11h-7zM38,127h9v7h-9zM50,256h10v10h-10zM58,387h8v8h-8zM102,682h11v5h-11zM5,518h4v9h-4zM82,578h7v4h-7z" fill="#d8dad5"/>
<path d="M4,245h6v9h-6zM-0,378h5v11h-5zM25,366h8v4h-8zM39,412h5v9h-5zM8,336h8v8h-8zM12,512h11v5h-11zM28,770h9v7h-9zM73,609h8v9h-8zM69,123h11v8h-11zM39,115h11v7h-11zM19,410h7v8h-7zM59,333h6v6h-6zM41,527h9v5h-9zM17,435h9v4h-9zM122,777h10v6h-10zM75,-3h6v9h-6zM37,335h5v11h-5zM61,429h8v12h-8zM12,388h5v5h-5zM93,709h7v11h-7zM12,652h8v5h-8zM70,762h6v5h-6zM-3,524h4v10h-4zM59,406h12v11h-12zM100,25h6v12h-6zM63,9h11v9h-11zM43,714h8v7h-8zM32,283h8v11h-8zM83,26h9v9h-9zM40,221h9v5h-9zM20,470h11v5h-11zM3,425h9v4h-9zM68,503h9v5h-9zM64,136h9v4h-9zM61,398h11v9h-11zM40,285h9v7h-9zM0,171h9v8h-9zM-1,86h9v5h-9zM44,263h7v4h-7zM-4,71h6v8h-6zM32,714h4v7h-4zM74,573h11v8h-11z" fill="#3a4545"/>
<path d="M58,303h6v6h-6zM36,3h5v7h-5zM-4,521h8v10h-8zM21,405h4v6h-4zM10,42h11v6h-11zM-1,692h7v10h-7zM67,179h7v9h-7zM2,400h12v6h-12zM45,205h11v7h-11zM29,169h6v6h-6zM33,540h7v12h-7zM111,45h8v9h-8zM42,206h5v10h-5zM-1,9h6v10h-6zM18,605h6v11h-6zM29,420h5v8h-5zM30,376h8v7h-8zM-7,383h11v6h-11z" fill="#3b70c4"/>
<path d="M21,179h12v8h-12zM15,376h7v7h-7zM34,780h12v8h-12zM-0,599h9v6h-9zM79,548h5v9h-5zM58,706h9v7h-9zM78,589h5v8h-5zM42,258h6v7h-6zM30,69h8v5h-8zM14,5h7v10h-7zM4,59h6v6h-6zM63,510h9v4h-9zM4,298h6v11h-6zM-6,137h11v7h-11zM80,11h9v5h-9zM49,284h4v9h-4zM60,145h9v6h-9zM36,727h9v11h-9zM45,178h8v7h-8zM88,103h8v11h-8zM21,240h6v4h-6zM26,167h9v9h-9zM68,606h5v7h-5zM21,454h5v7h-5zM20,687h7v5h-7zM59,287h9v8h-9z" fill="#c0c4bf"/>
<path d="M57,403h8v11h-8zM8,456h6v8h-6zM59,356h11v7h-11zM3,410h7v6h-7zM42,494h5v10h-5zM44,318h7v9h-7zM14,587h10v6h-10zM-0,83h6v9h-6zM14,640h7v11h-7zM3,363h11v9h-11zM51,44h10v4h-10zM107,63h8v5h-8zM97,663h6v11h-6zM20,361h7v5h-7zM26,593h8v11h-8zM4,769h6v8h-6zM25,163h8v11h-8zM26,96h9v5h-9zM7,291h6v4h-6zM5,524h5v4h-5zM48,372h8v12h-8z" fill="#8d7c66"/>
<path d="M21,224h11v9h-11zM42,117h9v8h-9zM87,95h8v9h-8zM2,647h5v7h-5zM58,524h4v7h-4zM120,700h6v12h-6zM21,330h7v11h-7zM62,652h9v10h-9zM8,755h6v11h-6zM63,636h10v11h-10zM-5,477h8v9h-8zM7,466h4v7h-4zM1,546h8v10h-8zM36,392h5v12h-5zM67,156h4v10h-4z" fill="#7f837f"/>
<path d="M35,569h9v10h-9zM-3,237h12v6h-12zM12,660h5v7h-5zM1,273h8v7h-8zM47,485h7v5h-7zM23,639h11v9h-11zM44,27h5v8h-5zM29,72h12v7h-12zM50,533h8v6h-8zM3,21h10v7h-10zM57,278h9v4h-9zM1,169h7v6h-7zM42,649h12v4h-12zM1,630h11v5h-11zM24,634h7v5h-7zM49,118h7v4h-7zM37,770h8v8h-8zM-2,326h7v12h-7zM10,389h10v8h-10zM-5,484h6v9h-6zM43,314h4v9h-4zM52,515h7v5h-7zM40,521h11v5h-11zM114,703h10v10h-10zM27,586h7v7h-7zM62,435h11v8h-11zM34,372h7v10h-7zM37,351h10v5h-10zM17,357h8v11h-8zM75,155h7v7h-7zM6,80h7v7h-7zM40,287h11v7h-11zM49,264h7v9h-7zM73,588h10v4h-10zM14,452h7v10h-7zM24,31h5v4h-5zM32,377h5v5h-5zM58,230h4v4h-4zM38,36h10v10h-10zM41,348h9v11h-9zM91,665h6v6h-6z" fill="#323e3a"/>
<path d="M62,196h5v6h-5zM31,551h7v8h-7zM31,12h8v4h-8zM50,419h4v7h-4zM66,545h11v10h-11zM60,221h9v9h-9zM86,0h4v7h-4zM4,221h10v8h-10zM-0,462h8v8h-8zM17,11h7v7h-7zM21,591h9v8h-9zM23,409h11v5h-11zM3,539h4v5h-4z" fill="#cf4a45"/>
<path d="M99,-1h6v10h-6zM53,564h9v10h-9zM82,123h6v12h-6zM54,401h5v7h-5zM42,508h8v6h-8zM78,599h4v5h-4zM28,728h8v9h-8zM9,462h8v9h-8zM52,282h10v8h-10zM134,-3h11v11h-11zM93,627h9v11h-9zM65,558h11v6h-11zM88,600h6v4h-6zM31,230h5v11h-5zM16,322h9v6h-9zM14,578h12v10h-12zM13,221h10v5h-10zM67,71h8v6h-8zM8,699h9v7h-9zM31,229h12v9h-12zM114,776h6v10h-6zM59,329h11v7h-11zM68,106h10v12h-10zM47,186h6v10h-6zM2,533h9v11h-9zM113,776h8v11h-8z" fill="#2a3533"/>
<path d="M2,198h7v11h-7zM78,44h8v11h-8zM17,279h9v6h-9zM71,164h7v7h-7zM52,30h5v9h-5zM107,752h6v11h-6zM46,228h12v11h-12zM54,720h7v9h-7zM42,328h8v7h-8zM44,189h12v7h-12zM49,358h11v9h-11zM106,39h9v9h-9zM-4,598h7v8h-7zM24,198h6v10h-6zM18,28h9v7h-9zM66,651h6v5h-6zM82,626h6v5h-6zM107,675h10v11h-10zM10,694h9v10h-9zM69,77h8v12h-8zM66,75h6v9h-6zM15,659h7v12h-7zM116,768h10v12h-10zM38,389h10v7h-10zM16,174h8v5h-8zM59,157h5v10h-5zM7,182h10v4h-10zM-6,431h10v9h-10zM80,695h11v12h-11z" fill="#3f8d6e"/>
<path d="M74,71h11v10h-11zM45,573h9v6h-9zM32,14h7v8h-7zM4,38h7v8h-7zM66,527h11v7h-11zM4,412h4v10h-4zM39,262h4v5h-4zM18,495h7v7h-7zM8,364h4v8h-4zM62,700h5v10h-5zM70,640h7v6h-7z" fill="#e2e3df"/>
<g fill="none" stroke="#a8aaa6"><path d="M7.8,-7.8C9.4,6.5 14.4,47.4 17.5,77.9C20.6,108.4 23.7,142.9 26.5,175.4C29.3,207.9 31.9,240.3 34.3,272.8C36.7,305.3 38.5,337.7 40.9,370.2C43.3,402.7 45.8,435.2 48.7,467.7C51.6,500.2 54.9,535.9 58.5,565.1C62.1,594.3 65.0,618.3 70.1,643C75.2,667.7 82.1,687.9 88.9,713.2C95.7,738.5 107.4,781.4 111.1,795" stroke-width="5.5"/>
<path d="M166.5,-7.8C163.9,-3.9 158.1,7.2 150.9,15.6C143.8,24.0 131.7,31.9 123.6,42.9C115.5,53.9 108.0,67.5 102.2,81.8C96.4,96.1 92.4,113.0 88.5,128.6C84.6,144.2 83.0,160.5 78.8,175.4C74.6,190.3 65.6,202.0 63.2,218.2C60.8,234.4 64.0,250.7 64.4,272.8C64.9,294.9 65.5,324.7 65.9,350.7C66.4,376.7 65.9,406.0 67.1,428.7C68.3,451.4 70.3,467.6 72.9,487.1C75.5,506.6 79.5,526.1 82.7,545.6C86.0,565.1 88.5,585.9 92.4,604.1C96.3,622.3 100.9,639.8 106.1,654.7C111.3,669.6 117.1,680.7 123.6,693.7C130.1,706.7 139.8,721.0 145,732.7C150.2,744.4 153.8,753.4 154.8,763.8C155.8,774.2 151.6,789.8 150.9,795" stroke-width="4.5"/>
<path d="M5.8,506.6C6.4,526.1 8.4,587.8 9.7,623.5C11.0,659.2 12.6,692.4 13.6,721C14.6,749.6 15.3,782.7 15.6,795" stroke-width="4"/>
<path d="M0,212L70,209M0,366L71,364M0,462L75,464M0,563L91,566M0,663L115,663" stroke-width="3.2"/></g>
</g>
</g>
<g fill="#c00000">
<path d="M456,1716.5 L475.7,1755 L436.3,1755 Z"/><rect x="450.7" y="1754" width="10.8" height="67"/>
<path d="M1420.5,1719.5 L1440.2,1757.5 L1400.8,1757.5 Z"/><path d="M1415.3,1757 h10.8 v59 h-160.3 v-10.8 h149.5 Z"/>
<path d="M1911,1717 L1930.7,1755 L1891.3,1755 Z"/><path d="M1905.4,1754 h10.8 v63.6 h-75 v-10.8 h64.2 Z"/>
<path d="M1975.5,1718 L1995.2,1755 L1955.8,1755 Z"/><rect x="1970.2" y="1754" width="10.8" height="62"/>
</g>
<g font-family="'Liberation Sans', sans-serif" font-size="46" fill="#000">
<text x="357.5" y="2659" textLength="237" lengthAdjust="spacingAndGlyphs">2015/10/28</text>
<text x="927" y="2654" textLength="237" lengthAdjust="spacingAndGlyphs">2017/09/29</text>
<text x="1504.5" y="2655" textLength="237" lengthAdjust="spacingAndGlyphs">2018/08/26</text>
<text x="1981" y="2658.5" textLength="237" lengthAdjust="spacingAndGlyphs">2018/11/30</text>
</g>
</svg>
</body></html>
